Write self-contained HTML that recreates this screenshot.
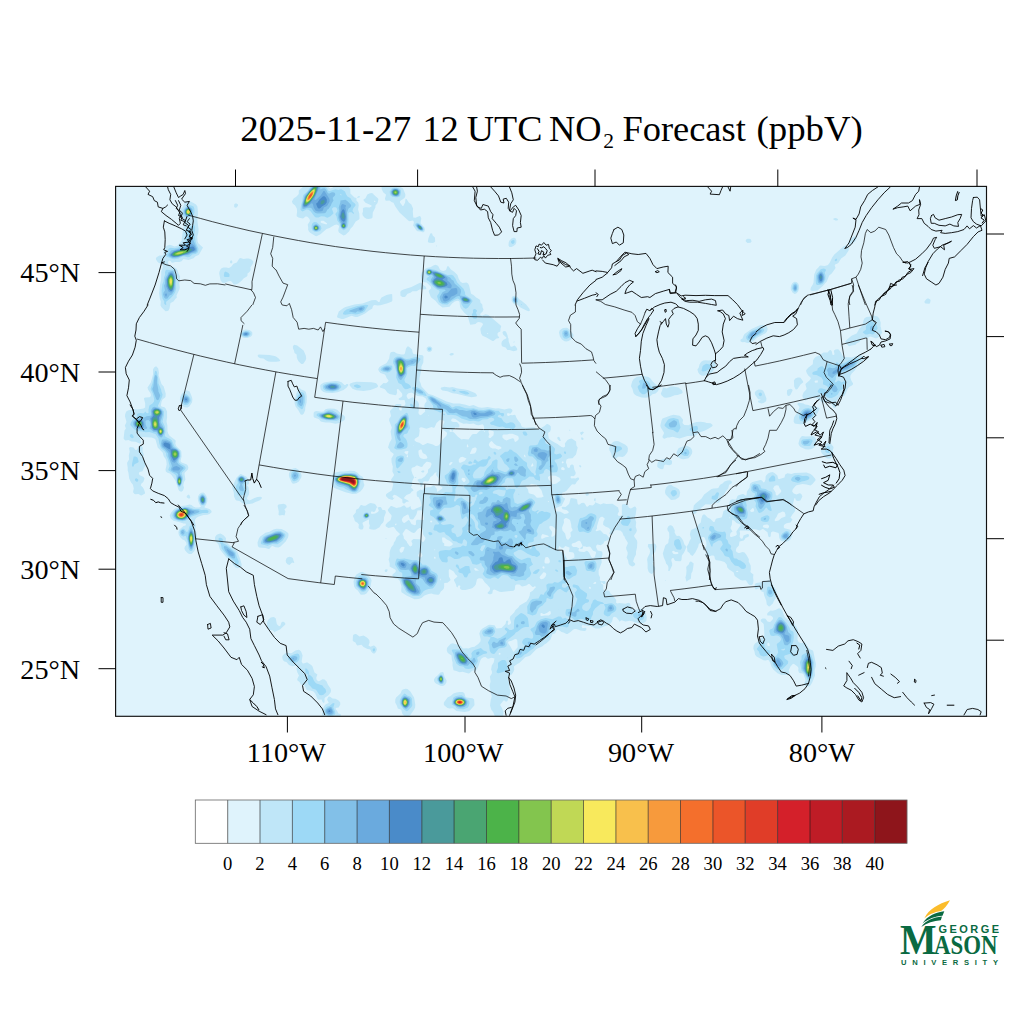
<!DOCTYPE html>
<html><head><meta charset="utf-8"><title>NO2 Forecast</title>
<style>
html,body{margin:0;padding:0;background:#fff;}
body{width:1024px;height:1024px;overflow:hidden;font-family:"Liberation Serif",serif;}
svg{display:block;position:absolute;left:0;top:0;}
text{font-family:"Liberation Serif",serif;fill:#000;}
.sans{font-family:"Liberation Sans",sans-serif;font-weight:bold;fill:#0a6a42;}
.ln{fill:none;stroke:#000;stroke-width:0.9;stroke-linejoin:round;stroke-linecap:round;}
.st{fill:none;stroke:#000;stroke-width:0.72;stroke-linejoin:round;}
.lb{fill:none;stroke:#000;stroke-width:1.0;stroke-linejoin:round;}
</style></head><body>
<svg width="1024" height="1024" viewBox="0 0 1024 1024">
<defs><clipPath id="mc"><rect x="115.6" y="186.4" width="870.9" height="529.9"/></clipPath></defs>
<rect x="115.6" y="186.4" width="870.9" height="529.9" fill="#dff3fc"/>
<g clip-path="url(#mc)">
<path fill="#bfe6f8" fill-rule="evenodd" d="M303.9 183.5 324.9 183.5 326.1 185.5 330.5 188.5 332.9 187.5 334.5 184.6 335.7 183.5 344.3 183.5 347.8 185.5 348.8 186.5 350.3 189.5 350.4 193.5 354.5 197.5 356.5 198.1 356.4 200.5 358.2 202.5 358.5 203.5 358.7 205.5 358.1 209.5 359.3 213.5 359.5 218.5 359 219.5 355.7 221.5 352.7 226.5 350.5 228.8 349 231.5 345.5 234.8 343.5 235.4 338.9 232.5 338.2 230.5 339.1 226.5 338.5 225.3 336.5 224.6 334.5 225 329.5 228.1 326.5 229.1 320.5 234.2 316.5 236.2 315.5 236.1 310.5 233 308.9 231.5 308.1 229.5 308.2 227.5 307.7 224.5 309.7 221.5 309.9 220.5 309.5 219.1 307.5 216.8 306.5 216.4 305.5 216.6 303.5 218.3 302.5 218.4 298.5 217.6 296.9 216.5 296.6 215.5 297.1 211.5 296.8 208.5 295.1 205.5 292.7 203.5 291.9 201.5 293.6 198.5 296.5 196.5 298.4 194.5 298.8 193.5 298.8 190.5 302.4 187.5ZM321.5 220.8 320.6 221.5 320.8 222.5 321.5 223 326.5 224.4 327.2 223.5 323.5 220.8ZM381 183.5 389 183.5 391.5 184.8 394.5 185 396.5 185.9 399.5 186.4 403.1 188.5 405.4 194.5 405.2 196.5 404.5 198 400.5 200.7 400 201.5 400 202.5 402.5 205.9 403.5 205.8 405.1 202.5 405.5 198.7 406.5 199.1 408.8 202.5 411.3 204.5 413.1 208.5 412.8 211.5 413.3 217.5 415.5 217.7 419.5 216 420.5 216.5 421.3 218.5 420.6 222.5 420.8 223.5 424.4 227.5 424.9 229.5 424.4 231.5 423.5 232.2 422.5 232.3 420.5 231.5 417.5 231.2 416.5 230.6 413.1 225.5 413.9 222.5 413.5 220.9 412.5 220.5 409.5 221.2 408.5 220.7 399.5 212.5 395.3 206.5 393.5 202.8 391.5 202 389.5 200.5 386.5 200.8 385.5 200.4 384.9 198.5 385.9 195.5 385.9 194.5 383.4 192.5 381.8 189.5ZM369.4 193.5 371.5 193 373 193.5 373.6 194.5 378.1 198.5 378.4 199.5 377.5 203 375.5 205.4 375.4 207.5 372.8 212.5 372.5 217.5 371.5 218.5 368.5 219.1 366.5 218.7 364.4 217.5 362.8 215.5 362.3 213.5 363 211.5 362.9 208.5 363.5 207.7 365.5 207.2 369.6 207.5 371.5 206.5 371.6 205.5 365.5 202.8 363.6 200.5 363.5 199.5 365.5 198.3 367.3 194.5ZM374.5 200.5 373.9 201.5 374.5 202 375.7 201.5ZM357.9 196.5 359.5 196 359.8 196.5 359.5 197.5 357.5 197.8 356.9 197.5ZM187 201.5 189.5 201.1 193.5 202.9 196 204.5 197.4 206.5 197.9 211.5 197.9 214.5 197.4 217.5 197.5 221.5 198.6 229.5 198.4 232.5 197.3 236.5 197.6 241.5 198.5 243.5 203 247.5 199.1 254.5 198.5 255.1 195.5 256.3 193.5 258.2 188.5 259.9 183.5 259.1 181.5 261.2 179.5 262.1 175.5 262 172.5 262.7 171.5 262.5 171 261.5 169.5 260.5 168.1 261.5 168.1 263.5 169.5 265.8 170.5 266.6 173.5 266.8 176.5 268.7 177.7 270.5 178.5 273.3 180.1 276.5 179.2 283.5 179.8 287.5 179.4 289.5 176.5 295.5 176.8 297.5 176.5 298.1 175.5 298.8 173.5 301.5 170.5 303 169.5 308.5 168.5 310.4 167.5 311.1 165.5 311.2 161.5 307.3 160.5 305.5 160.8 301.5 159.8 298.5 159.1 293.5 159.9 285.5 161.1 279.5 161.2 271.5 163.1 266.5 162.8 265.5 161.5 263.9 158.5 262.7 157.5 261.8 156 259.5 155.9 258.5 156.5 257.3 159.5 255.6 162.7 255.5 163.5 254.5 163.4 251.5 164.1 249.5 165.1 247.5 166.5 246.1 169.5 244.8 171.5 245.2 174.5 246.4 176.5 246.1 177.5 245.5 181.6 240.5 183.2 228.5 184.5 224.5 183.5 220.5 179 215.5 178.5 213.5 179.8 210.5 183.1 206.5 184.3 203.5ZM235.1 203.5 236.5 203.4 238 204.5 238 205.5 237.4 206.5 236.5 207.4 235.5 207.7 234.5 207.3 234.1 206.5 234.2 204.5ZM833.4 218.5 835.5 218 837.1 218.5 838.2 219.5 837.3 220.5 835.5 220.6 833.4 219.5ZM430.3 233.5 431.5 233.2 432.1 233.5 432.7 235.5 434.9 237.5 435.2 241.5 434.2 242.5 432.5 242.9 429.5 242.8 428.5 242.5 427.8 241.5 428.5 238.1ZM854.5 236.5 855.9 236.5 856.6 237.5 856.1 239.5 855.1 241.5 850.5 244.9 848.5 244.7 848 243.5 848.8 241.5 852.7 237.5ZM511.5 238.5 513.5 237.7 514.5 237.8 515.5 238.5 516.4 240.5 516.3 242.5 515.4 244.5 513.5 246.1 511.5 246.9 509.5 246.9 508.5 245.5 508.7 242.5 509.5 240.5ZM746.2 239.5 747.5 238.8 749.5 238.8 750.9 239.5 751.6 241.5 750.5 242.8 747.5 243 745.8 241.5 745.7 240.5ZM436.3 245.5 436.5 244.8 436.9 246.5 436.5 246.8ZM843.5 246.5 845.5 245.5 847.5 245.9 849 248.5 848.6 250.5 845.4 255.5 841.1 258.5 838.5 262.7 837.5 263.6 835.1 264.5 834.7 265.5 835.5 267.5 835.3 268.5 831.7 273.5 829.2 275.5 826.8 281.5 822.5 286.3 817.5 290.4 812.5 291 810.7 290.5 810.4 289.5 810.9 287.5 812.8 284.5 813.5 282.5 814.2 274.5 816.3 269.5 818.4 267.5 819.5 265.9 820.5 265.6 824.5 265.9 827.5 265.3 828.4 264.5 829.8 262.5 832.2 257.5 834.3 254.5ZM239.3 258.5 240.5 257.9 243.5 258.9 246.5 258.4 248.8 258.5 251.5 259.5 253.3 261.5 253 263.5 250.4 267.5 250.7 269.5 250.4 270.5 249.5 272 247.5 273.5 247.5 275.5 246.8 276.5 243.5 278.4 241.9 280.5 238.5 283.2 236.5 284.2 234.5 284.4 233.5 283.9 231.5 281.5 230.5 281.1 228.5 281.3 224.5 282.9 222.5 282.8 220.6 280.5 219.2 273.5 219.5 271.5 220.5 269.5 221.5 268.3 223.5 267.5 226.5 267.5 228.5 267.9 229.5 267.7 231.4 266.5 233.5 263.8 236.8 262.5ZM230.7 260.5 231.5 260.2 232.3 261.5 232.4 262.5 231.5 263.5 230.5 263.2 230 262.5 230 261.5ZM433.4 265.5 435.5 264.8 437.5 265.4 438.5 266.5 439.9 269.5 441.3 270.5 443.5 271 445.5 270.3 446.2 269.5 447.2 266.5 447.5 266.2 448.5 266.2 450.9 269.5 454.5 272.1 457.5 274.9 458.6 278.5 460.5 281.7 462.5 282.9 466.5 282.6 468.1 283.5 469.1 285.5 471 293.5 471.5 294.1 473.5 294.9 476.2 297.5 479.6 299.5 480.2 300.5 480.4 302.5 482.3 304.5 482.6 307.5 483.5 309.5 482.7 311.5 480.5 313.5 480.2 314.5 480.5 315 481.5 315.5 482.5 315.4 485.5 314.3 488.5 315 500.7 325.5 501.2 326.5 500.5 328.5 500.3 331.5 498.2 332.5 497.5 333.6 497.6 335.5 499.3 337.5 498.5 338.3 496.5 338.6 493.5 341.1 492.5 341.1 486.5 337.6 482.5 335.8 481.1 333.5 480.4 329.5 480.5 328.5 483 324.5 482.7 323.5 481.2 322.5 478.5 321.9 477 322.5 475.5 323.9 470.5 324.8 470.1 324.5 467.5 315.5 464.5 313 460.8 308.5 460 306.5 459.5 301.7 458.5 301 457.5 300.8 454.7 301.5 452.1 303.5 449.5 306.7 442.5 307.4 438.5 304.4 435.5 300.7 431.5 297.8 430.6 296.5 428.7 291.5 428.9 290.5 431.1 288.5 430.8 286.5 426.6 282.5 422.5 282 421.6 281.5 420.8 275.5 421.7 272.5 425.5 268.7 427.5 267.8 430.5 267.3ZM487.5 332.9 486.9 333.5 487.5 334.1 488.4 333.5ZM793.1 282.5 794.5 281.8 796.5 282 798.2 283.5 799 285.5 799.1 288.5 798.1 291.5 796.5 293.3 795.5 293.8 794.5 293.9 792.5 292.5 790.8 289.5 790.7 287.5 791.1 285.5 792.1 283.5ZM418.4 283.5 420.5 282.5 421.5 282.9 422.5 284.5 425.5 286.6 426.5 288.6 425.5 289.3 419.5 289.5 416.5 291.2 412.5 291.3 410.5 292.8 407.5 293.8 405.5 296.5 404.5 296.9 402.5 296.9 400.5 295.8 400.3 292.5 400.5 291.5 401.5 290.4 403.5 289.4 411.5 286.9ZM388.6 294.5 391.5 293.9 392.2 294.5 392.4 300.5 391.9 301.5 387.5 303.3 380.5 305.2 377.5 305.5 374.5 305 373.5 305.4 372.8 306.5 372.3 308.5 368.5 310.8 365.5 313.2 362.5 314.8 357.5 316.9 355.5 316.9 351.5 315.8 343.5 319.1 341.5 319 337.3 317.5 337 316.5 338.8 311.5 343.5 308 345.5 307.1 354.5 304.6 362.5 303.5 371.5 300.3 375.5 300.1 376.8 300.5 378.5 301.9 379.5 301.9 380.3 299.5 381.5 297.5 386.5 295ZM512.4 296.5 514.5 295.7 515.5 295.8 517.5 297.1 519.5 299.6 521.5 300.8 526.1 304.5 529.3 308.5 530 310.5 528.5 311.2 526.5 310.6 520.5 307.6 517.5 304.7 514.5 304.2 513.5 303.6 511.9 301.5 511.6 300.5 511.7 297.5ZM927.4 298.5 928.5 298.6 930.2 299.5 930.6 300.5 930.2 302.5 929.5 303.8 925.5 303.5 924.5 302.5 924.5 301.5 925.2 300.5 926.5 298.9ZM870.6 316.5 873.5 315.6 875.5 315.9 877.5 316.6 879.3 318.5 880.7 322.5 880.5 326.5 881 327.5 881.4 330.5 882.2 332.5 880.4 335.5 878.5 337.3 876.5 338.2 875.5 338.2 870.5 336.6 869.5 336.7 867.5 338.1 866.5 338.3 862.5 337.9 861.3 338.5 859.5 342.1 856.5 343.5 855.5 344.7 851.5 345.4 849.5 346.3 848.5 346.1 847.4 344.5 845.9 343.5 845.3 342.5 845.4 341.5 845.9 340.5 851.5 335.7 856.6 333.5 859.5 328.6 862.5 325.6 863.4 320.5 864.5 318.2 866.5 317.1ZM759.3 325.5 761.5 324.9 765.5 324.9 766.4 325.5 767.6 328.5 767.6 329.5 767 331.5 765.5 333.3 757.3 337.5 753.5 341 749.5 342.7 747.5 343 744.5 341.9 742.5 342.3 740.7 341.5 740.4 340.5 740.7 339.5 742.5 338.5 743.6 335.5 744.5 334.1 751.5 328.9ZM562.1 328.5 563.5 328 566.5 327.8 567.5 328 569.5 329.5 573.4 334.5 573.5 336.5 572.4 338.5 568.5 341 566.5 341.5 564.5 341.2 561.9 339.5 559.9 336.5 559 332.5 559.6 330.5ZM242.6 330.5 245.5 329.6 249.5 330.1 251.5 331.4 252.3 332.5 252.3 334.5 251.9 335.5 250.5 336.8 247.5 338 244.5 337.9 241.5 337 240 335.5 239.8 334.5 240.9 332.5ZM503 331.5 504.5 330.9 505.5 331.2 506.4 332.5 507.6 335.5 507.9 337.5 508.5 338.4 508.7 341.5 510.5 346.4 511.5 346.8 512.5 346.6 514.5 345.6 515.5 346.2 517.1 348.5 517.3 349.5 516.6 350.5 513.5 351.3 509.5 349.9 507.5 350 505.6 347.5 502.5 346.5 501.7 345.5 501.4 343.5 501.9 341.5 503.5 339.7 506.1 338.5 506.4 337.5 503.1 334.5 502.5 332.5ZM514 341.5 514.5 341.2 514.5 342.2 513.5 342.8 513.5 342ZM293.4 345.5 294.5 344.8 297.2 345.5 303.6 350.5 305.8 355.5 306.2 358.5 305.5 360.5 303.5 363.4 302.5 364 301.5 363.9 300.5 363.3 298.5 361.2 297.5 359.5 296.8 357.5 296.7 354.5 294.5 352.9 294 350.5 293 348.5 292.9 346.5ZM407.4 346.5 408.7 346.5 412.1 349.5 412.6 352.5 413.5 354 422.5 355.2 423.5 356.5 423.3 362.5 421.4 366.5 421.4 369.5 419.5 378.5 419.4 380.5 420.7 383.5 421.5 386.5 428.5 393.9 432.5 394.9 446.6 401.5 453.5 403.6 459.5 403.6 465.5 404.7 469.5 405.9 473.5 405.1 478.5 407.3 481.5 407.8 484.5 407.6 487.5 406.9 495.4 408.5 498.5 408.2 504.5 409.4 508.5 408.4 510.5 408.6 512 409.5 512.5 410.5 512.2 411.5 510.5 413.7 507.5 413.1 507 414.5 507.5 415.7 508.5 416 510.5 415 512.5 415.2 514.5 414.7 515.5 415.3 516.3 417.5 518.1 420.5 520.6 423.5 521.5 426.2 522.5 426.9 525.5 427.8 533.5 427.2 534.5 427.4 537.5 429.3 538.5 429.4 544.5 426.1 546.5 424.2 547.5 423.9 549.5 425 550.8 426.5 550.8 429.5 550.1 431.5 548.5 432.5 548 433.5 548.8 438.5 551.2 440.5 555.5 443.1 557.5 443.9 561.5 447 563.5 447.4 564.5 447 565 446.5 565.1 445.5 564.8 443.5 567.5 440.1 569.5 439 571.5 438.6 572.5 438.9 576.1 441.5 576.4 445.5 577.7 447.5 576 454.5 572.5 458.2 568.5 458.5 566.5 459.5 565.9 462.5 566.8 464.5 567.1 466.5 567.7 467.5 568.5 467.9 569.8 467.5 570.2 465.5 571.5 464.6 572.5 464.6 573.7 465.5 574.3 469.5 575.7 472.5 575.5 474.2 574.5 475.6 573.5 476.2 571.5 476.1 570.7 476.5 570.5 477.6 571.5 478.4 573.5 478.2 575.5 478.6 577.5 477.5 578.5 477.6 579.2 478.5 579 479.5 576.9 481.5 575.5 483.9 574.5 484.4 572.5 484.2 571.5 484.7 566.5 490.7 564.5 492.1 562.5 492.5 562 493.5 562.3 496.5 563.5 497.7 565.1 498.5 564.8 499.5 561.5 506.1 559.5 506.4 554.7 508.5 554.5 509.8 555.5 511.3 560.5 511.7 564.5 514.1 567.5 513.6 568.5 512.8 568.9 512.5 568.4 511.5 566.5 509.9 562.5 509.3 561.6 507.5 562.5 506.7 565.5 507 568.5 504.5 569.3 503.5 570.5 498.6 571.5 497.9 575.5 498.7 577.1 499.5 577.5 503.5 578.5 504.7 579.5 504.4 581.5 502.9 583.5 502.7 584.8 503.5 586.5 506.5 587.5 506.7 589.5 505 592.5 505.5 593.5 504.9 594.9 503.5 595.5 501.7 595.7 502.5 600.5 504.4 603.5 503.3 606.5 504.1 612.5 503.8 618.1 507.5 619 511.5 617.8 513.5 617.6 514.5 618.1 515.5 619.5 516.1 621.5 515.5 621.9 514.5 621.8 505.5 622.5 504.3 625.5 504 627.3 504.5 628.8 507.5 630.5 508.4 631.5 508.3 634.5 506.5 635.5 506.8 636.5 508.5 635.7 514.5 634.7 517.5 636.2 522.5 635.7 526.5 636.9 530.5 636.2 532.5 634.1 535.5 634.2 536.5 637 540.5 637.3 542.5 637 547.5 636 551.5 636 554.5 634.4 557.5 633.1 561.5 635.1 563.5 635.2 564.5 634.5 565.6 632.7 566.5 631.5 566.2 629.5 565 628.6 563.5 628.1 560.5 626.6 557.5 627.6 554.5 627.7 552.5 626.4 549.5 626.1 547.5 627.8 543.5 627.7 542.5 625.2 538.5 624.5 536.5 623.5 535.4 622.4 532.5 620.4 530.5 616.5 530 614.7 530.5 613.5 531.4 612.5 533.9 611.5 534.4 609.5 533.9 609.2 533.5 610.7 530.5 610.4 529.5 608.5 527.8 605.3 526.5 603 524.5 603.4 521.5 604.5 519.5 604.7 518.5 602.5 516.8 601.5 516.7 600.5 517.2 599.3 518.5 596.9 526.5 597 528.5 595.5 530.5 596.5 531.2 599.5 530.2 600.7 530.5 603.5 533.8 606.5 534.6 609.8 538.5 608.5 540 604.5 541.2 603.4 543.5 601.5 544.8 600.5 545.2 597.5 544.6 596.5 545.3 596.1 546.5 596.2 547.5 597.7 550.5 601.5 551.3 602.4 552.5 602.5 554.5 601.4 558.5 601.7 562.5 598.6 570.5 598.7 574.5 600.1 577.5 599.8 579.5 600.1 580.5 601.5 581.3 604.5 580.9 605.5 581.5 605.5 583.3 604.5 584 603.5 584 601.5 582.1 601.1 583.5 602.5 584.2 603.3 585.5 603.2 588.5 603.5 589.8 604.5 590.6 608.5 590.6 609.5 591.2 610.5 593.5 612.9 595.5 615.9 599.5 616.3 600.5 616 602.5 616.5 603.1 617.5 603.5 619.5 603 625.5 603.7 628.5 602.7 629.9 603.5 631.5 608.5 632.5 609.2 635.5 609.7 641.5 608.7 644.5 610.5 645.5 611.7 646.8 617.5 646.4 620.5 645.8 621.5 643.5 622.9 641.5 623.4 635.5 622.5 632.5 621.3 629.5 620.7 625.5 621.4 621.5 620.3 619.6 621.5 619.5 622 618.9 620.5 616.5 617.5 614.5 616.7 613 617.5 612.1 621.5 610.5 623.5 607.5 625.5 604.5 626.3 599.5 628.5 595.5 628.4 590.5 626 588.5 626.1 586.5 625.5 584.5 625.6 582.5 624.7 581.6 626.5 582.5 628.2 585.5 627.8 586.5 628.5 586.4 629.5 585.5 630.7 584.5 631 580.5 630.5 576.5 629.1 574.5 629 573.3 629.5 570.5 632 567.5 633.9 566.5 634.1 563.5 632.6 561.5 632.1 558.5 629.8 557.5 629.8 556.5 630.5 555 633.5 552.5 634.1 550.5 639.4 546.5 643.2 544.3 644.5 542.5 646.2 536.5 649.1 530.5 655.2 528.5 656.3 525.5 657 519.5 662.8 516.5 664.4 513.8 666.5 514.3 669.5 513.6 671.5 511.7 674.5 509.2 675.5 508.6 676.5 507.7 679.5 509.2 682.5 509.6 688.5 510.6 691.5 510.2 693.5 508.1 698.5 507.7 700.5 506.9 701.5 505.5 701.6 504.5 700.4 503.5 700.6 500.3 704.5 500.3 705.5 501.7 707.5 503.4 711.5 503.1 717.5 495.4 717.5 493.4 712.5 491.2 709.5 490 705.5 490.8 699.5 491.8 696.5 490.7 692.5 489.6 685.5 490.6 681.5 489.9 676.5 491.9 673.5 491.9 671.5 491.1 669.5 491.8 665.5 493.7 662.5 494.5 658.5 491.5 657.8 488.5 658.7 487.3 658.5 485.5 657 483.5 657.3 481.5 658.5 480.5 659.9 478.7 665.5 476.8 669.5 475.8 670.5 472.5 670.5 469.5 673.2 468.5 673.4 462.5 671.7 459.5 672.3 456.5 671 453.5 670.3 452.5 665.5 452.6 662.5 451.8 659.5 451.5 655.5 448.5 653.6 447.5 652.5 446.8 650.5 446.9 648.5 447.5 647.3 450.5 644 452.5 643.3 460.5 645.6 462.5 648 463.5 648.5 466.5 648.2 468.5 648.5 471.5 647.2 474.5 646.7 478.5 643.8 480.4 641.5 480.7 639.5 479.3 633.5 480.5 630.5 482.5 628.4 488.5 625 489.5 624.8 494.5 625.2 496.5 628.4 501.5 627.9 505 624.5 505.7 623.5 506 621.5 506.5 620.8 507.5 620.4 508.4 621.5 507.7 623.5 507.8 624.5 508.5 625.1 509.5 624.5 510.8 623.5 511.1 622.5 509.8 618.5 510.1 616.5 514.1 612.5 515.5 610 518.4 607.5 519.6 605.5 526.5 601.5 528.5 598.5 529.7 595.5 530 592.5 533 590.5 534.5 588.4 535.8 587.5 535.6 586.5 534.5 586.2 533.5 587 532.5 587.1 529.5 584.1 528.5 584 526.3 585.5 522.5 586.4 521.5 586.2 519.5 584.5 517.5 584.4 516.5 584.6 515.2 585.5 514.8 589.5 513.5 590.7 501.5 592.1 499.5 591.7 494.5 589.6 493.5 589.7 492.8 590.5 492.3 593.5 490.5 594.3 489.5 594.3 487.7 593.5 487.7 592.5 489.7 590.5 490.1 588.5 489.7 587.5 487.1 584.5 484.8 582.5 482.5 578.9 481.5 578.4 479.5 578.2 478.1 578.5 476.9 579.5 475.8 584.5 474.5 586.2 472.5 587.9 470.5 588.8 465.5 589.9 462.5 590.1 460.9 589.5 460 588.5 459.9 587.5 460.4 586.5 460 585.5 458.4 585.5 457.5 587.4 456.5 586.8 456 584.5 454 580.5 454 579.5 457.5 576.5 456.9 575.5 455.5 574.6 453.7 571.5 449.5 569.1 448.7 570.5 448.9 576.5 450.5 579.5 450.2 580.5 447.5 582.8 444.5 582.9 444.1 583.5 444.2 586.5 443.8 588.5 443.2 589.5 440.8 591.5 439.5 594 438.5 594.7 437.5 594.8 433.5 594.3 431.5 593.5 428.5 593.9 424.5 595.6 421.5 598.1 418.5 598.9 414.5 599.2 406.5 595.5 401.5 592.2 401.2 590.5 401.5 586.5 399.6 580.5 397.5 578.7 395.5 578.6 393.5 577.7 392.3 575.5 392.6 574.5 395.5 572 395.9 570.5 395.1 569.5 389.6 566.5 389.7 563.5 388.6 559.5 389.6 556.5 389.6 552.5 390.1 550.5 391.2 547.5 393.5 544.5 393.9 542.5 395.4 540.5 396.5 537.2 399.8 534.5 399.6 533.5 396.5 530.8 394.5 527.7 393.5 526.8 388.5 527.9 385.9 526.5 385.5 525.5 385.8 524.5 387.5 522.4 390.5 520.3 391.6 516.5 391.5 515.3 389.1 512.5 387.9 510.5 387.9 509.5 390.5 506.3 391.5 506 396.5 508 398.5 507.4 400.5 507.3 403.5 505.6 404.5 505.6 406.5 507.7 408.5 507.4 410.5 505.9 411 508.5 411.5 509.3 412.5 509.8 414.5 509.6 415.9 508.5 420.5 506.8 421.6 505.5 420.5 500.7 418.5 497.1 417.5 497 416.8 495.5 416.6 492.5 417.2 491.5 420.5 489.6 422.5 490.5 423.7 488.5 424.5 487.9 427.5 487.3 430.5 487.3 433.5 485.6 434.5 486.1 436.5 488.5 436.9 489.5 437 491.5 437.5 491.8 442.3 488.5 442.4 487.5 438.2 484.5 437.6 483.5 439.2 481.5 439.4 480.5 438.5 478.2 436.5 475.5 436.2 474.5 436.5 472.1 434.5 473.2 432.8 475.5 430.5 477.1 428.5 481.1 427.5 481.5 424.5 481.2 423.7 481.5 423 482.5 422.5 484.8 421.5 486.7 420.5 486.8 420.4 483.5 417.6 480.5 417.8 479.5 419.5 478.8 421.5 478.7 424.8 476.5 427.9 472.5 428.1 469.5 430.4 467.5 431.5 464.5 431.4 463.5 430.7 462.5 427.5 461.7 426.5 461.8 423.7 464.5 422.5 466.6 421.5 467 420.5 466.7 417.5 465.4 416.5 465.5 414.5 466.9 412.5 467.4 411.5 468.5 411.4 470.5 412.5 474 414.3 477.5 413.5 478.4 412.1 481.5 412 485.5 410.7 487.5 412.5 488.7 413.6 490.5 411.5 491.7 410.3 493.5 406.5 495 404.2 497.5 404.2 498.5 408.1 500.5 409 501.5 406.5 501.7 404.5 503.5 403.5 503.5 402.4 502.5 402.3 499.5 396.5 495.4 394.5 494.7 393.1 495.5 392.5 496.8 393.5 497.9 394.8 497.5 392.5 500.1 388.5 498.7 386.3 496.5 385.9 495.5 386 494.5 386.9 493.5 391.7 490.5 393.2 484.5 392.7 482.5 391.2 480.5 391.1 479.5 393.9 475.5 393.9 474.5 392.4 471.5 392.8 466.5 391.6 462.5 391.4 458.5 393.7 454.5 393.3 453.5 390.5 451.6 389.6 449.5 388 447.5 389.6 442.5 390.9 440.5 391.7 438.5 390.6 431.5 391.8 427.5 389.1 420.5 389.4 418.5 390.8 416.5 391 415.5 389.9 411.5 390.4 410.5 394.3 406.5 395.5 404.5 396.5 403.9 400.5 404 401.5 404.5 401 406.5 399.5 407.1 399 408.5 399.5 409.9 400.1 410.5 401.5 410.6 401.8 409.5 401.6 407.5 402.5 406.5 404.8 405.5 405.5 403.5 404.5 400 400.5 400.3 398.7 399.5 398.7 398.5 401.5 397 402.4 395.5 402.1 393.5 398.5 389.3 397.5 388.9 396.8 389.5 397.1 392.5 396.5 394.5 395.5 395.2 389.5 394 387.3 392.5 385.5 389.9 384.5 389.1 380 387.5 379.8 386.5 383.5 383 385.5 383.3 386.5 383 388.1 381.5 388.6 380.5 386.9 378.5 385.6 375.5 384.8 374.5 380.5 372.9 379.1 371.5 378.2 369.5 379.1 367.5 380.5 366.3 385.8 363.5 386.9 362.5 389.2 358.5 389.8 354.5 390.6 352.5 391.5 351.9 393.5 351.7 394.5 351.9 396.9 353.5 401.4 354.5 403.9 354.5 404.9 353.5 406 348.5ZM408.5 393.3 407.5 394 406.6 395.5 406.7 396.5 407.7 398.5 408.5 398.9 409.5 398.8 412.5 397.2 413.5 397.7 415 399.5 417.5 401.3 418.4 402.5 419.1 404.5 418.6 407.5 418.9 410.5 418.4 412.5 418.6 413.5 419.5 414.8 420.5 415.2 421.5 414.8 425.2 411.5 424.3 405.5 424.9 403.5 426.6 401.5 426.4 399.5 425.5 398.3 422.8 396.5 417.5 396.1 411.5 392.5ZM411.5 369.9 411.5 371 411.9 370.5ZM428.5 415.3 427.9 415.5 428.5 416.3ZM439.5 420.2 436.5 423.1 434.5 427.4 433.5 427.8 431.5 426.9 426.5 428.8 421.5 427.3 420 427.5 419.2 428.5 419.7 430.5 419 435.5 418.5 436.5 415.2 438.5 414.5 439.5 414.6 440.5 416.5 442 419.5 442.7 422.5 444.9 423.5 445 427.5 442.9 432.9 444.5 435.5 446 436.5 446.1 438.5 445.4 441.1 442.5 442.5 439.8 446.5 435.5 447.1 433.5 446.8 432.5 443.5 430 442.6 428.5 442.8 425.5 444.3 422.5 444.4 421.5 443.5 420.5 442.5 420.1ZM451.5 419.2 451.1 420.5 451.8 421.5 453.5 422 456.5 422 457.5 422.6 459.1 424.5 459.5 426.5 458.5 427.5 455.5 427.5 454.5 427.9 452.5 431.3 450.5 429.3 449.5 430.5 449.7 431.5 450.5 431.9 452.5 431.6 454.5 433.1 457.6 436.5 461.5 439.6 463.5 439 468.5 439.4 472 434.5 473.5 433.9 476.5 434 480 430.5 481.5 430 483.5 430.4 484 429.5 484.1 427.5 483.7 425.5 482.5 424.2 478.5 425.3 476.5 425 473.5 423.6 469.5 424.1 466.5 423.6 463.5 423.7 459.5 422 455.5 419 453.5 418.5 452.5 418.6ZM484.5 430.7 484 431.5 484.5 432.3 485.1 431.5ZM489.5 429.9 488.7 430.5 488.4 431.5 489.3 434.5 488.5 436.5 488.6 437.5 489.5 438 490.5 438 493.5 435.2 493.8 432.5 493.5 431.3ZM503.5 434.4 502.4 435.5 502.4 437.5 504.4 439.5 506.5 440.4 512.5 438.2 513.5 438.4 514.2 439.5 514.5 441.3 515.5 442 517.6 440.5 518.5 439.5 518.8 438.5 518.4 436.5 517.5 435.7 512.5 433.8 509.5 433.7 507 434.5ZM524.5 454.5 523.9 455.5 524.5 457.1 525.5 457.6 525.5 456.1ZM530.5 484.2 528.5 485.7 526.5 485.7 525.5 486.2 528.1 489.5 528.5 492.5 529.5 493.4 533.5 494.6 534.9 495.5 536.5 497.5 537.5 497.8 541.4 497.5 543.7 496.5 542.7 494.5 541.6 490.5 537.8 485.5 536.5 484.8 531.5 483.8ZM532.5 463.1 530.7 466.5 532.5 466.6 533.5 465.6ZM548.5 476.4 547.9 477.5 548.5 479.5 550.7 481.5 552.5 483.9 553.5 484.3 556.5 483.5 560.4 480.5 560.5 479.3 559.5 477.7 555.5 475.7 550.5 475.6ZM561.5 467.4 561.1 468.5 561.5 469.7 563.5 470.2 564.5 469.9 564.7 468.5 563.8 467.5 562.5 467.1ZM562.5 461.3 561.6 462.5 562.5 463.5 563.8 462.5 563.2 461.5ZM559.5 545.8 558 549.5 560 551.5 562.5 552.2 564.1 553.5 567.4 559.5 568.5 559.8 570.5 559.6 574.4 557.5 574.3 554.5 573.5 552.8 572.5 552.2 569.5 552 568.8 551.5 569.5 548.5 569.4 547.5 565.5 546.1 564.7 546.5 564.1 547.5 562.5 548 561 547.5ZM565.5 517.9 563.7 519.5 564 522.5 562.1 527.5 562.1 528.5 562.5 530.5 565.1 533.5 566.3 538.5 567.5 539.8 568.5 539.7 570.9 536.5 570.4 532.5 572.5 530.5 572.5 529.5 571.4 527.5 571.2 524.5 570.2 520.5 569.5 519.5 566.5 518ZM577.5 541.2 575.5 542.6 572.2 543.5 571.6 544.5 571.7 545.5 572.5 546.5 573.5 547 576.5 547.1 579.4 548.5 578.6 549.5 578.4 550.5 579.5 551.5 583.5 552 584.5 551.9 586.5 550.8 587.5 551 589 552.5 591.6 557.5 592.5 557.9 594.3 557.5 595 556.5 596.1 552.5 595.5 551.5 593.5 550.9 592.5 550.1 590.5 547.1 589.5 546.6 586.5 547.1 585.5 546.5 583.5 546.2 582.8 546.5 583.1 547.5 582.5 548.8 581.5 549.1 579.6 548.5 582.2 546.5 582.4 545.5 580.5 541.5 579.5 540.7 578.5 540.7ZM499.5 652.7 498.7 653.5 498.8 654.5 499.5 654.7 500.4 654.5 500.7 653.5ZM514.5 639.3 511.5 640.8 508.5 641.4 508.1 642.5 508.5 643.8 509.8 645.5 513.5 652.1 517.5 647.6 517.7 646.5 517.3 640.5 516.5 639.3 515.5 639ZM395.5 523.7 395 524.5 395.5 525.4 396.5 524.5 396.5 523.5ZM401.5 547.1 399.5 549.5 399.8 551.5 400.5 552.6 401.5 552.8 403.1 551.5 404.6 547.5 403.5 546.7ZM417.5 510.4 416.4 514.5 413.5 519 412.5 519.5 410.5 519.3 409.7 518.5 408.5 514.7 407.5 514.4 403.5 516.8 402.5 517.9 401.8 519.5 402.3 521.5 403.5 522.8 404.5 523.1 408.5 520.1 409.5 520.5 411.5 523.9 414.5 525.3 415.5 525 415.9 524.5 415.9 521.5 416.5 520.1 417.5 519.7 423.5 520 424 519.5 423.9 517.5 422.5 510.8 421.5 510.3ZM431.5 520.5 430.5 520.7 430.1 521.5 430.5 522.2 431.5 522.5 432.4 521.5ZM434.5 549.4 434 549.5 434.5 550.5 435.4 549.5ZM440.5 578.3 440 579.5 440.5 580.7 440.8 579.5ZM405.5 451.3 404.9 451.5 404.3 452.5 406.5 454.4 407.5 454.5 408.6 451.5 407.5 451ZM413.5 445.1 412.9 445.5 413.5 445.8ZM420.5 449.4 418.6 450.5 418.4 451.5 418.7 454.5 419.5 456.9 420.5 458 421.6 458.5 423.5 458.9 426.5 458.8 427.5 457.5 426.4 455.5 425.7 454.5 423.5 453.6 422.5 452.6 421.5 449.5ZM442.5 537.3 442 538.5 442.5 542.3 444.3 543.5 444.1 545.5 444.5 546 449.5 546.4 451.5 545.6 452.8 544.5 452.5 543.2 449.5 540.8 446.8 539.5 444.4 537.5ZM450.5 462.3 449.4 463.5 449.1 464.5 449.5 465.2 450.5 465.3 452.8 462.5 451.5 462ZM460.5 457.3 458.7 459.5 458.8 461.5 459.5 462.7 460.5 462.8 464.5 460.9 466.5 458.5 462.5 456.7ZM467.5 444.2 467 444.5 466.8 446.5 467.5 447.6 468.6 446.5ZM474.5 447.5 472.2 448.5 469.9 453.5 470.5 454.1 474.5 453.6 475.6 452.5 476.5 450.5 476.7 448.5 475.6 447.5ZM491.5 441.1 489.7 442.5 488.8 444.5 489 445.5 490.4 447.5 492.5 448.5 495.5 448.5 498.5 449.7 501.3 448.5 501.5 447.5 500.2 446.5 496.5 445.4 493.9 443.5 492.5 441.7ZM542.5 534.1 541.4 535.5 541.1 537.5 541.5 538.8 542.5 538.8 545.5 537.2 547.5 537.1 549.1 536.5 547.7 535.5ZM548.5 501.1 547.6 501.5 548.5 502.2 549 501.5ZM549.5 526.3 549.3 527.5 549.6 528.5 551.9 531.5 552.1 532.5 551.2 536.5 552.5 536.8 553.5 536.3 555.5 534.5 556.5 530.5 556.4 529.5 552.5 526.2 550.5 525.7ZM589.5 586.7 588.9 587.5 589.2 588.5 590.5 588.9 591 587.5ZM594.5 582.2 593 583.5 594.5 584 596.1 583.5 596.2 582.5 595.5 581.7ZM419.5 528 417.4 529.5 415 532.5 413.5 532.9 411.5 532.3 407.5 529.5 406.5 529 405.5 529.3 402.6 533.5 402.7 534.5 403.7 536.5 403.8 538.5 406.8 541.5 407 542.5 409.5 546 410.5 546.5 412.1 545.5 412.4 543.5 411.4 541.5 411.6 540.5 413.5 539 419.5 539.2 420.5 539.6 422.5 541.9 423.8 541.5 425.1 539.5 425.5 538.5 425.2 537.5 423.1 534.5 422.4 529.5 420.5 528ZM434.5 556.8 433.9 557.5 434.1 558.5 435.5 558.7 435.5 557ZM407.5 454.5 406.5 456.5 407.5 457.5 408.1 456.5ZM462.5 477.8 461.7 478.5 461.5 479.5 463.5 482.1 464.5 481.9 465.7 480.5 465.5 479.1 464.5 478.1ZM474.5 568.1 474.3 569.5 475.5 570.7 479 570.5 475.5 568.1ZM543.5 566.2 542.5 566.7 542.3 567.5 543.5 568.8 544.3 568.5 544.6 567.5 544.1 566.5ZM545.5 557.3 544.5 560.5 544.5 562.5 545.5 563.5 548.5 563.5 549.5 562.7 549.9 561.5 549.5 559.5 548.5 557.8 547.5 557.1ZM420.5 552.3 419.5 552.6 418.1 555.5 418.4 556.5 420.5 557.4 421.5 557.2 422.4 555.5 421.5 553.2ZM543.5 572.3 539.9 576.5 539.6 577.5 540.5 578.9 541.5 579.3 543.8 578.5 545.5 576.5 546.3 574.5 546.1 573.5 545 572.5ZM549.5 611.1 547.7 612.5 544.5 614 543.5 614 541.5 612.9 540.5 613.3 540.4 615.5 541.5 616 544.5 615.5 548.7 615.5 550.3 614.5 550.9 613.5 550.5 611.3ZM428.4 346.5 430.5 346.4 431.9 347.5 432.3 348.5 431.9 350.5 430.5 351.8 428.5 351.9 426.9 350.5 426.6 348.5 426.9 347.5ZM835.5 349.5 837.5 349.2 838.6 349.5 841 352.5 842.4 355.5 843.5 356.6 844.5 357.1 851.7 357.5 857.5 355.7 860.5 355.2 862.5 356.1 864.1 357.5 863.9 359.5 857.5 366.3 854.5 370.8 851.7 373.5 850.5 375.5 850.3 377.5 851.3 380.5 853.1 383.5 852.9 384.5 851.9 385.5 849.5 386.8 847.9 388.5 844.8 395.5 843.5 395.9 841.5 395.9 839 397.5 836.6 401.5 836.2 406.5 835.5 407.6 834.5 407.9 833.5 407.4 832.8 406.5 830.5 401.7 829.5 401.4 822.2 402.5 821.5 402.1 820.5 400.5 818.5 399.6 815.5 397.4 809.4 398.5 805.5 400.4 804.5 400.1 802.7 397.5 802.4 395.5 803.5 392.5 806.3 389.5 806.6 388.5 805.4 384.5 805.9 383.5 809.4 380.5 810.9 378.5 810.5 377.5 808.3 375.5 807 373.5 806.2 371.5 806.1 370.5 806.7 369.5 808.5 367.5 812.5 364.5 812.9 363.5 813 360.5 814.1 358.5 815.5 357 818.5 355.8 823.5 352.4 827.5 352.6 829.5 350.3 830.5 350.1 831.2 350.5 831.8 351.5 832.5 354.8 833.5 355.1 834.4 354.5 834.5 353.9 833.9 351.5 834 350.5ZM815.5 380.5 814.5 381.5 814.9 382.5 815.5 382.8 817.8 382.5 817.9 380.5ZM450.3 353.5 451.5 353 452.5 353 453.7 353.5 453.8 354.5 452.1 355.5 450.5 355.6 449.4 354.5ZM258.7 354.5 269.5 355.1 274.5 355.9 276 356.5 278.7 358.5 280.3 360.5 279.5 361.3 276.5 361.7 270.5 361.8 268.5 361.5 266.2 360.5 263.5 358.6 260.5 358.3 258.9 357.5 257.9 356.5 257.6 355.5ZM703.3 360.5 705.5 360.2 708.5 360.6 710.5 360.2 713.5 361.3 714.5 362 715.5 363.5 715.8 365.5 714.2 369.5 711.5 372.7 706.5 375 703.5 375.7 701.5 375.5 699.5 374.3 698.3 372.5 697.4 369.5 698.8 367.5 699.5 364.5 700.5 362.7 701.6 361.5ZM154.1 367.5 155.5 366.5 156.5 366.6 158.2 368.5 159 372.5 158.7 375.5 161.5 384.1 163.7 386.5 165.7 393.5 165.6 396.5 165.1 397.5 162.5 399.6 161.5 401.7 160.9 405.5 161.5 406.6 164.5 407.2 165.5 408.2 167.1 411.5 167.1 417.5 166.5 421.5 167.4 425.5 167.5 431.2 168.2 433.5 169.3 435.5 175.5 440.2 175.7 441.5 175.3 443.5 176 445.5 176.6 446.5 180.8 450.5 181.3 451.5 181.6 456.5 180.6 460.5 180.7 461.5 181.7 462.5 186.9 464.5 187.7 465.5 188.4 467.5 187.9 469.5 184.9 472.5 184.5 473.5 185.4 479.5 183.8 482.5 183.3 485.5 184 487.5 183.7 488.5 183 490.5 181.5 491.7 180.5 491.6 179.5 491.1 178.5 489.8 175.5 480.8 171.5 474.9 169.8 473.5 167.5 472.8 165.9 471.5 165.5 469.5 166.7 464.5 166.2 460.5 165.5 458.8 163.8 456.5 162.6 452.5 157.7 447.5 155.5 439.5 154.2 438.5 151.5 437.5 142.5 437.1 141.2 437.5 140.4 438.5 140.3 439.5 141.1 442.5 140.5 443.6 139.5 443.6 135.5 441.8 131.5 441.4 128.5 440.1 125.5 440.5 124.5 439.8 123.6 438.5 124.5 430.5 125.9 428.5 124.8 425.5 126.3 422.5 126.4 421.5 125 416.5 125.1 414.5 125.8 412.5 126.5 411.3 128.5 410.3 134.5 409.3 137.5 409.6 143.5 408.4 145.1 407.5 145.2 403.5 143.9 398.5 144.5 397.7 145.5 397.4 149.5 397.3 150.5 396.5 150.9 395.5 150.6 393.5 148 389.5 147.5 387.5 150.8 382.5 153 374.5 153 369.5ZM639.3 376.5 643.5 376.1 648.5 377.1 650.5 378.5 652.5 381.2 655.8 384.5 660.6 386.5 660.7 387.5 659.5 388.4 657.5 391.8 655.5 393.6 652.5 394.2 650.5 396 647.5 397.4 645.5 397.7 641.5 397.4 636.5 395.7 634.7 394.5 633.5 393 632.5 389.1 631.1 386.5 631.1 385.5 632.2 381.5 633.5 379.3 636.5 377.1ZM797.8 377.5 799.5 377.4 800.5 377.8 803.2 381.5 803.1 382.5 800.5 384.4 797.5 389 796.5 389.6 795.5 389.3 794.2 386.5 793.9 380.5 795.3 378.5ZM330.3 381.5 335.5 381 338.5 381.3 341.5 382.3 344.5 385 345.5 385 346.5 384.1 347.5 384 348.3 384.5 348.2 385.5 346.5 387.8 343.5 389.9 337.5 392.3 332.5 393 326.5 392.8 323.5 391.9 321.6 390.5 320.7 389.5 320.2 386.5 320.2 385.5 320.8 384.5 323.5 382.8 325.5 382.2ZM352.9 382.5 356.5 381.8 371.5 382.3 375.5 383.1 376.5 383.6 377.9 385.5 378 386.5 377 387.5 370.5 390.1 363.5 390.9 356.5 390.3 352.5 388.8 349.7 385.5 349.5 384.5 350.3 383.5ZM670.7 386.5 673.5 386.4 678.5 387.4 682.1 390.5 682.7 392.5 681.9 393.5 680.5 394.1 677.5 395 674.5 395.2 670.5 397 666.5 397.8 664 397.5 661.5 395.2 660.8 393.5 662.2 390.5 662.6 388.5 663.5 387.5 666.5 388.6ZM441.2 387.5 444.5 386.7 449.5 387.4 452.5 387.1 457.6 388.5 463.5 389.2 467.5 390.1 474.5 392.8 475.7 393.5 477.1 395.5 476.4 396.5 471.5 397.2 465.5 396.1 456.5 393.7 452.5 393.3 447.5 391.3 442.5 390.5 441.2 389.5 440.6 388.5ZM298.8 388.5 299.5 387.7 301.2 389.5 304.5 390.7 305.4 391.5 306 392.5 306.8 396.5 306.6 402.5 305.3 407.5 305.1 410.5 303.8 413.5 302.5 414.7 301.5 414.8 300.5 414.3 298.5 410.4 295.6 406.5 294.6 403.5 294.8 399.5 296.4 393.5ZM758.6 389.5 761.5 389.7 763 390.5 764.2 392.5 766.1 397.5 766.4 398.5 766.3 400.5 765.5 401.7 763.5 403.1 761.5 403.5 758.6 402.5 757.9 401.5 758.5 400.6 759.6 400.5 760.8 399.5 758.5 399.2 757.5 398.3 754.9 394.5 754.8 392.5 755.4 391.5 756.5 390.5ZM788.1 389.5 790.5 388.7 791.5 388.9 792.3 389.5 792.6 390.5 790.5 394.7 789.5 395.7 788.5 396 787.5 395.5 786.9 393.5 787 390.5ZM185.9 390.5 187.5 390.5 189.7 391.5 192.1 397.5 192.4 399.5 192 402.5 189.3 406.5 187.5 407.6 184.5 407.2 182.5 406.1 180.9 403.5 179.9 399.5 180.1 397.5 181.3 394.5 183.5 392ZM797.5 403.5 798.5 402.8 802.5 403.2 803.5 403.4 805 404.5 808.5 405 810.5 406 813.5 406.1 818.5 407.5 819.5 408.5 819.3 409.5 816.3 415.5 813.5 418.8 808.5 420.9 805.5 423.1 803.5 424 800.5 424.3 795.5 423.7 794.5 423.2 793.6 421.5 794 417.5 797.5 412.1 799.5 407.5 799.3 406.5 797.5 404.5ZM329.7 408.5 334.5 408.8 337.5 410 341 413.5 344.5 416 345.2 417.5 344.8 419.5 343.8 420.5 339.5 422.9 335.5 423.8 329.5 422.4 325.5 422.4 321.5 421.8 320.5 421.2 319.3 419.5 318.5 418.9 314.1 417.5 313.6 416.5 313.6 413.5 313.8 412.5 314.8 411.5 316.5 411 321.5 411.7 323.5 411.6 325.5 409.3 327.5 408.7ZM670.7 415.5 673.5 414.7 679.5 415.8 680.5 416.5 682.9 419.5 683.1 420.5 682.5 422.6 682.8 423.5 684.5 424.9 688.5 425.2 691.5 423.6 696.5 422 700.5 421.7 704.5 422.2 706.5 423.1 710.5 423.3 712.2 424.5 712.7 425.5 711.9 426.5 708.8 428.5 704.5 430.7 700.5 432.1 696.5 434.8 694.5 435.7 687.5 436 679.5 438.6 672.5 436.8 669.5 437.6 667.5 437.4 664.5 438.8 663.6 438.5 662.6 437.5 662.5 436.5 663.9 433.5 663.9 432.5 660.8 427.5 660.3 425.5 661.5 420.5 662.5 418.5ZM569.1 430.5 569.5 429.6 570.5 430.5 569.5 430.8ZM582.5 431.5 583.5 431.9 583.9 432.5 581.5 435.3 580.2 433.5 580.1 432.5ZM801.4 436.5 802.5 436.1 805.5 436.6 812.5 436.3 814.5 437 815.8 438.5 816.3 440.5 816 442.5 814.2 447.5 811.5 449.1 808.5 449.6 805.5 449.2 800.5 447 799.2 445.5 798.4 443.5 799.8 438.5ZM557.2 437.5 558.5 436.8 559.5 437.3 560.8 440.5 560.5 441.1 559.5 440.9 557.5 439ZM581.4 437.5 581.5 437.2 582.5 437.4 583.5 438.5 583.5 439.5 582.5 440 581.4 439.5 581.1 438.5ZM613.9 441.5 616.5 440.9 618.5 441.2 625 444.5 627.3 446.5 627.9 448.5 627.7 451.5 626.6 453.5 624.5 456 622.5 456.9 618.5 456.5 615.5 458.7 614.1 458.5 612.5 457.4 612 456.5 611.3 453.5 609.5 450.5 609.2 448.5 610 445.5 612.5 442.5ZM826.4 443.5 828.5 442.8 830.5 443.3 833.2 446.5 833.6 447.5 832.7 450.5 833.3 452.5 833.5 455.5 833 456.5 831.8 457.5 829.5 458.5 827.5 458.5 825.5 457.6 821.9 453.5 820.8 451.5 820.7 450.5 821.3 449.5 822.7 448.5 823.7 445.5ZM139.2 446.5 140.5 445.6 141.5 445.7 142.7 447.5 142.6 451.5 143.9 454.5 142.8 457.5 142.9 458.5 145 461.5 145.6 464.5 145.5 465.8 144.1 467.5 142.5 471.3 139.5 471.9 138.8 473.5 139.5 475.1 143.5 477.1 144.5 478.5 143.5 481.5 142.8 482.5 141.4 483.5 140.8 485.5 142.9 487.5 144 489.5 145 492.5 145 493.5 141.5 495.4 140.5 495.3 138.5 494 135.5 494.2 134.5 494 133.2 492.5 133.1 491.5 133.8 488.5 132.8 484.5 131.1 482.5 129.2 478.5 128.4 472.5 127.7 470.5 127.7 467.5 127.1 463.5 127.2 462.5 129.1 459.5 128.8 455.5 129.7 451.5 129.1 448.5 129.4 447.5 130.5 446.9 133.5 447.5 135.5 450 136.5 449.9ZM683 446.5 685.5 445.7 687.5 445.9 690.4 447.5 691.8 449.5 692.3 451.5 692 453.5 690.2 456.5 688.5 458.2 683.5 459.2 681.5 459 678.5 457.5 677 455.5 676.5 452.5 678.3 448.5 679.5 447.7ZM661.9 459.5 665.5 458.6 670.5 459.7 671.6 460.5 672.1 461.5 671.9 463.5 671.4 464.5 669.5 465.2 665.3 464.5 664.1 465.5 663.5 468.5 662.5 469.2 660.5 469.1 657.9 467.5 657.2 466.5 657.3 464.5 657.8 462.5 658.5 461.2ZM579.3 465.5 579.5 465.1 580.5 465.3 581.4 466.5 580.5 467.5 579.3 466.5ZM293.1 468.5 295.5 468 298.5 469.7 300.7 472.5 301.6 475.5 301.3 477.5 298.8 481.5 296.5 483 293.5 483.8 292.5 483.4 291.5 482.2 289.4 477.5 288.9 475.5 289 473.5 289.9 471.5 291.5 469.6ZM422.2 470.5 424 470.5 424.4 471.5 423.5 472.4 422.2 472.5 421 471.5ZM340.3 471.5 344.5 471.4 349.5 470.7 354.5 471 357.5 472.7 360.2 475.5 362.5 476.7 363.4 478.5 363.5 482.5 364.3 484.5 364.3 485.5 362.9 488.5 360.4 491.5 356.5 493.7 352.5 494.1 345.5 492.2 339.5 490 334.5 488 332.5 486.5 332 485.5 331.7 483.5 332.3 479.5 332.1 476.5 332.8 474.5 334.5 472.8ZM770.1 472.5 772.5 472.1 774.5 473 777.4 475.5 778.1 478.5 778.5 478.9 779.5 478.9 784.5 477.5 785.2 474.5 787.5 473.3 791.5 473.9 794.5 473 806.5 472.6 810.5 474.1 812.4 475.5 815 478.5 815.5 479.5 815.4 480.5 812.5 484.1 810.5 485.6 806.5 484.4 802.5 484 796.5 485.2 795.5 485.9 792.6 489.5 792.2 491.5 793.7 493.5 796.5 494.6 799.5 493.3 800.5 493.5 801.6 494.5 802.4 496.5 800.5 500.2 799.5 500.7 797.5 500.9 796.3 500.5 795.6 499.5 795.4 498.5 794.5 498 793 503.5 793.1 504.5 794.7 507.5 795.2 510.5 794.8 511.5 792.4 514.5 790.5 517.5 792.5 519.5 790.5 522.4 786.5 523.2 784.5 524.5 783.8 525.5 783.8 527.5 784.5 528.3 789.5 529.5 790.8 530.5 791.3 531.5 792 534.5 791.8 536.5 790.4 539.5 788.5 541.1 785.5 542 781.5 541.1 780 539.5 779.2 537.5 779 534.5 778.5 533 773.5 531.6 772.5 531.5 771 532.5 770.6 536.5 769.5 537.3 768.4 536.5 767.5 532.2 763.5 529.2 762.5 529.1 760.5 530.3 759.5 530.4 756.5 529.4 753.5 529 750.5 530.9 749.5 531.1 745.5 530.4 740 530.5 739.6 531.5 740.1 533.5 739.6 536.5 740.5 538.3 741.5 538.8 742.6 538.5 743.5 535.5 747.5 534.1 748.9 534.5 749 535.5 748.5 536.8 745.5 537.9 744.7 539.5 743.8 540.5 739.5 541.6 738.9 545.5 736.5 548.1 735.8 550.5 736.5 552.1 738.5 553 739.5 553 742.5 552.1 744.5 552.4 746.2 554.5 748.5 558.5 748.9 559.5 748.7 561.5 750.7 565.5 750.9 569.5 750.4 571.5 750.8 572.5 753.4 574.5 753.1 577.5 753.5 580.5 753.1 583.5 752.5 584.5 751.5 585 749.5 585.1 748.5 584.3 746 580.5 745.5 580.2 742.5 580.4 740.5 580 735.4 576.5 734.5 575.5 733.7 572.5 729.2 569.5 727.3 567.5 726.7 564.5 724.5 561.9 719.5 560.6 716.5 560.3 715.5 559.7 714.8 558.5 714.5 556.5 713.5 555.5 711.5 555.4 708.5 556.7 707.5 556.5 706.3 554.5 706.4 551.5 704.9 549.5 704.9 548.5 706.5 546.1 706.2 541.5 704.5 537.6 703.5 537 702.5 537 701.7 537.5 701.4 538.5 702.6 540.5 702.8 541.5 702.5 542.1 699.3 543.5 698.6 544.5 698.3 546.5 695.3 552.5 692.5 556 690.5 554.7 689.5 553 687.5 551.5 686.8 546.5 688.5 543.8 689.5 540.9 691 538.5 689.9 534.5 690.8 530.5 691.9 529.5 694.5 528.6 697.5 526.8 698.5 524.5 700.8 522.5 701.4 518.5 702.4 515.5 703.3 514.5 704.8 514.5 707.6 517.5 710.5 519.1 713.5 522 714.5 522.1 715.5 519.6 716.5 518.5 721.5 517.4 722.1 516.5 723.5 511.1 726.5 509.3 728.9 506.5 729.7 501.5 730.5 500 732.5 499.3 735.5 499.7 736.5 498.6 737.5 496 738.5 495.3 742.5 494 743.5 494 745.5 495.6 746.5 495.6 746.9 491.5 749.5 487.8 749.9 484.5 750.5 483.3 752.5 482 760.5 480 762 480.5 763.5 482.6 764.5 481.9 765.5 479.6 765.6 476.5 766.1 475.5 768 473.5ZM776.5 485.3 774.5 486.1 773.1 488.5 775.6 492.5 775.7 494.5 776.5 495.6 777.5 495.5 780.6 492.5 781.3 491.5 781.2 490.5 779.7 488.5 778.5 485.6ZM786.5 505.3 786.5 505.6ZM736.5 570.9 736 571.5 736.5 571.9 737.5 572 738.5 571.5 737.5 570.7ZM729.5 517.2 729 517.5 729.5 518.5 730 517.5ZM732.5 520 732.1 520.5 731.9 524.5 730.6 527.5 730.6 528.5 732.5 531.5 730.5 533.1 729.9 535.5 730.5 536.9 731.5 537.1 735.5 535.8 736.9 534.5 736.3 531.5 740.4 525.5 740.4 524.5 736.5 522.9 734 520.5ZM752.5 508 750.1 510.5 750.5 511.5 751.5 511.9 753.5 511.7 754.2 510.5 753.7 508.5ZM766.5 524.5 763.5 525.1 762.8 526.5 763.5 527.4 767.5 528.5 768.5 528.1 769.1 526.5 768.8 525.5 767.5 524.6ZM780.5 512.4 778.5 513.3 777.6 514.5 776.8 516.5 774.8 519.5 774.6 520.5 775.5 521.3 778.5 520.6 781.5 517.9 785.4 516.5 785.5 514.5 784.5 512 782.5 511.5ZM239.8 474.5 240.5 474.1 241.5 474.3 246.5 476.7 247.8 478.5 248.9 481.5 249 483.5 248.5 484.4 247.4 484.5 247 485.5 248.5 486.9 249.2 492.5 248.9 494.5 247.2 497.5 247 498.5 247.4 499.5 249.5 500.4 254.5 498 257.5 497 260.5 496.7 262 497.5 261.7 498.5 260.8 499.5 259.4 500.5 255.5 501.9 252.5 503.5 245.5 504.4 242.9 503.5 239.5 501 236.5 500.5 235.5 499.7 234 496.5 233.8 492.5 232.4 488.5 232.4 486.5 236.6 477.5ZM414.7 477.5 415.5 476.9 416.6 477.5 415.5 477.9ZM727.3 480.5 729.5 480.3 730.5 480.6 731.7 481.5 732 482.5 731.4 483.5 729.5 484.6 728.9 485.5 728.2 488.5 725.7 491.5 724.3 494.5 721.9 496.5 721 499.5 719.5 502.1 718.5 502.8 714.5 502.8 710.5 504.4 705.5 504.2 701.6 507.5 699.9 509.5 697.5 510.6 696.7 511.5 696.5 512.6 695.5 513.5 694.5 513.9 693.1 513.5 692.3 512.5 692.2 511.5 693.2 509.5 693.8 505.5 695.6 503.5 701.6 498.5 704.1 494.5 711.5 489.1 713.5 488.5 717.5 488.3 718.5 487.7 719.6 485.5 720.5 484.6 722.5 483.5 724.5 481.4ZM668.2 485.5 669.5 484.9 671.5 485 673.3 486.5 676.5 487.7 679.1 489.5 680.2 492.5 679.4 496.5 678.6 497.5 675.5 499.5 671.5 500.1 670.5 499.6 665.7 494.5 665 492.5 665.2 490.5 666.2 487.5ZM586.4 492.5 587.5 492.3 588.5 492.9 588.9 494.5 588.2 495.5 586.5 495.8 585.5 494.8 585.4 493.5ZM200.1 493.5 201.5 492.7 203.5 492.6 204.5 493.2 206.2 495.5 207.4 498.5 207.3 501.5 206.2 504.5 204.7 506.5 204.5 507.5 209.5 508.9 211.2 510.5 211.6 511.5 211.4 512.5 209.5 514.1 207.5 514.7 203.5 515 198.8 516.5 196.8 517.5 195.1 519.5 195 521.5 195.8 526.5 195.3 529.5 196.5 532.5 196.9 536.5 196.2 544.5 195.1 549.5 194.1 551.5 191.5 554 189.5 554.1 188.1 553.5 186.5 552.1 185.2 550.5 184.4 548.5 184.9 546.5 186.6 544.5 186.2 542.5 184.5 540.2 182.5 539.4 180.5 537.6 179.1 535.5 178.5 533.5 178.5 531.5 179.4 529.5 183.5 526 185.5 525.4 185.9 524.5 185.6 523.5 183.5 523.6 180.5 522.4 173.5 520.8 170.7 518.5 169.7 515.5 171.2 512.5 174.5 508.8 181.5 505.9 185.9 505.5 189.5 504.4 191.5 505 193.2 506.5 195.5 507.4 198.9 507.5 200.5 507.1 200.9 506.5 199.1 503.5 198 500.5 197.8 498.5 198 496.5 199.1 494.5ZM187.2 495.5 188.5 494.6 189.5 495.2 190.3 497.5 189.7 498.5 188.5 498.5 186.9 497.5 186.6 496.5ZM602.5 496.5 602.5 497.5ZM594.4 498.5 595.5 498.2 595.7 498.5 595.5 501.3 594.5 501.1 594.2 500.5 594 499.5ZM369.1 503.5 370.5 502.9 374.5 503.7 375.5 504.5 377.3 507.5 376.5 507.8 375.5 510.5 374.5 511.8 373.5 512 372.5 511.5 371.3 511.5 370.9 512.5 371.5 514 375.2 513.5 377.5 512.3 378.4 511.5 378.8 510.5 377.6 507.5 379.5 506.9 380.5 506.9 381.2 507.5 382.5 510 384.5 510 385.4 510.5 385.9 512.5 384 517.5 383.9 520.5 383.1 522.5 381.1 524.5 379.5 527.3 375.5 529.4 373.5 529.8 370.5 529.3 369 528.5 369.8 525.5 369 523.5 369 519.5 368.5 519.4 362.8 522.5 362.5 523.5 363.6 526.5 363.2 528.5 362.4 529.5 360.5 529.5 359 528.5 358.5 527.5 358.9 524.5 357.5 522.8 355.3 521.5 354.6 520.5 354.1 518.5 353.1 516.5 353.1 515.5 355.8 512.5 355.9 510.5 356.5 509.6 358.5 508.4 360.5 505.3 361.5 505 363.5 505.8 365.5 505.8ZM278.5 504.5 283.5 503.8 285.5 504.5 286.4 505.5 286.7 506.5 286.5 507.5 284.4 509.5 285.5 511.5 284.5 515.5 282.5 514.9 279.5 515.5 278.5 514.7 278.8 511.5 277.7 506.5 277.7 505.5ZM669.4 525.5 670.5 525.2 671.5 525.5 672.9 526.5 674.8 530.5 674.6 532.5 676.2 535.5 677.5 536 678.5 535.7 679.5 536.1 681.5 537.9 683.1 540.5 684.5 544.4 686.3 546.5 686.3 547.5 684.1 552.5 681.9 555.5 681.5 559.9 680.5 561.2 675.5 561 674.5 560.1 673.5 558.1 672.5 558.1 671.5 559.1 671.3 560.5 672.2 563.5 672.1 565.5 669.5 571 668.5 570.9 668.2 570.5 668.5 568.5 668.2 566.5 667.5 564.9 666 563.5 665.6 561.5 663.8 557.5 662.8 553.5 665.3 545.5 666.5 544.2 667.8 543.5 668.4 542.5 668.5 540.5 669.3 537.5 669.2 533.5 669.1 532.5 667.5 530.2 667.3 528.5 668.2 526.5ZM672.5 550.9 672.2 551.5 672.3 552.5 673.5 553.9 675.5 554.3 677.5 554.1 678.4 553.5 678.2 552.5 677.5 552 675.5 551.9 673.5 550.7ZM273.5 529.5 276.5 528.7 281.5 528.9 285.5 530.9 287.5 532.5 288.4 533.5 288.5 535.5 288 537.5 285.7 541.5 280.5 546.5 278.5 547.5 275.5 547.3 272.5 546.1 271.3 546.5 269.5 548.8 268.5 549.1 265.5 548.1 259.5 547.6 258.5 546.9 257.8 545.5 257.5 542.5 258.9 538.5 260.2 536.5 265.5 532.7 269.5 531.8ZM217.4 534.5 218.5 533.9 220.5 533.6 223.5 535.3 225.5 537.4 226 538.5 225.7 541.5 230.5 546.2 232.5 546.9 233.5 547.6 237.2 551.5 240 558.5 241.7 564.5 241.5 566.5 240.5 567.3 237.5 568.2 235.5 567.5 232.8 564.5 231.9 561.5 226.4 557.5 220 549.5 218.5 544.6 215.7 541.5 215 539.5 215 537.5 215.4 536.5 216.5 535ZM385.3 538.5 385.5 538 386.5 538.1 386.6 538.5ZM648.1 544.5 648.5 544.1 651.5 544 654.5 543.5 655.8 544.5 656.5 546.5 655.4 551.5 654.8 552.5 652.5 554.5 652.2 555.5 653.7 559.5 653.5 561.5 652.6 563.5 652.9 564.5 655.1 567.5 655.3 568.5 655.1 569.5 653.4 572.5 652.5 573.6 651.5 573.9 649.5 572.7 648.5 571.5 647.6 568.5 647.6 563.5 647.1 559.5 647.6 557.5 649.7 553.5 650 551.5 649.7 549.5 647.8 546.5ZM287.3 557.5 289.5 556.8 292.1 557.5 293 558.5 293.5 560.8 294.4 562.5 293.5 563.1 292.5 562.6 291.5 562.9 289.5 565 287.5 564.3 286 562.5 285.7 560.5 286.4 558.5ZM689.4 562.5 690.5 561.6 691.5 561.7 693.7 563.5 692.9 569.5 692.4 571.5 691.3 573.5 690.9 578.5 690.5 579.1 687.9 580.5 686.5 581.7 685.4 577.5 686.2 574.5 686.5 570.5 686.2 567.5 686.5 566.4 688.7 564.5ZM385.3 569.5 386.5 569.2 387.6 569.5 387.5 570.8 386.5 572.1 385.5 572 385 571.5 384.6 570.5ZM359.9 572.5 361.5 571.9 362.5 572 367.6 574.5 370.9 578.5 371.6 580.5 370.1 588.5 366.5 593.5 364.5 594.5 361.5 594.7 360.5 594.4 357.8 590.5 355.5 588.8 354.1 586.5 353.5 581.5 355 576.5 356.5 574.5ZM665.1 580.5 665.5 579.9 665.9 580.5 665.5 581.1ZM767.4 580.5 769.5 579.9 770.5 580.4 773 585.5 775.8 589.5 776.4 591.5 776.1 596.5 775.5 598.5 773.6 601.5 772.9 603.5 769.5 606.4 768.5 606.3 766.8 604.5 766.2 600.5 764.2 595.5 763.5 592 761.5 591.4 760.5 588.5 759.5 588 756.5 589.3 755.5 589.2 754.6 587.5 754.8 584.5 755.4 583.5 756.5 582.9 761.5 582.2 763.5 580.6 766.5 580.9ZM778.2 608.5 779.5 608.2 781.5 609.5 782.5 611 784.4 616.5 785.2 617.5 789.5 620.8 791.5 621 792.5 621.5 796.5 627 798 630.5 797.4 639.5 798.5 641.9 800.5 643.1 801.5 643.2 804.5 642.4 805.5 643 808.9 648.5 810.3 649.5 812.5 650.3 813.3 651.5 815.8 663.5 815.7 666.5 814.6 670.5 815 675.5 812.2 682.5 810.4 685.5 809.1 686.5 806.5 686.6 804.7 685.5 804.2 683.5 805.5 680.5 805.4 679.5 803.6 674.5 802.5 673.4 799.5 672.9 799 672.5 798.2 670.5 798.5 668.5 798.2 667.5 797.5 666.5 794.5 664.2 793.5 663.7 792.5 664.2 790.5 666.5 788.6 670.5 789.6 672.5 788.5 674.6 787.5 674.9 781.5 675 777.5 673.2 773.3 669.5 771.4 666.5 770.5 663.2 768.5 660.1 767.5 659.9 765.5 660.5 763.5 660.3 756.5 656.6 755 654.5 754.5 651.5 753.3 648.5 753.7 645.5 755 643.5 757.5 641.8 759.5 639.3 763.5 636.4 764.4 634.5 763.8 624.5 763.3 623.5 761 621.5 760.7 620.5 761 619.5 762.5 618.5 764.5 618.4 765.5 618.8 767.5 621.5 769.5 621.9 770.5 621.7 772.6 619.5 773.1 618.5 772.9 617.5 772.1 616.5 770.5 615.5 767.5 615.4 767.1 614.5 767.5 612.9 770.5 610.5 772.5 610.7 775.5 610ZM768.5 642.4 767.5 643.3 767.3 644.5 767.5 645.6 768.5 646.3 769.9 645.5 769.4 643.5ZM270.7 617.5 273.5 617.1 274.7 617.5 275.8 618.5 276.7 623.5 277.2 624.5 278.5 625.8 279.5 626.2 280.5 625.5 281.4 622.5 282.5 621.7 283.5 621.7 284.7 622.5 285.3 623.5 285.3 624.5 280 629.5 275.5 631.5 274.5 632.4 274 631.5 272.7 630.5 269.5 629.7 267.5 627.6 267.1 626.5 267 623.5 267.4 621.5 268.5 619.4ZM353.7 634.5 355.5 634 356.5 634.2 359.5 636.4 363.5 635.6 366.5 637.2 368.5 638.9 369.4 640.5 369.6 642.5 368.5 645.5 370.5 646.8 373.5 645.6 374.5 645.7 376.3 647.5 376.9 649.5 376.2 651.5 375.5 652.5 374.5 653.4 373.5 653.5 372.5 653.1 371.2 651.5 370.5 649.8 369.5 649.2 367.5 649.1 364.5 647.5 363.5 647 361.5 644.8 357.5 645.5 356.4 644.5 355.5 642.5 353.5 641.6 352.7 640.5 353 635.5ZM295.4 650.5 298.5 649.7 299.5 650.1 301.1 651.5 302.6 655.5 301.6 661.5 302.5 663.2 303.5 663.5 306.5 662.4 307.5 662.5 311.5 665.3 312.5 666.5 314.5 672.6 317.4 674.5 316.3 677.5 316.5 679.5 317.3 680.5 318.5 681.2 319.5 681.1 322.5 679.3 324.5 679.6 326.6 681.5 327.8 684.5 330.5 688.5 331.1 690.5 330.6 692.5 328.5 695.3 325.1 697.5 324.5 698.5 324.5 702.2 323.5 703.1 322.3 701.5 321.6 699.5 318.5 699.8 317.5 699.1 315.2 693.5 313.5 691.5 310.5 690.5 307.5 690.2 306.5 689.7 304.5 685.5 300.9 684.5 299.5 682 297.5 680.5 297.2 679.5 297.5 678.5 299 675.5 297.4 672.5 296.3 668.5 297.5 666.3 296.5 665.6 292.5 666.2 289.5 665.2 288.5 664.5 286.5 662 284.5 661.5 283.5 660.8 282.7 659.5 282.2 657.5 282.5 655.8 284.5 653.7 286.5 652.8 291.5 653.3ZM440.4 672.5 442.5 671.9 443.5 672.6 444.5 676.8 446.6 680.5 446.4 682.5 445.2 684.5 444 685.5 442.5 686.1 440.5 685.7 435.9 683.5 434.5 682 434 680.5 434 679.5 435.1 677.5 437.5 675.6ZM402.8 689.5 405.5 688.7 407.5 689 410.4 691.5 414.1 697.5 415.3 704.5 415.1 707.5 414.2 709.5 410.5 714.8 408.5 716.6 406.5 717.4 405.5 717.1 402.8 714.5 402.2 713.5 401.5 710.6 400.6 709.5 397.8 708.5 396.8 705.5 395.2 702.5 395.3 699.5 396.1 697.5 400.5 693.5 401.7 690.5ZM456.5 692.5 459.5 691.9 462.5 691.9 463.5 692.4 464.5 693.5 465.3 696.5 466.5 697.5 472.5 698.2 474.1 699.5 474.5 704.5 474.3 705.5 469.9 710.5 468.5 711.2 464.5 712 456.5 711 453.4 708.5 452.5 708.3 449.5 708.6 447.5 708 444.4 705.5 443.8 704.5 443.9 702.5 447.5 697.5 450.5 696 453.5 693.5ZM328 697.5 328.5 696.8 329.5 696.6 330.5 696.9 332.5 698.6 335.5 698.7 338.6 700.5 340.2 702.5 340.3 704.5 338.6 707.5 336.5 707.8 335.5 708.5 335.8 709.5 336.9 710.5 338.5 713.4 340.5 714.1 340.8 714.5 340.9 715.5 340.2 717.5 327.2 717.5 325.5 716.4 322.4 715.5 322 714.5 322.7 712.5 323.1 708.5 323.9 706.5 325.5 704.5 328.5 703 328.7 702.5 327 699.5Z"/>
<path fill="#9dd9f6" fill-rule="evenodd" d="M311.9 184.5 313.7 183.5 322 183.5 322.6 185.5 326.5 187.8 328.5 190.8 329.5 191.1 335.5 189.2 338.5 190 340.5 189.2 341.5 189.3 345 191.5 346.2 194.5 347.5 196.4 350.5 198.3 352.3 201.5 354.9 203.5 355.5 204.5 355.5 205.5 353.2 208.5 352.5 210.5 352.8 211.5 353.7 212.5 353.9 213.5 353.5 214.1 351.5 212.3 349.5 212.2 348.5 213.1 348.5 221.5 348.1 225.5 347.3 227.5 345.5 229.3 343.5 230.2 341.5 228.8 340.7 227.5 339.6 223.5 337.3 220.5 336.5 216.2 335.4 214.5 335.6 213.5 337.3 211.5 337.5 210.2 336.5 207.8 335.5 207.2 333.5 207.3 332.1 208.5 332.1 209.5 333.3 212.5 333.4 213.5 330.5 216.3 327.5 217.7 326.5 217.6 324.5 216.5 321.5 216.3 320.5 216.4 318.5 217.5 315.9 217.5 314.5 216.5 310.5 211.2 308.5 209.7 306.5 209.5 302.5 211.4 301.1 210.5 300.5 209.5 300.6 208.5 301.2 204.5 302.5 200.6 302.5 198.5 303.2 195.5 303.8 194.5 307.5 191.2 310.2 187.5 310.7 185.5ZM340.5 193.7 340.2 194.5 340.5 195 341.5 195.5 341.6 194.5ZM391.8 188.5 393.5 187.7 396.5 187.7 398.5 188.2 400.2 189.5 400.9 190.5 401 192.5 400.3 195.5 399.5 196.4 397.5 197.2 395.5 197.2 392.5 196.8 390.6 195.5 389.9 193.5 389.7 191.5ZM187.4 205.5 189.5 205.1 192.5 206.1 193.5 206.6 194.3 208.5 194.5 212.5 193.5 215.2 192.5 216.1 189.5 217.3 184.5 216.7 182.6 214.5 182.5 212.5 183.6 209.5 185.5 206.9ZM313.3 222.5 314.5 222 316.5 222.2 320.4 225.5 321 226.5 321.4 228.5 320.5 230.6 319.5 231.3 316.5 232.1 314.5 231.7 312.5 230.5 311.7 228.5 311.6 225.5 312.3 223.5ZM415.8 223.5 416.5 222.9 417.5 222.8 419.5 223.7 423.2 227.5 423.7 229.5 423.3 230.5 422.5 231.1 421.5 231 418.2 229.5 415.3 225.5 415.2 224.5ZM192.6 225.5 193.5 225 194.5 225.5 195.1 227.5 195.1 230.5 194.3 233.5 195.8 242.5 198.4 248.5 198.4 250.5 197.5 252.8 195.5 254 192.4 254.5 189.5 257 187.5 257.2 184.5 256.4 182.5 256.4 178.5 258.5 174.5 259.2 172.5 259 166.5 256.5 166.2 255.5 166.5 254.5 167.8 252.5 168.2 249.5 169 248.5 170.5 247.8 174.5 248.3 178.1 247.5 180.5 245.2 183.5 243.9 184.5 243 185.6 240.5 185.3 233.5 185.7 231.5 189.2 227.5ZM511.8 240.5 513.5 239.9 514.5 240.6 514.6 242.5 513.5 243.8 512.5 243.9 511.8 243.5 511 242.5 511 241.5ZM836.4 258.5 837.2 259.5 836.5 260.9 835.5 261.2 834.7 260.5 835 259.5ZM172 269.5 173.5 269.4 175 270.5 176.5 275.5 176.7 277.5 175.8 282.5 176.2 288.5 175.1 292.5 173.1 295.5 170.3 298.5 166.4 301.5 166 302.5 166.3 304.5 165.5 304.9 164.1 303.5 164.3 301.5 162.5 298.5 161.7 294.5 161.6 290.5 162.3 284.5 163.5 281.5 164 277.5 165.2 274.5 165 272.5 165.5 270.6 166.5 269.8 169.5 270.1ZM427 269.5 429.5 268.7 435.5 269.9 446.5 274.6 447.5 274.9 451.5 274.7 453.2 275.5 455.5 278.7 457.2 282.5 463.5 288.7 465.1 292.5 465.1 294.5 466 295.5 470.8 298.5 472.4 300.5 472.4 301.5 468.1 307.5 466.5 308.6 465.5 308.7 463.5 307.6 461.6 304.5 460.5 300.5 458.5 298.7 457.5 298.5 454.5 299.8 449.8 302.5 447.5 304.4 446.5 304.6 442.5 304.3 439.5 302.5 438.8 301.5 437.1 296.5 437.3 295.5 438.8 293.5 439.6 291.5 439.1 290.5 436.5 289.2 433.1 286.5 429.1 281.5 427.4 280.5 426.6 279.5 426.7 278.5 427.5 277.5 429.2 276.5 426.5 275 425.6 273.5 425.6 271.5 426 270.5ZM820.5 269.5 821.5 268.9 823.5 268.6 824.5 268.7 825.9 269.5 825.9 270.5 824.7 272.5 825.5 275.5 825.3 279.5 823.8 282.5 822.5 283.9 820.5 284.8 817.5 284.9 816.4 284.5 815.9 283.5 815.7 280.5 816 275.5 816.9 273.5ZM224.3 272.5 225.5 271.5 228.5 273 229.5 274.5 229.5 276.6 228.5 277.1 224.5 277 223.8 275.5ZM794.3 283.5 795.5 283.3 796.5 283.7 797.2 284.5 797.8 286.5 797.5 289.9 796.5 291.3 795.5 291.8 794.5 291.8 793.5 291.3 792.1 288.5 792.7 285.5 793.1 284.5ZM513.4 297.5 514.5 296.9 515.5 297 517.3 298.5 518.1 301.5 517.3 302.5 515.5 303.1 514.5 303 513.5 302.2 512.6 299.5ZM520.8 304.5 521.5 303.9 522 304.5 521.5 305.1ZM360.4 305.5 365.5 304.8 367.5 304.9 368.3 305.5 364.6 311.5 362.5 312.7 357.5 314.3 355.5 314.5 351.5 313.7 345.5 314.7 343.5 314.4 342.9 313.5 344 311.5 346.5 309.5 356.5 306.2ZM473.3 309.5 474.5 309.1 475.5 309.3 477 310.5 476.9 311.5 475.9 312.5 477.4 316.5 476.5 318.4 475.5 318.8 473.5 318.5 472.5 317.3 471.9 315.5 471.8 314.5 473.1 312.5 472.9 310.5ZM870.2 320.5 871.5 320.9 876.5 324.4 877.5 327.5 877.5 328.8 875.5 331.3 874.5 333.3 873.5 334.2 872.5 334.4 869.5 333.8 867.5 334.5 865.5 334.5 862.7 332.5 863.4 331.5 866.1 329.5 865.8 327.5 866.2 325.5 868 323.5 868.6 321.5 869.5 320.6ZM760.1 327.5 762.5 327.9 764.1 329.5 764.2 330.5 762.8 332.5 756.2 336.5 752.5 339.7 749.5 340.6 747.5 340.2 746.3 338.5 746.2 336.5 749.2 332.5 751.5 330.9ZM563.4 330.5 564.5 329.9 566.5 329.7 568.5 331 570.2 335.5 570.1 336.5 569.4 337.5 566.5 338.8 564.5 338.6 563.5 337.8 562.7 336.5 562.2 333.5 562.5 331.5ZM243.9 331.5 246.5 330.9 248.5 331.3 250.1 332.5 250.5 333.5 250.4 334.5 249.5 335.7 247.5 336.9 243.5 336.5 241.9 335.5 241.5 334.5 241.7 333.5 242.4 332.5ZM429.1 347.5 430.5 347.8 431 348.5 431 349.5 430.5 350.2 429.5 350.7 428.5 350.3 427.9 349.5 427.9 348.5ZM397.7 356.5 401.5 356.7 404.5 358.5 406.5 358.9 409.5 358.7 413.5 357.5 416.5 357.1 418.3 357.5 420.2 358.5 420.5 359.5 418.6 362.5 415.5 365.4 414.5 365.9 412.5 365.8 409.6 366.5 407.7 367.5 407.1 368.5 407.2 373.5 406.1 376.5 404.5 379.3 404.4 380.5 405.5 382.7 408.5 384.1 410.2 385.5 411.1 387.5 407.5 389.1 405.5 389.2 404.5 388.7 403.3 387.5 401.6 384.5 398.5 382.9 396.2 377.5 396.5 372.4 394.5 365.5 393.3 363.5 393.1 361.5 393.6 359.5 394.5 358.1 396.5 356.7ZM856.1 358.5 858.5 358.4 859.1 359.5 859 360.5 854.5 366.9 851.5 369.3 849.5 370.3 839.5 373.5 836.8 375.5 836 376.5 835.8 379.5 834.6 381.5 835.5 382.4 836.5 382 837.5 380.9 838.5 380.6 840.6 381.5 841.5 382.5 844.5 381 846.1 381.5 846.1 382.5 845.3 383.5 842.4 384.5 842.2 385.5 842.8 388.5 842.5 389.1 839.5 391.3 837.5 394.8 835 396.5 831.5 398 829.5 398.1 827.5 397.5 824.5 395.1 821.5 394.3 818.2 392.5 817.7 391.5 818 390.5 819.5 388.4 821.5 388.3 827.5 390.3 828.2 389.5 828.5 388.4 827.5 386.5 826.5 385.8 823.3 384.5 822.9 383.5 823.3 380.5 821.4 377.5 816.5 374.9 813.5 374.8 812.8 374.5 812.3 373.5 812.6 372.5 813.5 371.7 817.4 370.5 817.6 368.5 820.5 366.4 822.5 366.3 824.5 368.6 825.5 368.1 826.6 366.5 826.9 364.5 827.9 363.5 829.5 363.5 833.5 365.5 834.5 365.3 835.2 364.5 836.5 362.3 837.5 362.4 838.4 363.5 839.5 363.8 842.5 363.6 845.2 362.5 848.5 360.4ZM704.8 364.5 706.5 363.8 709.7 364.5 710.8 365.5 710.9 367.5 709.5 369.1 705.5 371 703.5 371.6 702.5 371.4 701.5 370.5 702.5 366.5 703.2 365.5ZM386.3 365.5 391.5 365.6 392.4 366.5 392.2 369.5 389.5 371.9 387.5 372.4 382.5 371.5 380.9 370.5 380.5 369.5 381.5 367.8 384.5 366ZM154.9 371.5 155.5 370.8 156.5 371.3 157 372.5 158.2 378.5 158.5 383.4 161.1 389.5 161.5 391.8 162.6 394.5 162.2 396.5 158 405.5 158.1 406.5 162.6 409.5 164 411.5 163.9 415.5 162.5 421.5 164.8 426.5 165.2 428.5 165.5 432.5 164.8 435.5 165.5 436.8 170.5 439.3 171.9 440.5 174.5 446.5 177.5 448.7 179.3 450.5 180.2 452.5 180.4 456.5 178.8 460.5 178.9 462.5 180.5 463.8 184.5 466 185.6 467.5 185.6 468.5 185 469.5 182 472.5 181.7 473.5 183 477.5 183 479.5 181.1 485.5 179.5 487.2 178.5 486.5 176.9 483.5 176 475.5 175.2 474.5 168.7 470.5 168.3 469.5 169.6 466.5 169.5 465.5 168 459.5 166.2 455.5 166.2 453.5 164.5 451 161.5 448.7 160.7 447.5 159.3 443.5 158.5 438.5 155.5 434 149.5 432 145.5 432.3 142.5 431.4 137.5 430.9 134.5 429.6 130.6 425.5 130.2 424.5 130.9 422.5 133.5 418.6 134.5 417.9 136.6 417.5 137.4 416.5 137 414.5 137.7 413.5 140.5 412.9 143.5 413.5 145.5 411.5 146.5 413 147.5 413.3 148.5 412.9 148.5 409.5 149.4 405.5 152.5 403.6 154 401.5 154.3 399.5 154.1 398.5 152.5 393.1 150.7 389.5 150.7 388.5 152.5 383ZM641.7 379.5 644.5 379.6 648.5 381.7 649.9 383.5 650.5 386 653.5 387.5 654.2 388.5 653.5 389.5 650.5 389.8 648.5 390.7 645.5 393.8 644.5 394.3 642.5 394.3 641.4 393.5 639.4 391.5 637.7 387.5 637.7 386.5 638.5 385.4 639.9 384.5 639.9 383.5 638.9 381.5 639.5 380.5ZM326.9 383.5 330.5 382.7 336.5 382.8 340.1 384.5 341.3 386.5 341.1 387.5 338.5 389.9 335.5 391 332.5 391.5 326.5 391 323.9 389.5 323.2 388.5 322.8 386.5 323.1 385.5 324.2 384.5ZM356 384.5 357.5 384.5 359.9 385.5 360.9 386.5 360.5 387.5 357.5 388.3 354.1 386.5 353.9 385.5ZM412.1 387.5 416.5 387 420.5 388.9 423.5 391 425 392.5 426.7 395.5 426.5 396 425.5 396 422.5 394.9 419.5 394.5 417.5 393.6 415.5 392.2 412.9 389.5 412.1 388.5ZM452.5 389.5 454.5 389.4 456.1 390.5 454.5 391.5 453.5 391.3 452.3 390.5ZM671.5 390.5 671.5 391.5ZM458.6 391.5 460.5 391 464.5 391 467.5 392.1 469.4 393.5 467.9 394.5 465.5 394.4 460 392.5ZM299.9 392.5 301.5 391.9 303.1 392.5 304 393.5 304.9 396.5 304.8 402.5 303.3 407.5 302.5 408.9 301.5 409.3 297.5 405.9 296.3 401.5 296.6 398.5 297.3 396.5ZM760 392.5 761.5 392.9 762 394.5 761.7 395.5 760.5 396.2 759.5 396.1 758.6 394.5 758.7 393.5ZM183.9 394.5 185.5 393.9 186.5 394.2 189.1 396.5 190.3 398.5 190.7 400.5 190.4 401.5 188.5 404 187.5 404.8 186.5 405.1 184.5 404.9 183.5 404.2 181.9 401.5 181.6 399.5 181.9 397.5 182.8 395.5ZM427.2 396.5 430.5 395.8 432.5 396.4 444.5 403.3 449.5 404.8 451.5 406.9 452.5 407.4 455.5 406.2 459.5 406.2 465.5 408.2 470.5 408.6 473.5 408.3 478.5 409.7 483.5 410 489.5 408.9 495.5 410.7 498.5 410.7 500.5 413 503.5 413.1 504.1 414.5 503.5 416.2 502.5 416.5 501.5 416 500.5 414.7 499.5 414.7 498.1 415.5 497.7 416.5 498.5 417.2 501.5 418.3 503.5 421.4 506.5 423.4 510.5 422.3 512.5 422.5 513.5 423 515 424.5 515.6 426.5 514.1 428.5 512.5 429.7 511.5 429.4 509.5 428 505.5 428.1 502.5 426.6 499.5 427.1 496.5 426.3 493.5 424.9 491.5 424.8 490.8 424.5 490.1 423.5 490.2 422.5 493.9 420.5 494.3 419.5 493.8 418.5 491.5 417.5 489.5 418 487.5 419.2 482.5 419.4 479.5 421.2 478.5 421.4 473.5 420.8 469.5 420.9 461.5 418.6 458.4 416.5 455.5 415.2 450.5 414.8 448.5 415.1 447.5 414.8 447 414.5 445.5 411.8 444.5 411.3 440.5 412.8 437.5 411.2 434.5 410.3 433.5 409.5 433 405.5 428.5 399.5ZM410.1 404.5 410.5 403.8 411.5 403.8 412.5 404.4 414.1 406.5 414.3 407.5 413.5 408.4 412.5 408.3 411.5 407.5 410.2 405.5ZM805.2 408.5 808.5 407.9 811.5 409.2 813.8 411.5 814 414.5 813 416.5 811.5 417.8 804.5 421.4 801.5 421.3 800.5 420.7 799.5 419.3 799 417.5 799.1 416.5 800.1 413.5 801.5 411 803.5 409.2ZM327.6 410.5 329.5 410.2 332.5 410.6 336.5 412.7 339.8 415.5 340.4 416.5 339.9 418.5 338.5 420.1 336.5 420.8 326.5 420.3 321.5 419 316.6 415.5 316.6 414.5 317.5 413.5 319.5 412.9 323.5 412.7ZM405.4 413.5 406.5 412.8 407.5 413.3 408.4 415.5 409 418.5 408.5 422.5 410.1 427.5 410 428.5 408.5 430.5 407.5 432.9 406.5 433.7 404.5 434.1 403.3 435.5 403.5 436.8 405.5 438.5 406.5 440 407.5 443.5 407.4 446.5 406.5 448.1 405.5 448.6 401.5 449.4 396.5 449.4 394.6 448.5 394.2 447.5 395.2 445.5 396 442.5 394.4 434.5 394.8 424.5 397 422.5 400.8 416.5ZM443.3 414.5 443.5 413.8 444.5 413.8 445.1 414.5 444.5 415.3 443.5 415.1ZM670.3 418.5 673.5 417.9 677.5 418.9 678.5 419.5 680.5 427.5 678.5 431.8 677.5 432.4 676.5 432.2 673.5 430.3 668.5 428.9 665.5 426.8 664.5 425.5 664.7 424.5 667.5 420.2 668.5 419.3ZM693 426.5 696.5 425.8 697.5 426.5 698 428.5 697.5 430.1 695.5 431.3 693.5 431.8 692 431.5 690.3 430.5 689.6 429.5 689.9 428.5ZM524.2 431.5 525.5 431.6 526.6 432.5 527.5 434.5 526.9 435.5 525.5 435.8 524.5 435.5 523.4 434.5 522.6 432.5 523.5 431.6ZM130.4 434.5 131.5 433.9 132.5 434.6 133.7 436.5 133.5 437.7 132.5 438.2 131.5 437.9 130 436.5 129.7 435.5ZM542.7 437.5 544.5 436.7 545.4 437.5 545 441.5 545.5 442.9 546.5 444.1 550.5 444.8 552.5 446.1 554.9 448.5 555.1 449.5 554.2 452.5 554.5 453.7 556.5 454.5 559.5 453.5 560.5 453.8 561.9 455.5 561.9 456.5 560.5 458 557.5 459.2 555.5 459.5 554.5 460.5 554.8 461.5 556.5 463.5 557.8 467.5 557.8 469.5 557.2 471.5 556.5 472.2 551.5 472.4 548.5 469.7 546.5 469 545.5 469.2 544.3 470.5 543.5 472.9 542.5 473.6 539.1 474.5 540.1 477.5 539.9 480.5 539.5 480.9 538.5 480.2 535.5 479.4 533.5 476.8 529.5 476.6 525.5 479.6 522.5 480.5 521.5 481.4 519.7 485.5 517.5 487.6 516.5 487.7 515 486.5 513.3 479.5 512.6 478.5 511.5 478.3 507.5 478.1 506.3 478.5 505.4 479.5 504.7 482.5 501.7 484.5 501.2 485.5 501.5 486.5 505.2 487.5 506.5 489.9 509.5 488.8 511.5 489.1 514.5 489 515.2 489.5 515.3 490.5 513.4 494.5 513.4 497.5 514.1 499.5 514.5 502.5 517.5 503.9 518.5 503.8 523.5 502.3 529.3 498.5 531.5 498.6 534.1 500.5 535.3 502.5 531.9 508.5 531.7 509.5 532.5 510.8 534.5 511.6 535.5 511.5 537.5 510.2 538.5 510.2 538.8 510.5 538.5 511 536.4 512.5 537.5 513.7 539.5 511.7 541.5 511.1 542.5 511.1 544.5 511.9 546.5 511.7 549.5 512.7 550.6 513.5 550.5 515.7 549.5 517.9 546.5 520.3 543.5 521.7 541.5 523.4 539.3 524.5 536.6 530.5 536.6 531.5 537.6 533.5 537.5 534.9 536.5 536.5 534.2 537.5 533.6 538.5 533.9 540.5 533.5 541.4 532.5 541.9 529.5 542.6 528.2 543.5 527.7 544.5 527.9 546.5 528.4 547.5 530.5 549.3 531.5 548.5 532.5 546.2 533.5 545.5 534.5 546.1 536.5 549.9 538.5 551.3 540.1 553.5 540.1 554.5 539.5 555.5 537.5 556.8 536.5 556.9 534.5 555.9 532.5 556 527.5 553.8 522.6 550.5 520.5 549.7 518.5 549.9 513.9 552.5 513.5 553.5 514.6 555.5 517.5 558.1 521.5 560 527.5 557.7 529.5 557.7 530.8 558.5 531.3 561.5 533 564.5 529.9 566.5 529.3 567.5 531.2 573.5 529.8 576.5 527.5 578 525.5 580.2 522.5 579.9 518.5 580.3 516.5 581 515.5 581 513.5 579.3 511.5 579.2 507.6 575.5 503.5 575 501.7 575.5 498.5 578.7 497.5 578.7 495.6 577.5 494.5 577.3 493 577.5 490.5 578.8 487.5 578.5 485.4 577.5 483 574.5 482.7 573.5 484 571.5 484.5 569.5 484.2 568.5 481.8 565.5 481.5 563.5 480.5 563.1 478.5 564.2 476.5 564.7 472.5 564 470.2 558.5 468.5 556.6 467.5 556.2 462.5 556.4 459.5 558.5 456.5 559.1 454.5 558.9 450.5 556.6 448.5 556.2 447.3 557.5 447.8 560.5 447.5 561.9 446.5 562.4 442.5 561.9 441.8 561.5 439.5 557.9 439.1 556.5 438.6 552.5 439.5 551.2 440.5 550.7 445.5 550 449.5 550.3 451 549.5 452.5 547.9 460.5 546.9 462.5 545.6 463.5 545.4 465.5 546.3 466.5 546.1 467.2 542.5 466.5 540.8 464.5 539.2 463.5 539.7 463 540.5 462.5 543 462.1 543.5 461.5 543.8 458.5 543.1 456.5 541.4 453.5 540.9 452.5 540.2 450.5 537.7 448.5 535.9 445.9 534.5 444.5 532.3 443.5 531.9 440.5 532.7 438.7 532.5 436.5 530.8 434.5 530.4 433.3 529.5 434.5 525.4 435.5 524.6 438.5 524.4 439.2 523.5 433.5 517 430.6 515.5 430 514.5 430.1 511.5 430.4 510.5 433.4 509.5 433.1 508.5 428.8 505.5 428.8 504.5 430.5 502.7 430.7 501.5 430.5 499.8 429.5 497.5 430.1 495.5 431.5 494.4 438.5 495.2 443.5 493.5 445.5 492.1 450.8 492.5 451.5 492.4 452.6 491.5 452.4 487.5 452.1 486.5 450.5 484.9 447.6 483.5 446.7 482.5 446.2 480.5 444.7 477.5 444.8 475.5 448.5 472.9 451 469.5 452.5 468.4 453.5 468 454.5 468.3 456.7 469.5 459 473.5 458.1 477.5 458.4 483.5 457.8 485.5 456.1 487.5 455.2 489.5 455.5 492.5 454.8 497.5 453.9 500.5 454.2 501.5 455.5 501.6 456.7 499.5 458 498.5 461.5 497.6 468.5 502.6 471.6 501.5 471.9 502.5 471.5 503.1 470.5 503.8 469.5 503.8 469 505.5 469.5 506.8 470.5 506.9 473.9 504.5 474.9 501.5 476.2 499.5 476.1 498.5 477.5 495.5 476.5 494.5 475.5 495.1 474.5 497.1 472.5 497 471.6 496.5 469 494.5 468.2 491.5 466.5 489.4 464.2 487.5 464.1 486.5 464.5 486 468.2 483.5 469.3 482.5 469.5 481.5 469.3 480.5 465.6 475.5 463.5 470.3 461.3 468.5 461 467.5 462.5 465.2 463.5 464.5 464.5 464.5 469.5 466.1 471.8 465.5 473.5 464.6 475.5 464.6 476.3 463.5 473.1 462.5 474.5 459.6 475.5 459.4 477.5 461.6 478.5 461.8 482.5 459.4 486.5 459.2 487.5 458.5 488.5 456.3 489.5 455.9 490.8 457.5 490.6 458.5 488.5 460.4 487.5 463.5 486.5 465 485.5 466 483.5 466.8 480.5 466.5 479.5 466.8 475.5 470.3 473.7 472.5 472.7 475.5 473.5 478 474.5 478.5 480.5 478.2 482.5 477 483.9 475.5 484.5 472.5 486.9 468.5 491.2 464.5 492.5 461.3 495.5 459.4 496.8 459.5 497.6 460.5 497.3 467.5 498 469.5 504.5 471.9 506.5 471.7 509 469.5 509.5 468.5 507 465.5 504.5 463.4 501.8 458.5 500 456.5 500.4 455.5 504.5 452.2 505.5 451.7 507.5 451.8 508.5 451.1 509.5 449.6 510.5 449.4 511.5 449.7 513.5 451.6 516.5 453.3 523.5 460.4 526.7 462.5 527.1 463.5 527 465.5 527.8 467.5 531.5 472.3 533.5 473.5 534.5 475.4 535.5 475.2 536.2 474.5 535.4 472.5 535.5 471.5 536.6 466.5 536.9 461.5 535.5 459.4 532.5 456.6 529.5 456.2 528.4 455.5 527.8 453.5 528.8 449.5 528.8 447.5 529.5 446 530.5 445.6 535.5 445.2 537.7 444.5 539.5 440.3 540.5 439ZM515.5 535 514.7 535.5 514.4 536.5 515.5 537.8 516.5 538.1 517.5 536.6 517.4 535.5 516.5 534.9ZM456.5 505 453.5 506.9 450.5 507.7 444.5 507.8 443.5 508.4 439.5 512.3 439.2 513.5 439.9 514.5 441.5 515 443.8 516.5 445.7 519.5 445.8 520.5 445.5 520.8 441.5 522.5 440.7 523.5 441.9 524.5 443.5 524.9 450.5 523.9 453.9 525.5 454.3 526.5 453.5 527.5 451.8 528.5 451.4 529.5 451.6 531.5 452.5 532.8 454.8 533.5 455.5 534.1 456.4 536.5 457.5 537.2 460.5 535.9 461.7 534.5 462.7 531.5 462.1 528.5 462.7 527.5 464.5 526.2 466 524.5 468.1 520.5 468.1 519.5 466.5 516.6 465.5 516.4 462.5 519.2 461.5 518.2 460.2 511.5 460 506.5 458.5 505.2ZM470.5 514.5 470.2 515.5 470.6 517.5 472.8 519.5 474.6 522.5 475.5 528.1 477.5 530.4 479.5 530.6 479.8 529.5 478 527.5 477.7 526.5 478.4 523.5 477.7 521.5 475.9 519.5 474.7 516.5 472.8 514.5 471.5 514ZM479.5 492.2 478.7 493.5 479.1 494.5 480.5 494.6 482.6 493.5 482.8 492.5 481.5 491.8 480.5 491.8ZM498.5 489.5 494.6 490.5 493.5 491.2 492.7 492.5 493.1 493.5 496.5 493.9 499.5 496 502.5 496.4 503.5 496.3 504.5 495.5 505.5 492.5 505.8 490.5 505.5 490.2 503.5 490.3ZM467.5 530.1 467.2 531.5 468.5 532.2 469.1 531.5 469 530.5 468.5 529.9ZM479.5 507.4 479.1 508.5 479.5 509 480.5 508.9 480.5 507.5ZM482.5 545.4 481.5 546.3 480 549.5 481.5 551.2 482.5 551.2 485.6 545.5 484.5 545ZM802.7 439.5 809.5 438.7 811.6 439.5 812.6 440.5 812.6 441.5 810.4 445.5 809.5 446.1 804.5 446 802.5 445.1 801.3 443.5 801.2 441.5 801.6 440.5ZM614.9 446.5 616.5 446.1 620.5 446.6 621.6 447.5 622.1 448.5 621.8 449.5 616.5 452.5 615.5 452 614.5 450.8 613.6 448.5 613.8 447.5ZM827 446.5 827.5 445.9 828.5 445.7 829.5 446.5 829.9 447.5 829.5 453.6 828.5 453.1 826.5 452.8 825.2 451.5 825.1 450.5ZM683.6 449.5 685.5 448.5 686.5 448.6 688 449.5 688.8 450.5 689.4 452.5 689.2 453.5 688.5 455.1 687.5 456 684.5 456 681.4 454.5 680.3 453.5 680.5 452.2ZM564.2 451.5 565.5 451.5 566.1 452.5 566 453.5 565.5 453.9 564.2 453.5 563.9 452.5ZM493.5 452.5 494.5 451.8 495.5 452.2 496.3 453.5 496.1 454.5 495.5 454.8 494.5 454.4 493.7 453.5ZM133.7 456.5 135.5 456.5 137.5 457.5 138.7 461.5 138.1 462.5 134.5 464.3 133.5 466.4 132.5 466.8 132 465.5 132.1 463.5ZM397.2 456.5 400.5 455.6 402.5 455.7 403.8 456.5 404.3 458.5 404.2 460.5 403.5 462.1 399.7 466.5 397.5 468.4 396.5 467.8 396.1 466.5 395.5 461.5 395.8 458.5 396.2 457.5ZM469.1 461.5 470.5 461.2 472.4 462.5 471.9 463.5 469.5 463.9 468.5 463.7 468.3 462.5ZM294 470.5 295.5 470.5 297.5 471.7 299.1 473.5 299.6 475.5 299.1 477.5 297.8 479.5 296.5 480.6 294.5 481.3 293.5 481.2 292.5 480.5 291.1 477.5 290.8 475.5 291.6 472.5 292.5 471.4ZM397.3 471.5 397.5 471 398.5 470.9 400.1 471.5 400.6 472.5 399.5 473.1 398.5 472.9ZM341.9 473.5 345.5 472.9 353.5 473 356.5 474 358.1 475.5 360.3 478.5 360.7 480.5 359.1 488.5 358.1 490.5 357.1 491.5 355.5 492.4 352.5 492.3 345.5 489.1 343.5 487.6 339.5 486.9 337.5 486.1 335.6 484.5 333.8 480.5 334.1 477.5 335.5 475.9ZM772 475.5 773.5 475.6 774.7 476.5 775.1 477.5 775.3 480.5 774.5 481.2 769.5 481.7 768.8 480.5 768.8 479.5 769.3 478.5ZM794.8 475.5 798.5 475.1 802.5 476 806.5 475.8 808.5 476.5 809.4 477.5 809.3 478.5 808.5 479.5 807.5 480.1 804.5 481.1 801.5 481.5 799.5 482.6 797.5 482.8 792.5 481.5 791.3 480.5 791 479.5 792 477.5ZM239.1 476.5 241.5 475.7 243.5 476.3 245.9 478.5 246.4 480.5 246.2 481.5 244.2 484.5 244.5 486.5 246.1 489.5 246.1 492.5 245.5 493.5 243.5 494.9 239.5 495.4 238.5 495.3 237.4 494.5 235.9 487.5 236.4 485.5 237.7 483.5 237.8 482.5 237.2 479.5 237.4 478.5ZM135.6 478.5 136.5 478.3 138.2 479.5 138.3 480.5 137.5 481.7 136.5 481.8 135.1 480.5 134.9 479.5ZM752.2 484.5 754.5 483.6 759.2 484.5 760.3 485.5 760.8 487.5 761.5 488.4 765.5 489.1 768.5 490.8 770.8 491.5 772.1 492.5 772.5 494.5 772.3 497.5 769.9 503.5 771.6 509.5 771.5 511.1 770.5 511 768.5 509.9 766.5 507.6 765.5 508.2 763.8 510.5 761.5 512.3 759.5 512.9 758.5 512.4 755.5 506.5 756 503.5 755.8 502.5 753.7 499.5 753.6 497.5 755 494.5 755 493.5 752.5 492.3 751.1 490.5 751.3 486.5ZM672 490.5 674.5 490 675.8 490.5 676.6 491.5 677 493.5 676.6 494.5 674.5 496.3 673.5 496.6 672.5 496.3 670.7 493.5 670.7 492.5ZM716.6 492.5 717.5 492.2 718.4 492.5 719.1 493.5 717.7 498.5 716.6 499.5 715.5 499.9 712.8 499.5 711.5 498.5 711.8 496.5 712.5 495.7 714.5 495.4ZM518.5 493.5 519.5 494.5 518.5 494.8ZM556.4 493.5 557.5 493.3 559.5 494.9 561.3 499.5 561.1 502.5 560.4 503.5 558.5 504.6 557.5 504.6 556.5 503.9 554.8 500.5 555.1 495.5ZM201.3 494.5 202.5 494.1 203.5 494.4 205.4 496.5 206.2 498.5 206 502.5 204.6 504.5 203.5 505.2 201.5 504.9 200.5 503.8 199 499.5 199.4 496.5ZM739.8 499.5 741.5 498.8 743.5 499.1 745.5 500.3 746.1 501.5 746.2 503.5 746.8 505.5 746.4 507.5 747.7 512.5 747.7 514.5 747.2 517.5 746.6 518.5 744.5 519.5 739.5 520 736.5 519.3 734.4 517.5 732.8 514.5 731.2 512.5 730.9 511.5 731.1 509.5 732.3 506.5 732.7 504.5 733.5 503.5 736.5 503.6 737.5 503ZM183 507.5 184.5 507.1 188.5 507 193.5 508.9 198.5 509.1 201.5 509.9 206.5 509.8 208.1 510.5 208.6 511.5 208.2 512.5 207.5 512.9 202.5 512.9 191.5 516.4 187.5 519.7 184.5 521 182.5 521.2 178.5 520.8 174.5 519.2 172.9 517.5 172.3 515.5 172.8 513.5 174 511.5 175.5 509.9 177.5 508.9 179.5 508.1ZM366.1 512.5 367.5 512.6 368.5 513.1 369.6 515.5 369.4 516.5 368.5 517.6 367.5 518.3 365.5 518.7 364.5 518.4 363.4 517.5 362.9 516.5 362.9 515.5 364.5 513ZM589.7 513.5 591.5 513.3 594.5 514.2 596.1 515.5 596.5 517.2 595.9 520.5 593.6 526.5 592.2 528.5 591.1 531.5 588.5 533.1 587.5 533.1 583.5 531.4 579.5 532.1 578.3 530.5 577.6 526.5 579.5 519.1 580.5 518.1 582.5 517.8 585.5 516.5 588.5 514ZM765.8 515.5 767.5 515.2 769.3 516.5 769.5 518.5 768.5 521.1 767.5 521.7 765.5 522.1 762.5 521.5 760.8 520.5 760.7 518.5 761.5 517.2ZM627.4 516.5 627.5 515.9 628.5 515.9 629.5 516.5 630.5 518.3 630.6 521.5 629.5 523.5 628.5 525.2 627.5 526.1 623.5 525.5 622.5 525 621.1 523.5 620.8 522.5 621.5 520.7 622.9 519.5 626.5 517.7ZM190.4 525.5 191.5 525.3 192.7 526.5 195.1 536.5 194.7 542.5 193.4 548.5 192.5 550.3 191.5 551 190.5 551.1 189.5 550.3 188.6 548.5 187.9 542.5 186 536.5 185.5 535.7 183.5 536.6 181.5 535.7 180.4 534.5 179.7 532.5 180.3 530.5 182.5 528.7 183.5 528.7 184.5 529.2 186.5 532 187.5 531.7 188.5 530 189.4 526.5ZM709.8 526.5 710.5 526 711.5 525.9 713.2 526.5 714 527.5 714.5 529.8 717.5 531.5 722.5 532 724.5 531.6 725.5 532.4 726.1 534.5 725.8 538.5 727.7 540.5 728.5 543.5 730.9 545.5 731.2 546.5 730.5 548.5 732.5 551.3 733.5 557.6 734.5 558.4 736.5 558.6 738.5 559.9 740.5 560.6 744.5 563.2 746 565.5 745.8 567.5 744.9 568.5 743.5 569 741.5 568.7 738.5 566.3 734.8 565.5 731.2 561.5 729.3 557.5 728.5 557 725.5 556.3 724.5 555.6 723 552.5 720.4 549.5 720.2 548.5 720.7 547.5 722.9 544.5 721.7 541.5 720.7 540.5 718.5 540.5 713.4 543.5 712.7 544.5 712.5 546.4 711.4 546.5 708 538.5 708 537.5 708.8 535.5 711.5 532.5 710.9 531.5 709.3 530.5 709.1 528.5ZM702.3 527.5 703.5 526.9 704.2 527.5 703.5 528.6 702.5 528.6ZM629.8 528.5 630.5 528.2 631.6 528.5 631.6 530.5 630.5 531.3 629.3 530.5 629.2 529.5ZM275 531.5 278.5 530.8 280.5 530.9 284.7 533.5 285.4 534.5 285.3 536.5 282.5 540.7 277.5 544.2 272.5 543.9 267.5 545.7 261.5 544.2 260.9 543.5 260.9 542.5 262.7 537.5 263.5 536.6 266.5 534.9 271 533.5ZM785.1 531.5 786.5 530.9 788.5 531.4 789.3 532.5 790 534.5 789.8 536.5 789 538.5 786.5 540.1 784.5 540.1 782.5 539.2 781.5 538.2 780.9 536.5 781 535.5 782.3 533.5ZM428.4 532.5 429.5 532 431.5 532.4 432.4 533.5 432.3 534.5 430.5 535.3 429.5 534.9 428.4 533.5ZM218.5 538.5 219.5 537.7 220.5 537.7 222.2 538.5 222.8 539.5 222.8 542.5 223.5 543.4 226.5 545 231.5 548.7 235.6 552.5 237 557.5 238.8 561.5 238.5 563.5 237.5 564.6 236.5 564.6 235.5 563.8 234.4 561.5 233.5 560.5 227.5 555.9 221.7 548.5 221 544.5 218.8 540.5ZM675.8 539.5 678.5 539.1 680 540.5 681.9 547.5 681.5 548.7 680.5 549.7 677.5 549.6 676.5 549.1 674 544.5 674.2 541.5 674.6 540.5ZM548.1 545.5 548.5 545.2 549.5 545.4 550.3 546.5 550.2 547.5 549.5 547.9 548.2 547.5 547.7 546.5ZM397.3 558.5 399.5 559 404.5 558.6 412.5 560.3 416.5 559.9 420.5 562.3 422.5 564.7 425.5 564.8 428.6 566.5 429.7 567.5 431.5 570.8 436.5 573.5 437.8 575.5 437.3 581.5 435.9 584.5 433.5 587.8 432.5 588.5 428.5 588.9 425.5 590 423.5 591.2 420.5 595.2 418.5 596.1 414.5 596.1 412.5 595.7 407.1 592.5 406.1 591.5 403 585.5 400.7 579.5 400.7 578.5 402.4 576.5 402.3 573.5 401.6 572.5 399.4 571.5 395.5 565.5 395.1 564.5 395.6 561.5 396.5 559.1ZM558.4 560.5 559.5 560.1 560.5 560.4 561.3 561.5 560.5 562.4 559.5 562.2 558.2 561.5ZM593.2 560.5 594.5 560.7 595.5 561.5 596.4 563.5 596.5 567.5 595.5 570.5 594.5 571.7 593.5 571.9 590.5 571 587.5 571 586.5 570.5 585.8 569.5 585.4 566.5 584.5 563.5 584.5 562.5 585 561.5 586.5 561 588.5 561.3ZM456.4 564.5 457.5 564.6 458.5 565.5 459.5 568.8 460.5 568.7 465.5 566.1 468.5 566 469.5 566.5 469.7 568.5 470.8 572.5 468.5 573.7 467.4 576.5 466.5 577.5 464.5 577.3 462.5 573.5 459 572.5 458.3 571.5 458.8 569.5 455.8 566.5 455.8 565.5ZM568.8 566.5 570.5 566 574.5 565.7 575.4 566.5 577.2 570.5 576.4 574.5 575.6 575.5 573.5 576.2 569.5 579.1 568.5 579.3 567.5 578.9 565.5 576.8 563 575.5 562.7 573.5 564.5 566.9 567.5 567ZM537.3 569.5 538.5 569 539.6 569.5 539.5 570.6 537 573.5 535.5 574.1 533 573.5 533 572.5 535.5 570.2ZM555.4 569.5 556.5 569.5 557.8 570.5 558.3 571.5 557.5 571.8 556.4 571.5 555.1 570.5ZM360.2 575.5 362.5 575.3 366.5 576.9 367.9 578.5 369.2 581.5 369.1 585.5 368.5 587.2 365.5 590.9 363.5 591.8 361.5 591.5 356.5 586.5 356.1 585.5 355.7 582.5 356.2 580.5 358.5 576.6ZM562.2 579.5 563.5 579.3 564.5 579.7 566.2 581.5 566.2 582.5 565.5 583.4 562.5 583.6 561.9 585.5 561.9 586.5 562.5 587.3 563.5 587.8 565.5 587.8 567.5 586.1 568.5 586.2 569.3 587.5 569 589.5 566.5 592.4 564.5 591.8 560.5 589.1 559.5 589 557.5 589.9 553.5 594.4 553.3 597.5 552.5 598.7 550.5 599.2 547.5 598.1 546.5 598.5 546.2 601.5 544.5 603 542.5 605.5 540.5 606.5 538.5 608.4 536.5 613.5 535.5 614.5 532.5 615.5 527.2 613.5 527.5 611.5 527.1 606.5 530.5 600.6 532.5 599.1 538.5 598.4 540.5 594.4 541.5 594.3 543.5 594.9 544.7 592.5 546.6 590.5 546.9 589.5 546.3 585.5 546.7 584.5 548.5 583.6 552.5 583.5 554.5 582.1 557.5 582.8 558.5 582.6 561.5 580.8ZM573.2 584.5 574.5 584.5 578 585.5 579 586.5 580.5 589 587 593.5 587.1 595.5 586 598.5 586.5 599 588.5 599.5 589.1 600.5 588.9 601.5 587.9 602.5 585.5 603.1 582.5 605.5 582.1 607.5 582.5 608.9 583.5 609.9 586.5 611.2 588.5 610.2 590.6 607.5 591.2 604.5 592.4 602.5 593 600.5 594.5 599.5 595.5 599.4 597.5 600.9 602.5 602.3 604 603.5 603.5 604.1 600.5 604 595.1 608.5 593.1 611.5 592.9 614.5 591.5 616.9 590.8 619.5 589.5 620.4 586.5 620.7 582.5 619 580.5 618.7 579.5 618.9 577.5 620.1 575.5 620.2 574.5 619.9 571.5 617.5 566.5 615.8 565.6 614.5 565.5 612.5 566.1 609.5 567.5 608.9 571.5 608.7 572.5 608.2 574.5 606.2 575.5 604.5 577.2 599.5 577.3 598.5 576 597.5 575.5 596.6 574.9 593.5 574.8 592.5 576.7 590.5 577 589.5 575.5 587.7 573.5 587.4 572.6 586.5 572.6 585.5ZM767.3 587.5 767.5 586.9 768.5 586.5 770.5 587 772.5 588.4 773.7 590.5 774 592.5 773.5 594.9 772.5 596.5 771.5 597.1 769.5 597.3 767.5 595.7 766.7 594.5 766.6 592.5ZM609.2 603.5 611.5 603.2 613.5 603.9 615.9 606.5 616.3 607.5 616.3 609.5 615 611.5 611.5 613.6 609.5 615.9 607.5 616.5 604.5 615 603.7 613.5 603.9 611.5 605.3 608.5 605.4 607.5 604.1 604.5 604.5 604.1 606.5 604.1ZM558.1 609.5 558.5 609.4 558.5 609.8ZM638.8 611.5 641.5 611.9 643.4 613.5 644.2 617.5 643.5 619.2 642.5 619.8 639.5 620.2 634.5 617.7 633.4 616.5 633 614.5 633.5 613.3ZM520.2 613.5 521.5 613.1 523.5 614 525.5 615.2 527.5 617.5 528 618.5 529 626.5 528.5 627 525.5 626.9 523.5 627.4 521.5 628.5 517.9 631.5 515.8 632.5 514.4 634.5 506.5 640.6 506 641.5 506.8 644.5 506.7 645.5 506.1 646.5 504.5 647.4 499.5 648.3 498.5 648.8 494.5 653.7 493.5 654 491.8 653.5 490.7 652.5 489.7 650.5 489.2 645.5 487.9 642.5 490.7 637.5 487.5 636.6 484.5 636.6 483.5 636.1 482.2 633.5 482.4 631.5 483.1 630.5 489.5 626.8 492.5 627.1 493.5 627.6 494.2 628.5 495.2 631.5 495 632.5 493.5 634.8 492.5 635.9 491 636.5 491.5 637 493.5 637.1 497.5 638.7 500.5 637.7 505.5 634.2 507 632.5 507.1 631.5 504.8 629.5 504.7 628.5 505.5 627.7 506.5 627.6 509.5 630.1 511.5 629.9 513.5 629.2 513.9 628.5 514.2 620.5 515.3 617.5ZM558.2 616.5 560.6 616.5 561.7 617.5 562.5 618.8 565.5 617.7 566.5 618.4 569.2 621.5 569.5 622.5 568.4 626.5 567.5 627.3 566.5 627.4 562.5 626.5 560.5 626.6 555.5 627.2 553.5 628.1 550.5 631.1 548.8 636.5 547.9 637.5 544.5 638.3 542.5 640.1 539.5 640.5 537.5 641.5 536.3 642.5 535.1 646.5 533.5 648.6 530.2 650.5 526.7 653.5 524.5 654.4 521.5 657.2 519.5 658 516.5 658.5 514.9 656.5 515 655.5 516.5 652.4 519.5 648.8 520.5 648.2 523.5 647.6 524.3 646.5 524.6 645.5 522.5 643.5 522.2 642.5 522.3 641.5 523.5 639.3 525.5 638.1 527.5 637.8 531.5 638.8 532.5 638.5 533.1 637.5 533.3 635.5 532.5 632.5 530.8 630.5 530.4 629.5 531.1 628.5 533.5 627.3 534.5 626.4 536.5 622.5 537.3 621.5 540.5 619.6 545.5 618.1 552.5 619.2ZM778.4 617.5 779.5 616.9 781.5 617.5 786.2 622.5 789.4 627.5 790.5 630.3 793 631.5 793.5 632.4 793.8 637.5 793.3 641.5 791.1 646.5 791.5 648.5 791.5 652.5 793.5 654.2 793.5 656.2 792.5 656.4 790.5 654.1 789.5 653.9 784.6 655.5 784.2 656.5 784.7 658.5 787.5 660.5 788.2 661.5 788 663.5 782.5 668.9 779.5 670.1 778.5 670 776.5 669 774.1 666.5 772.9 664.5 772.6 661.5 774 657.5 776.5 655.5 778.2 652.5 776.7 644.5 777.3 643.5 779.5 642 780.5 640.7 781 639.5 780.9 638.5 779.5 636.6 777.5 635.5 775.5 635.4 773.5 636 771.5 635.8 770.5 635.3 769.3 631.5 769.3 630.5 770.1 629.5 772.5 628.4 773.2 627.5 774.1 624.5ZM784.5 648.5 783.5 649 781.5 649.2 781.2 649.5 781.5 650.2 783.5 650.6 784.5 650.1 785.1 649.5 784.8 648.5ZM761.6 641.5 762.5 641.2 763.5 641.4 764.4 642.5 764.5 646.5 765.5 648.5 766.5 649.4 769.5 650.2 770.4 651.5 769.8 653.5 767.5 655.5 763.5 656.4 760.6 655.5 759.9 654.5 758.8 651.5 756.9 649.5 756.9 648.5 759.4 645.5 760.5 642.5ZM373.3 648.5 374.5 648.3 375.2 649.5 374.5 651.3 373.5 651.6 372.7 650.5 372.7 649.5ZM479.5 648.5 480.5 648.1 481.5 648.4 483.5 650.4 486.5 651.4 487.3 652.5 486.5 653.6 483.5 654.1 477.5 657.3 477.2 658.5 477.9 660.5 477.8 661.5 476.8 663.5 473.9 667.5 472.5 668.3 468.5 669.1 465.2 668.5 463.3 666.5 459.5 665.9 456.5 663.7 454.2 658.5 453.5 654.1 451.7 650.5 452.5 649.6 453.3 649.5 458.5 649.4 459.5 649.7 463.5 651.8 467.4 654.5 468.5 656.8 470.5 658.4 471.5 657.5 471.8 655.5 471.3 653.5 472.6 651.5 474.5 650ZM297.4 653.5 298.5 653.9 299 654.5 299.7 656.5 299.3 659.5 297.5 661.8 295.5 662.8 293.5 662.9 291.5 662.3 288.3 659.5 288 658.5 288.3 657.5 289.5 656.2 294.5 654.2ZM804.9 653.5 807.5 652.8 808.5 653 810.7 654.5 811.5 655.5 813.8 662.5 813 673.5 812.4 676.5 811.5 678.5 810.5 679.6 809.5 680.3 808.5 680.4 807.5 679.6 804.5 673.4 801.5 670.5 800 662.5 800.5 660.6 801.5 659.5 801.5 656.5 801.9 655.5 802.9 654.5ZM507.3 657.5 507.5 656.8 507.5 658.7ZM501.2 660.5 502.5 660 504.5 660.1 505.5 660.5 506.3 661.5 507.6 666.5 507.6 669.5 506.9 670.5 505.5 671.3 498.5 673.2 497.5 673.1 496.7 672.5 496.5 671.5 498.1 667.5 497.9 663.5 498.5 662.3ZM305.2 668.5 306.5 668.5 308.3 670.5 309 672.5 308.8 674.5 310.5 675.4 312.5 677.3 313.8 680.5 315.5 682.7 316.5 683.4 322.5 685.5 323.5 687.2 325.5 689 326.2 691.5 325.8 692.5 323.5 694.7 321.5 695.2 319.5 694.9 316.5 690.5 315.5 689.6 312.3 688.5 310.5 686.2 308.5 684.6 307.3 679.5 308.2 674.5 306.5 673.7 305.5 672.5ZM439.2 675.5 440.5 674.5 441.5 674.5 442.5 675.3 443.3 676.5 444 678.5 444.2 681.5 443.5 683.2 442.5 684 440.5 684.1 439.5 683.5 437.3 680.5 437.1 678.5ZM403.4 694.5 404.5 693.6 405.5 693.9 407.2 695.5 410.5 696.8 411.9 698.5 412.3 705.5 411.5 707.1 407.5 711.1 406.5 711.3 403.5 709 400.8 705.5 399.9 703.5 399.7 701.5 400.1 699.5 401.6 696.5ZM459.1 695.5 461.5 695.3 462.5 695.7 468.7 700.5 469.3 701.5 469.5 703.5 468.5 706.5 467.5 707.8 463.5 709.2 458.5 708.9 456.5 708.1 455.3 706.5 451.8 704.5 451.8 702.5 453.4 697.5 455.5 696.3ZM332.3 703.5 333.5 703 334.6 703.5 333.3 707.5 335.1 711.5 335.4 713.5 334.5 715 330.5 716.8 329.5 716.8 326.5 715.1 324.7 713.5 324.3 710.5 324.6 709.5 326.5 707.1 327.5 706.5 329.5 706Z"/>
<path fill="#82c0e8" fill-rule="evenodd" d="M314 184.5 315.4 183.5 320.1 183.5 320.2 188.5 320.5 189.4 322.5 188.5 324.5 188.3 326.1 189.5 327.5 192.5 328.5 193.4 329.5 193.5 331.2 192.5 332.5 192.2 334.2 192.5 335.1 193.5 335.3 194.5 334.9 195.5 332.9 197.5 332.8 198.5 333.5 200.5 331.6 203.5 330.9 205.5 328.5 208.9 327.4 209.5 325.9 212.5 324.5 213.2 317.5 213.5 315.5 213.1 313.7 211.5 311.5 208.2 310.5 207.7 307.5 207.8 303.5 209.1 302.2 208.5 302.1 204.5 304.7 195.5ZM394.4 188.5 397.5 188.8 399.6 190.5 400 191.5 399.8 193.5 398.5 195.9 396.5 196.4 394.5 196.2 392.5 195.5 391.5 194.5 390.9 192.5 391 191.5 392.5 189.3ZM340.5 200.5 345.5 199.8 347.5 201.3 350.7 204.5 351.2 205.5 350.5 207.2 348.5 208.5 347.1 212.5 347.3 219.5 346.5 226.5 345.5 228.1 343.5 228.9 341.5 227.7 340.9 226.5 340.8 223.5 339.1 220.5 338.3 217.5 338.4 214.5 339.2 210.5 338.7 207.5 340.3 202.5ZM186.5 207.5 187.5 206.8 189.5 206.7 191.5 208.1 192.4 209.5 192.6 211.5 192.2 213.5 191.6 214.5 189.5 216.3 187.5 216.4 185.5 215.7 184.1 213.5 184.2 210.5 185.3 208.5ZM314.9 224.5 316.5 224.3 317.5 224.7 319.3 226.5 319.7 228.5 319.3 229.5 317.5 230.8 315.5 231.1 314.5 230.7 313.2 229.5 312.8 228.5 313 226.5 313.6 225.5ZM416.3 224.5 417.5 223.7 418.5 223.9 421.5 226.2 423 228.5 423.1 229.5 422.5 230.3 420.5 230.2 418.5 229.1 416.6 226.5 416.2 225.5ZM188.4 236.5 188.5 236.1 189.5 236 190.5 236.8 192.3 238.5 193.5 240.6 197 248.5 197.1 250.5 196.5 251.8 195.5 252.6 191 253.5 188.5 255.2 183.5 255.5 178.5 257.3 175.5 257.9 172.5 257.9 169.3 256.5 168.4 255.5 168.4 254.5 171 250.5 179.5 248.5 183.5 246.5 185.9 244.5 188.2 241.5ZM428.2 269.5 430.5 269.4 432.7 270.5 436.5 271.3 441.5 273.2 450.1 277.5 451.5 279.6 453.5 280.7 454.6 283.5 459.2 287.5 460.7 289.5 461.1 291.5 460 295.5 464.5 296.2 468.5 297.9 470.4 299.5 470.9 300.5 470.5 301.8 469.5 302.9 467.5 303.7 465.5 303.8 463.5 303.4 460.8 299.5 459.5 296 458.5 295.9 456.5 296.6 450.8 300.5 446.5 302.9 444.5 303.3 441.9 302.5 440.5 300.5 439.7 297.5 439.9 296.5 442.5 292.2 445.8 290.5 444.6 289.5 439.5 289 437.5 288.5 432.6 284.5 430.7 281.5 430.9 279.5 432.8 276.5 432.6 275.5 431.5 274.8 428.5 275.2 427.5 274.8 426.3 273.5 426.2 271.5 426.7 270.5ZM169.9 271.5 172.5 271 173.5 271.5 175.1 275.5 175.4 278.5 174.8 288.5 173.9 291.5 171.8 294.5 169.5 295.5 167.5 298.5 165.5 298.8 164.1 297.5 163.1 294.5 163.5 292.6 164.9 290.5 164.1 285.5 165 283.5 165.1 279.5 165.7 277.5 167.5 274.7 168.3 272.5ZM819.4 272.5 820.5 271.7 821.5 271.5 822.5 272.3 823.8 274.5 824.4 277.5 824.2 279.5 823.4 281.5 822.5 282.6 820.5 283.6 819.3 283.5 818 282.5 817.2 278.5 817.3 275.5ZM795 284.5 795.5 284.4 796.5 285.3 797.1 287.5 796.8 289.5 795.5 290.8 794.1 290.5 793.1 288.5 793.8 285.5ZM513.5 298.5 514.5 297.7 515.5 297.7 516.5 298.4 517.1 300.5 516.5 301.8 515.5 302.3 514.5 302.1 513.8 301.5 513.3 300.5ZM360.7 306.5 363.5 306.3 364.2 306.5 364.8 307.5 364.2 309.5 362.5 311.1 360.5 311.7 357.5 311.3 355.5 312.7 349.2 311.5 349.7 310.5ZM870.4 326.5 871.5 325.7 872.5 325.8 873.5 326.5 873.7 328.5 872.5 330.8 871.5 331 870.4 330.5 869.9 328.5ZM758.8 329.5 760.5 329.3 761.5 330 761.7 330.5 761.4 331.5 760.5 332.5 755.5 335.7 752.5 338.3 750.5 338.8 748.4 338.5 747.9 337.5 748 336.5 750.5 332.7 752.5 331.6ZM564.4 331.5 565.5 331 566.5 331 567.5 331.6 568 332.5 568.4 334.5 568.1 335.5 567.5 336.2 565.5 336.8 564.5 336.1 563.6 333.5ZM243.6 332.5 245.5 331.8 247.5 331.9 248.6 332.5 249.3 333.5 249.2 334.5 247.5 336 245.5 336.2 243.5 335.7 242.5 334.5 242.6 333.5ZM396.1 358.5 397.5 357.8 400.5 357.6 406.5 360.6 408.5 360.5 412.5 359.2 414.5 359 416.2 359.5 416.7 360.5 416.3 361.5 414.2 363.5 412.5 364.2 408.5 364.9 406.5 366.8 405.9 368.5 405.9 373.5 401.5 379.8 400.5 380 399.5 379.3 398.3 377.5 397.6 375.5 395.6 364.5 394.6 361.5 395.2 359.5ZM849.8 361.5 854.5 360.6 855.5 361 855.9 361.5 855.4 363.5 853.5 366 847.5 369.5 841.5 371.4 838.5 372.8 834.7 375.5 832.5 378.1 831.5 377.8 828.2 375.5 827.8 374.5 828 372.5 826.9 370.5 827.2 369.5 828.5 367.8 829.5 367.4 832.5 368.2 834.5 368 837.5 366.1 842.6 365.5ZM386.2 366.5 388.5 366.5 390.5 367.4 391 368.5 390.6 369.5 389.5 370.5 387.5 371.3 383.5 370.5 382.5 369.8 382.6 368.5 383.8 367.5ZM155.1 375.5 155.5 374.9 156.5 375.4 157.2 377.5 156.9 382.5 158.3 389.5 158.4 391.5 160.3 395.5 158.8 399.5 157.5 400.2 156.4 399.5 152.4 389.5 152.4 388.5 153.3 386.5 154.4 377.5ZM644.3 382.5 645.7 383.5 646 387.5 644.8 388.5 642.5 388.8 642.1 387.5 643 383.5 643.5 382.6ZM330.3 383.5 333.5 383.4 336.5 383.9 339 385.5 339.2 387.5 338.6 388.5 337.2 389.5 333.5 390.5 329.5 390.3 325.5 389 324.5 387.5 324.4 386.5 325 385.5ZM829.3 383.5 831.5 383.3 833.5 384.7 835.5 385.5 836.5 386.7 837.8 389.5 836.5 391.7 834.5 392.3 833.1 391.5 831.6 389.5 831.4 388.5 831.7 386.5 829 384.5ZM415.2 389.5 416.5 388.9 420.5 390.3 422.4 391.5 423.2 392.5 422.8 393.5 419.5 393.3 416.9 391.5ZM831.1 393.5 831.5 393 832.6 393.5 832.2 394.5 831.5 394.7ZM300.4 394.5 301.5 394.1 302.5 394.7 303.4 397.5 303.2 402.5 302.5 405 301.5 406.2 300.5 406 298.6 404.5 297.5 400.5 298 397.5ZM183.6 396.5 184.5 395.7 185.5 395.6 187.5 396.4 188.6 397.5 189.2 398.5 189.4 400.5 188.5 402.2 187.5 403 185.5 403.4 184.5 403 183.2 401.5 182.7 399.5ZM429.4 397.5 430.5 396.9 431.5 397 434.5 398.2 437.5 400.6 442.5 403.8 448.5 406.2 450.5 408 452.5 409.2 453.5 409.4 455.5 408.4 456.5 408.4 459.5 410 462.5 409.9 466.5 410.9 473.5 409.6 478.5 411 483.5 411.4 489.5 410.1 491.5 410.4 493.5 411.4 495 412.5 495.4 413.5 494.9 414.5 493.5 415.6 487.5 417.3 480.5 417.9 476.5 419.2 470.5 419.1 468.9 418.5 466.5 416.7 462.5 416.3 458.5 414.3 456.5 412.8 455.5 412.7 453.5 413.3 449.5 412.9 448.5 412.3 446.5 410 444.5 408.8 443.5 408.6 440.5 409.4 438.5 408.8 437.5 407.5 436.8 405.5 433.5 403.4 431.4 401.5 429.3 398.5ZM152.6 407.5 154.5 406.8 158.5 408 161.1 409.5 162.6 411.5 162.8 414.5 160.7 421.5 160.8 422.5 163.7 427.5 164.4 431.5 164 433.5 162.5 436.5 161.5 437.4 160.5 437.2 158.5 435.8 156.5 432.1 153.5 431.7 149.5 428.5 150.5 424.5 150 421.5 148.5 420.1 146.5 420.2 145.5 421.1 145.7 424.5 146.5 426.7 147.2 427.5 147 428.5 144.7 429.5 139.5 429.6 137.5 429 134.5 427 133.1 424.5 133.1 422.5 133.5 421.5 135.5 419.4 139.5 418.1 143.5 417.9 146.5 416.3 150.5 415.7 151.2 414.5 150.8 410.5ZM807.1 409.5 808.5 409.4 810.5 410 812.2 411.5 812.6 413.5 812.1 415.5 810.5 417 805.5 419.7 804.5 420 802.5 419.7 801 418.5 800.7 417.5 801.9 413.5 803.5 411.2 805.5 409.9ZM328.4 411.5 331.5 411.9 336.5 414.3 338.1 415.5 338.7 416.5 338.5 417.8 337.5 418.8 333.5 419.9 326.5 419.4 321.5 418 319.8 416.5 319.2 415.5 319.4 414.5 320.5 413.9 323.5 413.4ZM404.1 415.5 405.5 415.1 406.5 415.4 407.3 416.5 407.7 418.5 407.4 422.5 407.8 426.5 407.4 427.5 403.5 431.3 399.9 435.5 399.6 436.5 400.7 439.5 400.5 440.7 399.5 441.1 397.5 438.5 396 433.5 396.2 426.5 397 424.5 399.9 419.5 402.5 416.5ZM673.1 420.5 674.5 420.3 676.6 421.5 677.1 422.5 677 424.5 675.5 426.7 674.5 427.2 670.5 427.4 669.3 426.5 668.7 424.5 668.9 423.5ZM162.4 439.5 166.5 439.5 170.5 441.4 171.5 442.6 172.9 446.5 173.5 447.3 177.5 449.5 179.2 451.5 179.6 453.5 179.6 456.5 177.6 460.5 177.2 462.5 178.5 464.2 183.4 467.5 183.6 468.5 180.6 471.5 179.6 473.5 181.5 476.5 182.2 478.5 181.9 481.5 181 484.5 179.5 486.1 178.5 485.5 177.8 484.5 177.1 482.5 177 478.5 178.1 474.5 177.5 473.5 176.5 472.8 173.5 472 171.1 470.5 170.7 469.5 171.8 466.5 171.8 465.5 168.4 456.5 168.2 453.5 165 449.5 162.5 447.8 161.5 446.5 161 443.5 161.7 440.5ZM808.4 440.5 809.5 440.9 809.7 441.5 809.2 442.5 807.5 443.9 805.5 444.6 804.5 444.5 803.1 443.5 802.8 442.5 803.5 441ZM399.5 442.5 400.5 441.7 402.5 443 403.9 444.5 404.3 445.5 403.9 446.5 402.7 447.5 400.5 448.2 398.5 448.2 396.9 447.5 396.8 446.5 397.5 444.7ZM532.4 447.5 536.5 446.8 538.4 447.5 541.5 449.6 544.5 449.7 547.5 450.7 549.5 450.2 550.5 450.9 551.1 452.5 551.1 454.5 548.4 457.5 548.1 458.5 548.5 460.7 546.5 462.1 544.5 465.7 541.5 469.4 540.5 469.9 539.1 469.5 538.5 468.4 539.5 465.9 541.5 464.7 541.6 461.5 540.5 460.3 537.5 459.1 533.6 454.5 531.3 453.5 530.9 452.5 531.4 449.5ZM684.3 452.5 685.5 451.8 686.5 452.4 686.8 453.5 685.5 454.4 684.2 453.5ZM400.5 457.5 402.5 457.5 403 458.5 402.8 460.5 401.5 461.9 398.5 461.6 397.6 460.5 398 459.5ZM514.1 457.5 514.5 456.8 515.5 456.6 516.5 457.1 517.8 458.5 518.3 459.5 518.3 460.5 516.5 462 515.5 462 514.5 460.5ZM507.6 458.5 508.5 458.2 509.7 458.5 508.8 461.5 507.5 462 506.7 461.5 506.2 460.5 506.3 459.5ZM515 463.5 515.5 463.2 516.5 463.7 517.8 465.5 517.5 466.1 515.5 465.8 514.5 465.1 513.9 464.5ZM550.2 465.5 552.5 464.9 553.6 465.5 553.5 467 552.5 467.6 550.5 467.4 549.5 466.5ZM519.5 466.5 522.5 466.1 525.9 469.5 526.1 470.5 525.6 473.5 525.9 475.5 525.5 476.5 524.5 476.8 520.5 475.3 518.5 473 517.5 472.6 515.5 475.7 514.5 476.4 510.5 476.6 506.5 476.2 505.5 476.6 503.1 478.5 501.5 481.5 496.5 487 495.5 487.6 491.5 487.5 486.5 490.1 483.5 489.6 479.5 489.7 476.5 491.6 474.5 491.9 473.5 491.7 472.5 491 470.6 488.5 470.7 487.5 472.5 485.5 474.8 481.5 477.5 479.9 480.5 480 482.5 479.2 485.4 476.5 486.9 474.5 490.2 472.5 492.5 468.9 493.7 471.5 495.3 472.5 498.5 472.1 505.5 474.4 506.5 473.9 508.4 471.5 510.5 470 513.5 469.3 516.5 470.1 517.5 469.8 518.6 467.5ZM493.2 467.5 493.5 467.2 493.5 468.6ZM468.4 469.5 469.5 469.5 469.6 470.5 468.5 472 468 470.5ZM452 470.5 453.5 469.7 455.5 470.2 456.6 471.5 457.2 473.5 456.1 481.5 455 483.5 453.5 484.4 452.5 484.3 449.5 482.4 448.9 481.5 448.4 478.5 448.7 475.5ZM293.9 472.5 295.5 472.3 296.5 472.7 297.5 473.6 298.2 475.5 297.5 477.6 296.5 478.6 294.5 479.5 293.5 479.1 292 476.5 292.5 474.2ZM468.3 473.5 468.5 472.9 469.5 473.5 469.5 474.9 468.5 475 468.2 474.5ZM341.8 474.5 344.5 473.8 351.5 473.7 355.5 474.4 357.5 475.9 359.1 478.5 359.5 481.5 359.2 484.5 358.2 487.5 356.5 490.7 354.5 491.6 352.5 491.3 351 490.5 347.5 487.6 344.5 485.9 340.5 485 337.5 483.9 336.5 483.1 334.7 480.5 334.7 478.5 335.2 477.5 336.5 476.6ZM240.5 476.5 241.5 476.3 243.5 477 245 478.5 245.3 479.5 244.8 481.5 242 484.5 243.8 489.5 243.5 490.9 242.5 491.3 240.1 490.5 239.1 488.5 239 487.5 240.3 484.5 238.1 480.5 237.9 479.5 238.8 477.5ZM795.4 477.5 797.5 476.7 799.5 477.2 800.5 478.5 800.2 479.5 798.5 480.9 797.5 480.8 795.4 479.5 794.9 478.5ZM753.3 485.5 754.5 485 756.5 485.4 757.8 486.5 759.5 490.3 765.5 490.9 769.5 493.3 770.4 494.5 770.6 496.5 769.9 498.5 765.5 503.2 763.5 506.5 761.5 508.8 760.5 508.9 759.5 508.4 758.3 506.5 758.2 503.5 755.7 497.5 756.9 494.5 757.2 492.5 756.5 491.7 753.5 490.7 752.7 489.5 752.5 487.5ZM201.3 495.5 202.5 495.1 203.5 495.4 204.6 496.5 205.5 498.5 205.6 500.5 205.2 502.5 203.5 504.3 202.5 504.4 201.5 503.9 200.5 502.5 199.9 500.5 199.8 497.5ZM443.7 496.5 445.5 496.6 446.2 497.5 446.2 499.5 447.4 503.5 447.2 504.5 444.5 504.8 443.5 505.3 440.5 509.2 439.5 509.6 437.5 509.4 435.5 507.7 433.5 504.5 432.7 500.5 432.9 498.5 433.5 497.5 434.5 496.9 438.5 497.3ZM485.5 496.5 487.5 497.2 488.3 498.5 487.8 500.5 486.5 502.2 485.5 503.1 482.5 504 479.5 503.7 479.2 502.5 479.7 501.5 480.5 500.6 482.5 500 484.5 496.9ZM556.3 496.5 557.5 495.6 558.5 495.8 559.7 497.5 560.2 499.5 560.2 501.5 559.5 502.6 558.5 503.1 557.5 502.9 555.9 500.5 555.8 498.5ZM505.7 497.5 506.5 497.1 507.5 497.3 510.2 498.5 510.5 499.5 510.5 506.1 511.5 507.5 512.5 507.6 514.5 506.5 516.5 507.1 517.5 506.9 522.5 504 530.5 500.6 531.5 500.7 532.5 501.5 533 502.5 532.7 504.5 531 507.5 528.8 510.5 528.8 511.5 530.9 514.5 530.9 518.5 531.5 520.5 530.3 523.5 530.3 524.5 531.5 527.1 533.7 529.5 534.3 532.5 534.2 533.5 533.5 534.5 532.5 534.6 527.5 533.3 526.5 533.5 525.7 535.5 525.7 538.5 524.5 540 523.9 538.5 518.9 532.5 518.6 531.5 521.5 530.2 523.5 526.5 526.1 525.5 525.9 524.5 524.5 523.8 523.9 522.5 524.1 520.5 525.3 518.5 524.6 515.5 523.5 514 522.5 513.9 520.3 514.5 520.2 515.5 521.5 517.5 521.2 518.5 520.5 519.1 518.5 519.5 513.5 518.8 512.3 519.5 511.7 521.5 512 523.5 515.1 526.5 516.2 530.5 515.5 531.1 513.5 531.7 512.5 531.3 510.5 529.7 507.5 531 505.5 531.3 503.5 531.3 500.5 530.6 497.5 531.4 494.5 531.4 494.7 533.5 494.4 534.5 493.5 535.1 491.4 535.5 489.5 539.4 486.5 539.5 484.5 540.2 483 542.5 479.6 543.5 477.5 545.1 472.5 545.3 471.5 545 471 544.5 471.2 543.5 476.1 537.5 479 535.5 480.5 533.5 485.5 530.5 486 529.5 486 528.5 484.5 526.6 483.5 525.9 481.5 525.6 480.7 524.5 479.7 520.5 477.8 518.5 478 516.5 477.5 513.3 478.3 512.5 482.2 511.5 483.5 509.4 486.5 506.6 489.9 506.5 490.8 505.5 491.5 503.3 492.5 502.3 496.1 502.5 497.5 500 498.5 500.1 500.5 501.9 501.5 502.2 502.7 501.5 502.8 499.5 503.5 498.7ZM460.9 501.5 461.5 500.9 462.5 500.7 464.5 501.4 465.8 502.5 467 504.5 468.1 508.5 470.7 510.5 470.1 511.5 468.5 512.6 466.5 513.1 463.5 514.6 462.5 514.1 462 512.5 461.8 506.5 460.6 503.5ZM741.2 502.5 742.6 502.5 742.6 504.5 745.2 508.5 746 510.5 746.1 513.5 744.5 516.9 743.5 517 740.5 516.6 738.5 517.8 737.5 517.9 736.5 517.4 735.9 516.5 735 512.5 733.8 509.5 734 507.5 735.3 505.5 738.5 504.5ZM181.1 508.5 184.5 507.7 187.5 507.9 192.5 509.8 198.5 510.4 199.6 511.5 198.5 512.6 190.5 515.4 187.3 518.5 185.5 519.7 182.5 520.3 177.5 519.8 175.5 518.8 174.4 517.5 173.7 515.5 173.9 513.5 175.1 511.5 176.5 510.3 178.5 509.2ZM365.1 513.5 366.5 512.9 367.5 513.2 368.9 514.5 369.1 515.5 368.8 516.5 367.5 517.8 365.5 518 363.9 516.5 364 514.5ZM436.7 516.5 437.5 515.7 438.5 515.5 441.5 516 443.4 517.5 444 518.5 444 519.5 443.1 520.5 441.5 521.3 439.5 521.5 438.5 521.2 436.7 519.5 436.2 518.5ZM589.6 516.5 590.5 516.1 592.4 516.5 593.7 517.5 594 518.5 593.5 519.8 592 521.5 591.5 525.5 590.2 529.5 589.5 530.6 588.5 531.1 587.5 531.1 586.2 530.5 584.1 528.5 581.5 527.3 581 525.5 581.2 522.5 581.3 521.5 582.2 520.5 587.5 518.7ZM763.8 518.5 765.5 517.7 766.1 518.5 765.7 519.5 764.5 519.9 763.6 519.5ZM516.7 523.5 517.5 522.8 518.2 523.5 517.5 523.9ZM469 524.5 469.5 524.1 470.5 524.3 471.5 525.5 471.2 526.5 468.4 526.5 468.2 525.5ZM190.3 528.5 191.5 527.9 191.9 528.5 193.7 533.5 194.3 536.5 193.9 543.5 192.5 548.3 191.5 549.4 190.5 549.2 189.1 546.5 187.7 538.5 188.3 533.5ZM181.5 530.5 182.5 530 183.5 530.1 184.6 531.5 184.4 533.5 183.5 534.6 182.5 534.8 181.1 533.5 180.9 531.5ZM275.8 532.5 278.5 531.9 280.5 532 282.5 533.2 283.7 534.5 284 535.5 283 537.5 281.5 539.3 278.5 541.6 276.5 542.7 273.5 542.7 267.5 544.1 264.2 543.5 262.7 542.5 263.2 539.5 264.5 537.3 267.5 535.6ZM786.1 532.5 787.5 532.6 788.5 533.8 788.9 535.5 788.4 537.5 787.6 538.5 785.5 539.1 783.5 538.4 782.5 537.5 782.1 536.5 782.9 534.5 784.5 533.2ZM712.9 533.5 714.5 532.6 719.5 534.1 721.3 535.5 721.1 536.5 720.4 537.5 717.5 538.4 713.5 540.8 711.5 540.8 710.2 539.5 709.5 537.5 709.8 536.5ZM498.1 536.5 500.5 536 502.7 536.5 502.6 537.5 501 539.5 500.8 540.5 500.9 541.5 502.5 542.6 504.5 542.8 506.9 541.5 508.1 540.5 508.5 539.3 509.5 538.4 511.5 538.6 512.4 539.5 513.3 542.5 512.2 545.5 513.4 548.5 511.5 549.5 507.5 548.7 506.5 548.9 505 552.5 505.4 553.5 508.5 555.6 511.5 555.9 512.5 556.3 515.5 559.7 519.5 563 521.5 563.4 524.5 562.8 526.9 564.5 526.5 565.2 526.2 569.5 524 572.5 524.3 574.5 523.5 575.8 519.5 576.9 515.5 576 511.5 576.3 509.2 574.5 502.5 573.1 500.2 573.5 496.5 575.5 494.5 575.6 490.5 575.2 486.4 573.5 486.3 571.5 487.4 568.5 487.2 567.5 484.9 564.5 484.5 561 483.5 560.5 480.5 560.4 479.6 559.5 479.7 558.5 480.5 556.9 482.5 556.8 483.5 556.4 484.3 555.5 485 553.5 485.3 549.5 486.7 547.5 487.5 547.1 488.5 547.2 491.5 548.6 493.5 548.9 494.5 549 495.7 548.5 496.1 546.5 495.9 542.5 496.7 540.5 497.2 537.5ZM520.2 541.5 521.5 540.6 523.5 541.1 523.7 541.5 520.5 546.2 516.5 546.6 516.3 545.5 516.8 544.5ZM224 546.5 224.5 546.1 226.5 546.6 234.2 552.5 234.8 553.5 235.2 555.5 235.1 557.5 234.5 558.6 232.5 558.2 228.5 555.4 225 550.5 223.8 547.5ZM726.2 548.5 727.5 549 727.9 550.5 727.5 551.6 726.5 551.3 725.7 550.5 725.3 549.5ZM455.2 551.5 456.5 551.4 458.1 552.5 458.6 553.5 458.2 554.5 457.5 554.9 456.5 554.6 455.3 553.5 454.8 552.5ZM468.2 551.5 469.5 550.9 471.5 551.2 473.9 553.5 474.5 554.5 474.4 555.5 473.5 556.3 472.5 556.2 471.5 555.6 468.8 553.5ZM400.2 560.5 403.5 560 407.5 562.1 409.5 564.1 410.5 563.9 412 562.5 413.5 561.8 415.5 561.4 416.5 561.7 417.6 562.5 419.5 565.9 420.5 566.7 425.5 566.3 427.5 567.2 429.3 569.5 430.5 572.6 431.5 573.4 434.5 574.5 436 576.5 436.4 578.5 436.2 580.5 436.1 581.5 434.8 583.5 432.5 586 431.5 586.5 429.5 586.5 425.5 583.5 422.5 578.9 420.5 577.9 418.5 577.6 417.5 578 416.2 579.5 415.7 582.5 416.5 584 419.5 586.8 420.6 590.5 420.4 592.5 419.9 593.5 418.6 594.5 417.5 594.8 414.5 594.7 412.5 594.3 409.1 592.5 407 590.5 405.6 587.5 403.4 584.5 402.3 581.5 402 579.5 402.5 578.5 405.5 577.1 411.5 576.1 411.5 574.5 410.4 571.5 408.5 569.5 405.5 570.1 401.5 569.8 400.5 569.6 399.5 568.6 397.1 564.5 396.9 563.5 398.1 561.5ZM590.3 562.5 592.5 562.1 593.5 562.4 594.5 563.5 594.5 567.5 593.5 569.2 592.5 569.7 588.5 569 587.6 567.5 587.4 565.5 587.8 564.5 588.5 563.5ZM566.1 571.5 567.5 570.7 568.5 570.9 572 573.5 570.5 575.1 569.5 575.6 568.5 575.3 565.9 573.5 565.7 572.5ZM361 577.5 365.5 578 367 579.5 368 581.5 368.1 584.5 367.7 586.5 365.6 589.5 364.5 590.3 362.5 590.4 361.5 589.9 357.9 586.5 357.3 585.5 356.9 583.5 357.1 581.5 358.5 579.1 359.5 578.1ZM553.5 586.5 554.5 586.7 555.1 587.5 554.5 589.5 551.5 593.5 550.8 596.5 549.5 596.8 547.3 594.5 546.9 593.5 547.3 592.5 549 590.5 549.8 587.5ZM768.4 590.5 769.5 589.6 771.5 590.3 772.2 591.5 772.2 592.5 771.5 594.1 770.5 594.6 769.5 594.5 768.5 593.6 768.1 592.5ZM536.2 600.5 541.5 600.9 542 601.5 542 602.5 541.4 603.5 537.6 605.5 536.5 606.5 536 608.5 533.8 610.5 532.7 612.5 531.5 612.4 529.8 609.5 530.4 604.5 531.5 602.5 532.5 601.8ZM608.8 605.5 610.5 604.7 611.5 604.7 613 605.5 614.2 608.5 613.5 610.2 611.5 611.2 607.5 611.7 607.7 607.5ZM576.8 609.5 577.5 608.7 578.5 608.8 579.5 610.3 579.5 610.9 579 611.5 577.5 611.8 576.6 612.5 576.5 615.5 575.5 616.7 574.5 616.8 571.5 615.5 568.2 613.5 568.2 612.5 569.3 611.5 571.5 612.4 573.5 612.2 574.9 611.5ZM638.3 614.5 639.5 613.7 640.5 613.9 640.9 614.5 640.5 615.7 639.5 616.2 638.1 615.5ZM543.4 620.5 546.5 620.2 549.5 621.5 550 622.5 550.6 625.5 549.5 627.5 548.5 631.5 547 634.5 545.5 635.5 541.5 637 540.4 635.5 539.5 635.1 536.5 635.1 535.5 634.7 534.8 632.5 536.2 629.5 536.8 626.5 538.5 623.2 540.5 621.5ZM778.5 620.5 779.5 619.8 781.5 620.1 784.6 622.5 786.9 626.5 788 631.5 788.6 632.5 791 634.5 791.4 635.5 791 641.5 790.6 642.5 787.5 645.2 785.5 645.2 784.2 644.5 782.6 638.5 780.7 635.5 779.3 634.5 774.5 632.9 773.6 631.5 775.6 624.5 776.7 622.5ZM521.5 621.5 523.5 621 524.4 621.5 524.8 622.5 524.7 623.5 523.5 624.3 521.5 624 521 623.5 520.9 622.5ZM565.2 621.5 565.7 621.5 565.5 622.3ZM560.1 622.5 560.7 622.5 560.7 623.5 560.3 623.5ZM516.5 624.5 517.5 624.3 518.4 625.5 518.4 626.5 517.5 627.6 516.5 627.4 516 626.5ZM556.1 624.5 556.5 623.9 557.2 624.5 556.5 624.8ZM489.7 628.5 491.5 628.5 493.1 629.5 493.5 631.5 492.5 633.2 490.5 634.2 488.5 634.4 486.5 634.2 484.9 633.5 484.3 632.5 484.6 631.5 487.1 629.5ZM505.4 637.5 505.7 637.5 506 638.5 504.4 640.5 505.1 644.5 504.4 645.5 502.5 646.2 499.5 646.1 494.5 648.2 493.5 648.2 492.5 647.3 491.6 644.5 492.5 642.5 493.5 641.8 494.5 641.8 495.2 642.5 496.5 642.9 497.5 642.7 499.5 640.2ZM527.6 642.5 528.5 641.7 529.5 641.6 530.7 642.5 530.7 644.5 531.3 646.5 530.7 647.5 529.5 648 528.3 647.5 528.3 644.5ZM760.7 648.5 761.5 648.3 761.5 649.4ZM456.6 651.5 459.5 651.4 462.5 652.7 466 655.5 469.5 660.4 470.5 660.8 472.5 659.7 473.5 658 474.5 657.7 475.7 660.5 475.5 661.7 472.5 664.8 471.5 664.7 470.5 663.5 469.5 663.5 468.5 665.1 467.5 665.8 464.5 665.5 459.5 664 457.9 662.5 455.3 656.5 454.9 653.5 455.1 652.5ZM478.2 651.5 479.5 652 479.3 653.5 478.5 654.5 477.5 655 476.5 654.8 476.1 653.5 476.3 652.5ZM520.2 651.5 521.5 651.3 522 652.5 520.9 654.5 519.5 654.8 519.1 654.5 518.9 653.5ZM805.8 655.5 807.5 654.5 808.5 654.7 809.6 655.5 812.2 660.5 812.7 662.5 812 674.5 810.7 677.5 809.5 678.4 808.5 678.4 807.5 677.4 804.5 672 803.2 670.5 802.4 668.5 802.5 662.5ZM292.1 656.5 294.5 656 296.5 656.4 297.4 657.5 297 659.5 294.5 661.3 292.5 661.2 291.5 660.6 290.4 659.5 290.1 658.5 290.6 657.5ZM777.4 657.5 778.5 657.6 781.1 659.5 782.6 661.5 783.5 663.5 781.9 666.5 779.5 668.1 778.5 668.3 776.5 667.2 774.5 664.8 773.9 663.5 774 661.5 775 659.5 775.6 658.5ZM440.2 675.5 441.5 675.3 442.5 676.2 443.4 678.5 443.3 681.5 442.5 682.9 441.5 683.4 440.5 683.3 439.4 682.5 438 679.5 438.5 677.5ZM403.5 696.5 404.5 696.1 405.5 696.3 407.5 697.1 409.5 698.1 410.4 699.5 410.2 704.5 409 706.5 406.5 708.7 405.5 708.8 403.5 707.6 401.9 705.5 401 703.5 400.9 701.5 401.8 698.5ZM456.3 697.5 458.5 697 461.5 696.9 463.5 697.7 465.9 699.5 467.4 701.5 467.3 703.5 466.5 705.5 464.5 706.9 460.5 707.7 457.5 707 453.8 704.5 453 703.5 453 701.5 454.5 698.7ZM329.1 707.5 330.5 707 331.5 707.2 333.7 711.5 333.6 713.5 332.5 714.4 330.5 715.2 328.5 715 326.5 713.8 325.5 712.5 325.3 711.5 325.9 709.5 327.5 708.2Z"/>
<path fill="#6aaade" fill-rule="evenodd" d="M315.3 184.5 317.5 183.8 318.5 184.3 319 186.5 318 190.5 314.5 198.5 314.5 199.9 315.5 200.1 316.5 199.6 320.7 195.5 323.5 191.1 324.5 190.9 329.2 198.5 329.5 199.5 329.6 201.5 327.5 205.2 326.5 206.2 323.8 207.5 322.9 210.5 321.5 211.3 318.5 211.5 316.5 211.1 315.5 210.5 313.7 207.5 313 204.5 312.5 203.5 311.5 203.2 307.5 206.4 305.5 207.2 303.5 207.6 302.8 206.5 303 203.5 305.1 196.5 313.5 185.9ZM393.3 189.5 395.5 188.9 397.5 189.5 398.5 190.2 399.2 191.5 399.3 192.5 398.5 194.9 397.5 195.6 395.5 195.9 393.5 195.3 392.4 194.5 391.8 193.5 391.7 191.5ZM341.7 204.5 342.5 204.1 343.5 204.2 346.1 205.5 345.4 207.5 346.1 210.5 346.5 217.5 346.4 219.5 345.5 222.5 346.1 225.5 345.4 227.5 344.5 228.2 343.5 228.3 342.5 228.1 341.3 226.5 341.7 222.5 340 219.5 339.2 216.5 340.7 209.5 340.7 206.5ZM188.2 207.5 189.5 207.6 190.7 208.5 191.4 209.5 191.8 211.5 190.8 214.5 188.5 215.9 186.5 215.5 185.5 214.6 184.7 212.5 184.8 210.5 185.3 209.5 186.5 208.2ZM417.4 224.5 418.5 224.5 419.5 224.9 421.3 226.5 422.6 228.5 422.5 229.5 421.5 230 420.5 229.8 418.5 228.5 417.1 226.5 416.8 225.5ZM314.7 225.5 316.5 225 318.4 226.5 318.9 228.5 317.5 230.2 315.5 230.5 313.8 229.5 313.4 227.5 313.7 226.5ZM189.6 244.5 191.5 243.6 192.5 243.9 194.5 245.7 195.9 248.5 196.1 249.5 195.5 251.1 190.5 252.9 187.5 254.4 182.5 255.3 177.5 257 172.5 257.1 170.9 256.5 169.8 255.5 169.8 254.5 170.5 253.5 173.5 250.9 185.3 247.5ZM427.2 270.5 428.5 269.7 430.5 269.9 432.5 271.2 436.5 271.9 439.5 272.9 444.5 275.5 447 277.5 447.5 278.5 447.4 280.5 449.5 282.3 451.3 284.5 451.7 285.5 451.4 287.5 450.5 288.4 446.5 287.6 440.5 288.1 438.5 287.9 436.5 286.9 433.4 284.5 431.9 281.5 432.2 280.5 434.3 277.5 434.2 276.5 432.5 274.2 431.5 274.1 429.5 274.7 427.5 274.3 426.8 273.5 426.5 272.5ZM170.5 272.5 172.3 272.5 173.2 273.5 174.4 276.5 174.7 279.5 173.7 289.5 172.5 291.6 171.5 292.4 170.5 292.4 168.5 291.5 166.2 286.5 166.1 285.5 166.4 283.5 166.2 279.5 169.2 273.5ZM819.6 273.5 820.5 272.9 821.5 273 822.1 273.5 822.8 274.5 823.4 277.5 823.3 279.5 822.5 281.3 821.5 282.3 820.5 282.6 819.5 282.3 818.9 281.5 818.1 277.5 818.4 275.5ZM794.6 286.5 795.5 286.1 796.1 287.5 796.2 288.5 795.5 289.7 794.5 289.6 794.2 288.5ZM452.5 288.5 455.5 288.1 457 288.5 457.5 291.5 457.3 293.5 454.2 295.5 451.5 296.5 450.5 297.4 449.5 299.5 448.5 300.2 445.5 301.4 444.5 301.5 443.5 301 442.3 297.5 443.5 294 444.5 293.4 446.5 293.2 448.1 292.5 451.5 288.6ZM165.7 293.5 166.7 293.5 167.1 294.5 166.5 296.4 165.5 296.6 164.7 294.5ZM461.7 297.5 462.5 297.1 464.5 297 467.5 297.9 469.6 299.5 470 300.5 469.7 301.5 468.5 302.4 467.5 302.6 463.5 302 461.6 299.5 461.3 298.5ZM514.4 298.5 515.5 298.4 516.4 299.5 516.4 300.5 515.5 301.5 514.5 301.3 513.9 300.5 513.8 299.5ZM358.8 308.5 361.5 307.6 362.7 308.5 362.2 309.5 360.5 310.2 358.8 309.5ZM245.3 332.5 247.5 332.7 248.3 333.5 248.2 334.5 246.5 335.6 244.5 335.4 243.5 334.7 243.5 333.5ZM565.5 332.5 566.5 332.5 566.9 333.5 566.5 334.6 565.4 334.5 565.1 333.5ZM753 332.5 755.5 332 757.5 332.5 756.7 333.5 752.5 336.4 751.1 336.5 750.4 335.5 750.6 334.5 751.3 333.5ZM398.4 358.5 400.5 358.3 403 359.5 405 361.5 406 364.5 405.3 368.5 405 373.5 401.5 377.3 400.5 377.4 399.5 376.8 398.5 375.3 397 369.5 396.5 364.6 395.6 361.5 396.5 359.5ZM411.2 361.5 412.5 361.2 413 361.5 412.5 362.3 411.5 362.5ZM851.1 363.5 852.5 363 853.4 363.5 852.5 364.5 850.5 365 847.5 368.1 839.5 370.8 834.5 373.8 833.5 374 832.4 373.5 832.5 372.5 833.2 371.5 838.5 368.1 843.5 366.7 847.5 364.2 850.5 363.9ZM386.1 367.5 388.5 367.7 389.4 368.5 389.1 369.5 387.5 370.3 384.5 369.5 384.4 368.5ZM329.2 384.5 331.5 384 335.5 384.4 337.4 385.5 338 386.5 337.9 387.5 336.5 388.9 332.5 389.8 330.5 389.6 327.1 388.5 326 387.5 326 386.5 327.1 385.5ZM184.3 397.5 185.5 396.8 187.5 397.6 188.3 399.5 187.5 401.4 186.5 401.9 185.5 401.8 184.5 401.2 183.7 399.5ZM431 398.5 432.5 398.2 435 399.5 436.5 401.3 439.5 403.5 441.2 405.5 441.3 406.5 440.5 406.8 437.5 403.9 433.5 402.1 431.8 400.5ZM299.4 399.5 299.5 398.6 300.5 398.9 301 401.5 301 402.5 300.5 403 299.5 401.6ZM153.7 408.5 155.5 408 158.5 408.7 160.5 409.8 161.8 411.5 162 413.5 160.4 417.5 159.6 422.5 160.5 425.6 163.2 428.5 163.8 431.5 163.2 433.5 161.5 435.6 160.5 435.8 159.5 435.4 158.5 434.3 157.3 431.5 156.5 430.7 153.5 430.4 151.7 428.5 151.3 427.5 150.9 421.5 149.8 418.5 152.2 415.5 151.8 411.5 152.5 409.8ZM450 410.5 450.7 410.5 450.5 410.8ZM471.2 411.5 472.5 411 474.5 410.9 480.5 413.3 484.5 413.2 487.5 411.7 489.5 411.3 490.8 411.5 492.5 412.4 492.9 413.5 491.4 414.5 487.5 415.9 480.5 415.9 475.5 417.5 473.5 417.6 472 416.5 470.6 412.5ZM805.1 411.5 807.5 410.7 809.5 411 810.5 411.5 811.4 413.5 810.7 415.5 805.5 418.3 803.5 418 802.5 416.8 802.5 415.5 803.5 413ZM328.1 412.5 330.5 412.7 335.5 414.7 337.3 416.5 337.2 417.5 334.5 419 330.5 419.4 325.5 418.8 322.5 417.8 320.9 416.5 320.5 415.5 321.4 414.5ZM403.6 416.5 405.5 416 406.8 417.5 407 419.5 406.4 426.5 401.5 432.7 399.5 434.2 398.5 434.4 397.5 433.8 397 432.5 397.1 426.5 399.9 420.5 402.3 417.5ZM137.6 419.5 140.5 419.2 142.5 419.9 143.1 420.5 144 422.5 144.2 424.5 144.2 426.5 143.5 427.9 140.5 428.5 138.5 428.4 136.5 427.5 134.5 425.5 134 423.5 134.6 421.5 135.5 420.5ZM163.4 441.5 165.5 440.9 169.5 442.3 170.8 443.5 172 447.5 173.5 448.4 176.5 449.4 178.5 451.5 179.1 453.5 178.9 456.5 175.5 462 174.5 462.7 172.5 462.1 171.4 460.5 169.9 455.5 169.9 453.5 169.5 452 165.9 448.5 163.5 447.1 162.5 446 162.3 443.5ZM535.2 448.5 536.5 448.3 537.8 449.5 537.5 451.4 536.5 452 534.5 451.7 533.7 450.5 534 449.5ZM539.9 452.5 542.5 452.1 544.5 452.3 546.6 453.5 547.4 454.5 544.5 460.5 543.5 460.6 538.2 456.5 537.6 455.5 537.6 454.5 538.5 453ZM174.5 466.5 176.5 466.1 179.6 467.5 180.3 468.5 179.7 469.5 178.5 470.4 173.5 470.6 172.3 469.5 172.4 468.5 173.5 467ZM452.5 471.5 453.5 471 454.5 471 455.2 471.5 455.8 472.5 456.1 474.5 455.2 479.5 453.5 481.9 452.5 482.1 450.5 480.7 449.9 477.5 450.7 474.5ZM509.5 471.5 511.5 470.6 513.5 470.8 515.1 472.5 514.7 474.5 512.5 475.7 509.3 475.5 508.2 474.5 508.1 473.5ZM491.7 473.5 492.5 473.3 495.5 474.1 498.5 474.2 499.5 474.8 500.6 476.5 500.7 477.5 499.9 479.5 496.5 484.1 495.5 484.9 491.5 485.9 486.5 487.9 482.5 487.4 478.5 487.5 477.5 487.3 476.8 486.5 476.1 483.5 477.5 481.6 480.5 481.2 482.5 480.4 487.9 475.5ZM295.2 474.5 295.5 474.5 296.1 475.5 295.5 476.6 294.5 476.8 294.1 476.5 293.9 475.5 294.5 474.6ZM343.5 474.5 351.5 474.3 355.5 475 357.3 476.5 358.8 479.5 359 482.5 358 486.5 356.5 489.3 355.5 490.5 354.5 490.8 352.5 490.5 350.5 489 348.5 486.5 343.7 484.5 338.5 483 336.1 481.5 335.2 479.5 335.4 478.5 336.2 477.5 341.5 475.1ZM178.4 476.5 179.5 475.8 180.5 476.3 181.6 478.5 181.1 483.5 180.5 484.6 179.5 485.4 178.2 484.5 177.3 481.5 177.5 478.5ZM239.6 477.5 241.5 476.8 243.5 477.6 244.6 479.5 244.5 480.5 243.5 481.9 241.5 482.7 239.5 481.6 238.5 479.5 238.7 478.5ZM754.4 487.5 755.5 486.9 756.2 487.5 756.3 488.5 755.5 489.2 754.5 488.8ZM761.1 492.5 763.5 491.9 765.5 492.2 768.3 494.5 768.9 496.5 768.7 497.5 767.2 499.5 763.5 503.3 761.5 504.6 760.5 504.2 757.4 497.5 757.5 496.5 758.7 494.5 759.5 493.4ZM201.2 496.5 202.5 495.9 203.5 496.2 205 498.5 205 501.5 204.5 502.6 203.5 503.5 202.5 503.6 201.5 503.1 200.6 501.5 200.2 498.5ZM557.3 497.5 558.5 497.4 559 498.5 559.2 500.5 558.5 501.6 557.5 501.3 557 500.5 556.8 499.5ZM439.1 499.5 440.5 499.2 441.5 499.4 442.9 500.5 443.4 501.5 440.5 507.5 439.5 508.2 438.5 508.3 437.5 507.9 436.2 506.5 435.6 503.5 436.1 500.5ZM463.4 502.5 464.5 503 465.6 504.5 466 507.5 465.5 508.9 464.5 509.1 463.5 507.5 462.5 503.5ZM528.6 502.5 530.5 502.1 531.3 502.5 531.7 503.5 531.3 505.5 529.5 508.2 525.5 511.3 522.5 512.1 517.5 512.8 517 513.5 516.5 516.7 515.5 517 511.5 516.2 510.5 517.5 510.1 520.5 508.7 523.5 508.2 526.5 507.7 527.5 503.5 529.5 496.5 529.7 492.5 527.5 491.7 527.5 492.5 525.7 492.7 523.5 493.5 521.2 496.7 520.5 496.6 519.5 493.6 517.5 492.5 514.7 491.5 514.5 490.5 515 488.1 516.5 487.5 517.3 486.5 517.4 485.7 516.5 485.5 515.5 486.8 510.5 487.8 509.5 490.5 508.2 493.5 504.8 498.5 503.6 503.5 504.6 504.5 504.3 506.5 502.6 507.5 503.9 508 507.5 508.9 509.5 510.5 510.8 512.5 511.2 516.5 510 517.9 508.5 522.5 505ZM739.5 505.5 741.5 505.8 742.5 506.4 744.3 508.5 745.3 511.5 745.2 512.5 744.5 513.8 743.5 514.2 739.5 514 738.5 513.9 737.5 512.9 735.6 509.5 735.3 507.5 736.5 506.2ZM183 508.5 185.5 508.1 187.3 508.5 190.5 510.3 194.3 511.5 194.2 512.5 190.5 514.2 186.5 518.3 184.5 519.4 180.5 519.8 178.5 519.6 176.5 518.7 174.7 516.5 174.6 514.5 175.2 512.5 176.5 511.1 178.5 509.8ZM366.2 513.5 367.5 513.6 368.4 514.5 368.7 515.5 368.4 516.5 366.5 517.7 365.5 517.5 364.5 516.5 364.2 515.5 364.6 514.5ZM438.3 516.5 439.5 516.2 441.5 516.6 442.6 517.5 443.2 518.5 443 519.5 441.7 520.5 440.5 520.9 438.5 520.4 437.1 518.5 437.2 517.5ZM585.4 522.5 586.5 521.9 587.2 522.5 587.2 523.5 586.5 524 585.5 523.5ZM484.9 523.5 485.5 522.6 486.5 522.5 487.5 522.7 488.1 523.5 487.9 524.5 486.5 524.9 485.4 524.5ZM587.4 527.5 588.5 526.8 588.8 527.5 588.5 528.8 587.5 528.9 587.2 528.5ZM526.9 529.5 528.5 528.9 529.5 529.2 531.1 530.5 531.4 531.5 530.5 532.2 528.5 531.7 527 530.5ZM190.5 530.5 191.5 530.3 192.5 531.8 193.4 534.5 193.9 537.5 193.2 544.5 191.5 547.9 190.5 547.5 189.5 545.5 188.3 538.5 189 533.5ZM182.4 531.5 183.1 532.5 182.5 532.9 182.2 532.5ZM275.2 533.5 278.5 532.9 280.5 533.1 282.3 534.5 282.7 535.5 281.4 537.5 276.5 541.5 267.5 543.1 265.5 542.9 264.5 542.3 263.9 541.5 263.9 540.5 264.8 538.5 265.8 537.5 268.5 536ZM784.4 534.5 786.5 534 787.2 534.5 787.7 536.5 787.1 537.5 785.5 538 784.1 537.5 783.3 536.5 783.5 535.5ZM712.9 535.5 714.5 534.8 715.8 535.5 715.8 536.5 714.5 538.5 713.5 539.2 712.5 539.4 711.5 538.6 711.2 537.5 711.7 536.5ZM485.1 536.5 485.5 536.2 485.8 536.5ZM500 545.5 501.5 545.2 502.5 545.5 503.2 547.5 502.5 549 500.5 549.7 499.5 549.3 498.9 547.5 499 546.5ZM226.5 549.5 227.5 549.2 232.6 552.5 233.5 553.5 233.8 554.5 233.5 555.9 232.5 556.3 231.5 556.1 229.5 555ZM487.4 550.5 487.5 549.9 488.5 549.7 488.8 550.5 487.5 550.8ZM493.4 551.5 495.5 552 498.5 551.4 499.5 551.9 501.7 554.5 507.5 557.1 511.5 557.8 513.5 561.3 516.9 564.5 518 566.5 517.6 569.5 515.5 572.9 513.5 573.8 510.5 573.1 501.5 572.1 494.5 573.7 493.5 573.5 490.9 571.5 490.2 570.5 489.8 566.5 490.1 565.5 492.1 562.5 493.3 559.5 493.3 557.5 494.2 554.5 492.9 552.5ZM400.7 561.5 402.5 561.2 403.5 561.5 406.4 563.5 406.5 565.5 405.5 567.7 404.5 568.3 402.5 568 400.5 567 399.5 565.9 398.7 564.5 398.6 563.5 399.1 562.5ZM412.8 563.5 414.5 562.6 416.5 563 419.5 568.2 420.5 568.3 425.5 567.4 427.5 568.5 428.7 570.5 429.5 574.5 433.5 575.9 434.8 577.5 435.3 579.5 435 581.5 433.5 583.4 431.5 584.8 429.5 584.7 426.5 582.5 425.6 580.5 424.9 577.5 420.9 576.5 418.5 575.4 414.5 575.2 413.5 574.4 411 570.5 410.3 568.5 410.7 566.5ZM590 564.5 591.5 563.9 592.5 564.5 592.3 566.5 591.5 567.7 590.5 568 589.4 567.5 589.3 565.5ZM404.6 578.5 408.5 578.1 410.5 578.9 412.6 580.5 413.5 581.5 418.6 590.5 419 591.5 418.5 592.8 417.1 593.5 414.5 593.7 410.5 592.1 408.5 590.7 404.2 584.5 403.3 582.5 402.9 580.5 403.1 579.5ZM359.4 579.5 361.5 578.6 363.5 578.6 365.5 579.2 366.7 580.5 367.4 582.5 367.2 585.5 365.5 588.4 364.5 589.3 363.5 589.6 361.5 588.8 358.1 585.5 357.7 582.5 358.5 580.5ZM610.1 606.5 611.5 606.5 612 608.5 611.5 609.3 610.3 609.5 609.2 608.5 609.3 607.5ZM779.4 621.5 780.5 621.3 782.5 621.9 784.2 623.5 785.4 625.5 786.2 627.5 786.3 629.5 784.6 633.5 784.7 634.5 788.5 635.5 789.3 636.5 789.6 639.5 789.4 640.5 788.5 641.8 787.5 642.2 786.5 642 785.5 641 783.8 637.5 783.3 635.5 782.3 634.5 776.5 631.9 775.5 630.8 776 626.5 776.6 624.5 778 622.5ZM542 622.5 545.5 621.8 547.4 622.5 547.9 623.5 546.6 631.5 545.5 633 544.5 633.6 542.8 633.5 540.5 632.4 539.5 631.5 538.5 628 538.6 626.5 539.1 625.5 540.5 623.5ZM488.3 630.5 490.5 630.1 491.5 630.5 491.6 631.5 490.4 632.5 487.7 632.5 487.2 631.5ZM500.4 642.5 501.5 641.5 502.5 642 503.3 643.5 502.9 644.5 501 644.5 500.3 643.5ZM458.2 652.5 460.5 652.7 462.5 653.7 466.4 657.5 467.6 659.5 467.9 661.5 466.5 664 464.5 664.5 461.5 663.8 459.5 662.5 458.7 661.5 457.1 658.5 456 655.5 456.3 653.5ZM806.9 657.5 807.5 656.7 808.5 656.8 810.7 659.5 812 662.5 811.8 672.5 810.9 675.5 809.5 677.1 808.5 677.1 807.5 676.2 804.9 671.5 803.7 668.5 804.1 662.5 805.4 659.5ZM292.3 658.5 293.5 658.2 294.1 658.5 293.5 659.4 292.5 659.1ZM777.1 659.5 778.5 659.4 779.5 660.4 781.1 663.5 781.1 664.5 780.6 665.5 779.5 666.4 778.5 666.6 777.5 666.1 775.5 663.5 775.7 661.5ZM439.6 676.5 440.5 675.8 441.5 675.8 442.9 677.5 443.1 680.5 442.5 681.9 441.5 682.7 440.3 682.5 438.8 680.5 438.6 678.5ZM403.5 697.5 405.5 697.1 407.5 698 409.1 699.5 409.4 700.5 409.1 704.5 407.5 706.9 405.5 707.9 403.5 706.8 401.6 703.5 402 699.5ZM456.2 698.5 458.5 697.8 461.5 697.8 464.5 699.1 466 700.5 466.4 701.5 466.3 703.5 465.8 704.5 463.5 706.2 460.5 706.8 457.5 706.2 455.5 705 453.8 703.5 453.5 702.5 454.1 700.5ZM329.4 708.5 330.5 708.4 331.5 709.2 332.5 711.5 332.4 712.5 331.5 713.5 330.5 713.8 329.5 713.9 327.5 713.3 326.4 711.5 326.6 710.5 327.4 709.5Z"/>
<path fill="#4a8bc9" fill-rule="evenodd" d="M314.9 185.5 316.5 184.8 317.5 185.1 318.1 186.5 317.2 190.5 315 195.5 312 200.5 309.5 203.5 306.5 205.9 304.5 206.5 303.5 205.7 303.3 204.5 305.7 196.5 310.2 190.5ZM394.6 189.5 396.5 189.6 397.5 190.1 398.7 191.5 398.7 193.5 397.5 195 396.5 195.4 394.5 195.2 393.2 194.5 392.4 193.5 392.3 191.5 393.5 189.9ZM322.8 196.5 323.5 196.2 324.5 196.3 325.8 197.5 326.8 199.5 326.7 202.5 325.2 204.5 321.9 206.5 320.5 208 319.5 208.6 318.5 208.4 317.5 207.4 316.3 204.5 316.2 203.5 317.6 202.5 319.5 199.4ZM187 208.5 188.5 208 189.5 208.3 190.8 209.5 191.2 210.5 191 213.5 189.5 215.1 188.5 215.4 186.5 214.9 185.1 212.5 185.3 210.5ZM342.7 209.5 343.5 209.2 344.6 210.5 345.7 216.5 345.4 219.5 344.5 221.2 343.5 221.7 341.5 220 340.5 218 340.2 216.5 341.5 211.2ZM342.6 223.5 343.5 222.7 344.5 223.3 345.3 224.5 345.5 226.5 344.5 227.7 343.5 228 342.5 227.6 341.7 226.5 341.8 224.5ZM417.5 225.5 418.5 225 420.9 226.5 422.1 228.5 421.6 229.5 420.5 229.5 419 228.5 417.6 226.5ZM314.2 226.5 315.5 225.6 317.5 226.1 318.4 227.5 318.4 228.5 317.8 229.5 316.5 230.2 315.5 230.2 314.5 229.6 313.8 228.5ZM187.6 247.5 192.5 246.6 193.5 246.8 194.5 247.9 194.9 249.5 194.3 250.5 187.5 253.6 178.5 256.2 173.5 256.7 170.9 255.5 170.8 254.5 171.6 253.5 174.5 251.2 185.3 248.5ZM427.7 270.5 429.5 269.9 430.9 270.5 432.5 272.4 435.5 272.3 437.5 272.7 440.5 273.8 443.5 275.5 445.3 277.5 442.3 279.5 446.7 282.5 447.5 284.5 447 285.5 444.5 286.8 440.5 287.3 437.5 286.7 434.5 284.6 433.5 283.5 433 281.5 434.2 279.5 436.6 277.5 434.5 275.5 432.5 272.6 429.5 274.4 427.5 273.8 426.8 272.5 426.9 271.5ZM171.3 273.5 172.5 274.1 173.7 276.5 174.1 278.5 174.1 282.5 173.6 286.5 172.8 289.5 171.5 290.9 170.5 291 168.9 289.5 167.5 286.5 166.9 280.5 167.3 278.5 168.8 275.5 170.5 273.6ZM819.9 274.5 820.5 274 821.5 274.2 822.5 276.5 822.3 279.5 821.5 280.9 820.5 281.2 819.5 279.9 819 277.5 819.3 275.5ZM444.4 296.5 445.5 295.6 446.5 295.7 447.5 296.2 447.7 297.5 447.5 298.1 445.5 298.5 444.5 297.7ZM462.1 298.5 463.5 297.6 465.5 297.7 468.5 299.2 469.3 300.5 468.7 301.5 467.5 301.9 464.5 301.6 462.8 300.5 462.2 299.5ZM514.9 299.5 515.6 299.5 515.5 300.5ZM244.7 333.5 246.5 333.2 247 333.5 247 334.5 245.5 334.8 244.5 334.5ZM398 359.5 400.5 359 402.5 359.9 404 361.5 404.9 364.5 404.5 372.5 403.5 374.4 401.5 376 400.5 376.1 399.5 375.4 398.5 373.5 397.6 370.5 396.5 361.5 396.8 360.5ZM329.2 385.5 331.5 384.7 334.5 385 335.9 385.5 336.5 386.1 336.7 387.5 335.5 388.5 334.5 388.7 330.5 388.8 328.3 387.5 328.1 386.5ZM185.3 398.5 186.7 398.5 187 399.5 186.5 400.2 185.5 400.1 185.1 399.5ZM153.9 409.5 155.5 408.8 158.5 409.1 160.5 410.5 161.2 411.5 161.2 413.5 158.9 417.5 158.9 421.5 159.5 426.5 162.5 428.5 163.3 430.5 163.1 432.5 161.5 434.8 160.5 435.1 159.4 434.5 158.1 432.5 157.5 430 154.5 429.9 153.5 429.4 152.1 427.5 151.3 418.5 153.5 415.5 152.6 411.5ZM474.1 412.5 476.5 413.5 476.8 414.5 475.5 415.1 474.5 415 473.3 413.5 473.5 412.8ZM805.8 412.5 806.5 412.2 808.5 412.6 809.4 413.5 809.5 414.5 809 415.5 806.5 416.6 804.5 416.4 804 415.5 804.1 414.5 804.6 413.5ZM326 413.5 328.5 413 332.5 414 335.5 415.5 336.2 416.5 335.9 417.5 334.3 418.5 332.5 419 328.5 418.9 324.5 418 321.8 416.5 321.6 415.5 322.5 414.8ZM403.1 417.5 404.5 416.8 405.5 416.9 406.4 418.5 405.9 425.5 405 427.5 401.5 431.9 399.5 433.3 398.5 433.2 397.6 431.5 397.6 427.5 398 425.5 399.8 421.5 401.5 419.1ZM136.9 420.5 139.5 419.9 141.5 420.6 142.5 421.5 143 422.5 143.3 424.5 142.5 426.8 140.5 427.6 138.5 427.6 136.5 426.7 135.5 425.7 134.9 424.5 135 422.5 135.6 421.5ZM163.8 443.5 164.5 442.7 165.5 442.5 169 443.5 170 444.5 170.2 445.5 170.5 449.4 172.5 449.2 175.5 449.6 177.2 450.5 178 451.5 178.6 453.5 178.3 456.5 177.5 458 174.5 460.5 173.5 460.5 171.4 456.5 170.5 449.5 168.5 448.8 164.5 446.2 163.5 444.7ZM510.7 471.5 512.5 471.4 513.5 471.9 514.1 473.5 513.4 474.5 511.5 475.2 509.4 474.5 509 473.5 509.4 472.5ZM453.3 472.5 454.5 472.8 454.9 475.5 454.2 478.5 453.5 479.4 452.5 479.7 451.5 478.5 451.4 476.5 452.3 473.5ZM492.3 474.5 496.8 475.5 498.2 476.5 498.6 477.5 498.3 479.5 495.5 483.1 493.5 484.1 486.5 486.4 483.5 485.8 481.3 484.5 480.6 483.5 481.1 482.5 488.5 476.2ZM341.6 475.5 344.5 474.7 350.5 474.6 354.5 475.2 356.5 476.3 358.3 479.5 358.5 482.5 357.9 485.5 355.5 489.3 354.5 489.9 352.5 489.5 348.3 485.5 338.5 482.3 336.5 481.1 335.7 479.5 336 478.5 337.5 477.2ZM178.4 477.5 179.5 476.8 180.5 477.4 181.3 479.5 180.8 483.5 179.5 484.9 178.5 484.5 177.7 482.5 177.7 479.5ZM240.5 477.5 242.5 477.5 243.7 478.5 244 479.5 243.8 480.5 242.5 481.8 240.5 481.7 239.3 480.5 239 479.5 239.3 478.5ZM761.8 493.5 763.5 493 765.3 493.5 766.4 494.5 767.1 496.5 765.7 499.5 764.5 500.7 762.5 501.7 761.5 501.4 760.7 500.5 759.7 496.5 760.4 494.5ZM201.1 497.5 202.5 496.5 203.5 496.9 204.5 498.4 204.5 501.3 203.5 502.8 202.5 502.9 201.1 501.5 200.7 499.5ZM439.3 502.5 439.7 502.5 440.3 503.5 440.4 504.5 439.5 506.4 438.5 506.6 437.6 505.5 437.5 504.5 437.9 503.5ZM527.5 503.5 529.5 503.2 530.5 503.5 530.8 504.5 530 506.5 528.5 508.2 525.5 510.2 522.5 511.2 520.5 511.3 518.6 510.5 518.6 509.5 519.3 508.5 522.5 505.7ZM495.4 505.5 499.5 505.1 501.5 506 503.4 507.5 504.9 509.5 507.5 510.6 508.5 511.5 509.9 514.5 509.9 516.5 508.9 520.5 506.1 523.5 506.6 525.5 506.2 526.5 502.5 528.8 497.5 528.8 495.5 527.9 494.5 526.5 494.4 525.5 494.8 524.5 498.5 522.8 501.4 520.5 499.5 518.2 495.5 516.9 493.5 513.5 490.9 511.5 491.2 509.5 492.5 507.5 493.5 506.3ZM738.3 506.5 740.5 506.4 742.7 507.5 743.6 508.5 744.4 510.5 744 512.5 743.5 512.9 741.5 513.2 739.5 512.7 738.5 512.1 737.2 510.5 736.3 508.5 736.5 507.5ZM184.4 508.5 187.5 509.1 190.3 511.5 190.5 512.5 187.4 516.5 185.2 518.5 182.5 519.4 178.5 519.1 176.5 518.1 175.1 515.5 175.8 512.5 178.5 510.3ZM364.9 514.5 366.5 513.7 367.5 514 368.4 515.5 368 516.5 366.5 517.3 365.5 517.1 364.9 516.5 364.6 515.5ZM438.1 517.5 439.5 516.8 441.5 517.2 442.5 518.5 442.2 519.5 440.5 520.3 439.5 520.2 438.2 519.5 437.8 518.5ZM190 532.5 190.5 531.7 191.5 531.6 192.7 533.5 193.4 536.5 193 543.5 192.5 545.1 191.5 546.6 190.5 546.3 190.1 545.5 188.8 539.5 188.8 536.5ZM274.3 534.5 276.5 534 279.5 533.9 280.7 534.5 281.2 535.5 279.9 537.5 276.5 540.5 269.5 542.3 266.5 542.1 265.3 541.5 265.1 540.5 265.4 539.5 267.1 537.5ZM499.8 557.5 501.5 557.3 502.5 557.8 503.4 561.5 504.5 561.9 505.5 561.6 506.5 560.5 508.1 559.5 509.5 559.2 510.3 559.5 511.6 563.5 512.5 564.3 515.5 565.5 516.3 566.5 516.5 568.5 515.5 570.6 514.5 571.6 512.5 572 506.5 571.8 501.5 571.1 496.5 571.9 494.2 571.5 492.1 568.5 491.8 566.5 492.5 565.3 495.5 562.1 497.5 561.2 498.2 560.5 498.8 558.5ZM400.7 563.5 401.5 562.8 403.5 563.2 404.8 564.5 404.7 565.5 403.5 566.4 402.5 566 401 564.5ZM413.3 564.5 414.5 563.7 415.5 563.7 416.5 564.4 419.5 570.9 421 569.5 423 568.5 424.5 568.2 426.5 568.8 427.5 570 427.9 571.5 427.5 573.5 427 574.5 425.5 575.3 422.5 575.3 421.5 575.1 418.5 573.2 415.5 574.1 414.5 573.8 412.5 571.5 411.3 568.5 411.9 566.5ZM428.7 577.5 429.5 577.1 431.5 577.1 433.5 578.1 434.1 579.5 434.1 580.5 433.8 581.5 432.5 582.9 431.5 583.3 429.5 583.1 427.3 581.5 427 579.5 427.5 578.4ZM360.8 579.5 362.5 579.1 364.5 579.5 365.9 580.5 366.9 582.5 366.8 584.5 366 586.5 364.5 588.4 363.5 588.8 360.5 587.4 358.7 585.5 358.3 584.5 358.6 581.5 359.5 580.3ZM404.5 579.5 406.5 579 408.5 579.2 410.5 580.3 411.7 581.5 414.8 586.5 416.1 589.5 416.5 591.5 415.5 592.5 414.5 592.6 411.5 591.4 408.5 589.3 404.4 583.5 403.8 580.5ZM780.1 622.5 781.5 622.6 783.5 624 784.5 625.5 785.2 627.5 785.1 629.5 784.6 630.5 783.5 632.2 782.5 632.8 780.5 632.6 778.5 631.9 776.9 630.5 776.6 629.5 776.9 626.5 777.5 624.8 778.5 623.4ZM542.3 624.5 543.5 624.4 544.5 625.4 544.9 626.5 544.5 627.7 543.5 627.9 541.8 626.5 541.5 625.5ZM458.2 653.5 459.5 653.4 461.5 653.9 463.5 655.3 465.5 657.5 466.9 660.5 466.8 661.5 465.5 663.3 462.5 663.3 460.8 662.5 459.5 661.1 457.9 658.5 456.9 655.5 457 654.5ZM806.7 659.5 807.5 658.8 808.5 658.6 809.5 659.2 810.5 660.5 811.3 662.5 811.2 672.5 810.5 674.8 809.5 676 808.5 676.1 807.5 675.3 805.9 672.5 804.6 668.5 805.1 662.5ZM440.1 676.5 441.5 676.2 442.8 678.5 442.7 680.5 441.5 682.2 440.5 682.1 439.1 680.5 438.9 678.5ZM403.2 698.5 404.5 697.7 406.5 698.1 408.2 699.5 408.6 700.5 408.8 702.5 408.3 704.5 407 706.5 405.5 707.3 404.5 707 403.5 706.2 402 703.5 402.2 700.5ZM458 698.5 461.5 698.4 464.5 699.7 465.8 701.5 465.9 702.5 464.9 704.5 462.5 705.9 459.5 706.2 456.5 705.2 454.5 703.7 453.9 702.5 454.6 700.5 456.5 698.9ZM328.7 710.5 329.5 710.2 330.2 710.5 330.5 711.5 329.5 712.1 328.5 711.8 328.2 711.5Z"/>
<path fill="#4a9a9b" fill-rule="evenodd" d="M314.5 186.5 316.5 185.8 317.2 186.5 317.3 187.5 315.9 192.5 314 196.5 309.5 202.6 306.5 205.1 304.5 205.4 304 204.5 304.2 202.5 306.1 196.5 309.8 191.5ZM393.5 190.5 395.5 189.8 397.5 190.6 398.3 192.5 397.5 194.4 395.5 195 393.5 194.2 392.7 192.5 392.8 191.5ZM321.9 200.5 323.5 200 324.5 200.4 324.6 202.5 322.5 204.2 320.5 204.3 320.9 201.5ZM188.4 208.5 189.5 208.8 190.2 209.5 191 211.5 190.5 213.5 189.5 214.7 188.5 215.1 186.5 214.4 185.8 213.5 185.5 211.5 186.5 209.3ZM343.4 212.5 344.4 214.5 344.7 216.5 344.5 217.8 343.5 219.1 342.5 218.6 341.4 216.5 341.5 215 342.5 212.7ZM342.3 224.5 343.5 223.7 344.5 224.1 345.3 225.5 345.2 226.5 344.5 227.3 343.5 227.7 342.5 227.2 341.9 226.5 341.8 225.5ZM314.7 226.5 315.5 225.9 316.5 225.9 317.4 226.5 318 227.5 318 228.5 317.5 229.2 316.5 229.9 315.5 229.9 314.5 229.2 314.1 227.5ZM418.1 226.5 418.5 225.5 420.5 226.5 421.4 227.5 421.5 228.9 420.5 229.1 419.5 228.6ZM187.6 248.5 189.5 248.3 192.2 249.5 191.6 250.5 187.5 253 179.5 255.6 174.5 256.3 172 255.5 171.8 254.5 172.5 253.5 174.5 251.9ZM428.2 270.5 429.5 270.2 431.4 271.5 431.6 272.5 430.9 273.5 429.5 274.1 428.5 274.1 427.6 273.5 427.1 272.5 427.2 271.5ZM434.3 273.5 435.5 273 436.5 273 440.5 274.2 442.7 275.5 443.5 276.5 443.2 277.5 441.5 278.1 439.5 278.1 435.5 275.7 434.6 274.5ZM169.5 275.5 170.5 274.6 171.5 274.6 172.6 275.5 173.6 278.5 173.6 284.5 172.5 288.5 171.5 289.7 170.5 289.8 169.5 288.9 167.9 285.5 167.6 279.5ZM820.5 275.5 821.5 276.1 821.6 277.5 821.5 278.3 820.5 278.9 820 277.5ZM436.3 279.5 438.5 279.3 441.5 280.2 445 282.5 445.6 283.5 445.5 284.5 444.9 285.5 442.5 286.5 439.5 286.5 437.5 285.9 434.5 283.7 433.8 282.5 433.8 281.5 434.4 280.5ZM463 298.5 464.5 298 466.5 298.5 468.1 299.5 468.4 300.5 467.5 301.2 466.5 301.3 464.5 301.1 463.5 300.5 462.9 299.5ZM398 360.5 399.5 359.8 401.5 360 403.1 361.5 404 363.5 404.4 367.5 404 372.5 403.4 373.5 401.5 375.1 400.5 375.1 399.5 374.3 398 370.5 397.4 362.5 397.4 361.5ZM330.2 386.5 331.5 385.8 332.5 385.8 335 386.5 334.7 387.5 332.5 387.9 330.5 387.5ZM155.2 409.5 156.5 409.2 158.5 409.6 159.9 410.5 160.8 412.5 160.5 413.6 159.5 414.9 156.6 416.5 157.9 419.5 158.6 426.5 158.1 428.5 155.5 429.2 153.5 428.5 152.8 427.5 152 423.5 152.5 418.5 153.5 417.5 155.9 416.5 154.5 415.2 153.2 412.5 153.8 410.5ZM324.1 414.5 326.5 413.7 329.5 413.7 333.5 414.9 334.5 415.5 335.3 416.5 334.9 417.5 332.5 418.6 326.5 418.3 324.3 417.5 322.8 416.5 322.6 415.5ZM404.3 417.5 405.5 417.9 406.1 419.5 406 422.5 405.4 425.5 403.8 428.5 401.5 431.3 400.5 432.2 399.2 432.5 398.5 432.2 398.1 431.5 397.9 429.5 398.1 426.5 398.8 424.5 401.5 419.7 403.5 417.8ZM136.4 421.5 138.5 420.6 140.5 420.8 141.5 421.5 142.5 423.5 142.1 425.5 141.5 426.3 140.5 426.8 138.5 427 136.5 425.9 135.6 424.5 135.5 423.5ZM158.7 428.5 160.5 428.1 161.5 428.4 162.5 429.5 162.9 430.5 162.7 432.5 161.5 434.3 160.5 434.5 159 433.5 158.2 430.5ZM172.2 450.5 173.5 450 175.5 450.1 177.5 451.6 178.1 453.5 178.1 455.5 177.5 456.9 176.5 458 174.5 458.6 173.5 458.1 172.2 456.5 171.6 453.5 171.8 451.5ZM510.3 472.5 511.5 472 512.5 472.3 513 473.5 511.6 474.5 510.5 474.3 509.9 473.5ZM342.5 475.5 345.5 475 350.5 475 354.5 475.7 356.1 476.5 357.5 478.5 358.2 481.5 357.9 484.5 356.5 487.4 354.5 489 353.5 489 351.5 487.8 349.4 485.5 344.3 483.5 338.5 481.9 336.6 480.5 336.3 479.5 336.6 478.5 337.5 477.7ZM491.5 475.5 494.5 475.7 496.2 476.5 497 477.5 497 479.5 495.6 481.5 493.5 483.1 488.5 485 485.5 485.3 483.5 484.5 482.7 483.5 482.8 482.5 483.5 481.5 487.5 477.7ZM178.3 478.5 179.5 477.5 180.5 478.3 180.9 479.5 180.8 482.5 180.5 483.5 179.5 484.5 178.5 484 177.9 482.5 177.8 480.5ZM239.9 478.5 241.5 477.8 242.5 478.1 243.4 479.5 243.1 480.5 241.5 481.3 240.5 481 239.6 479.5ZM762.4 494.5 764 494.5 764.9 495.5 764.7 498.5 763.5 499.6 762.5 499.4 761.4 496.5 761.5 495.5ZM202 497.5 202.5 497.2 203.5 497.6 204.2 499.5 203.8 501.5 202.5 502.2 201.5 501.3 201.1 499.5 201.2 498.5ZM526.1 504.5 528.5 504 529.7 504.5 529.8 505.5 528.4 507.5 525.5 509.4 522.5 510.4 520.5 510.2 520 509.5 521.3 507.5 523.5 505.6ZM495.2 506.5 498.5 506.2 500.5 506.9 501.5 507.7 502.7 509.5 503.4 512.5 498.5 515.4 497.5 515.7 496.2 515.5 492.6 510.5 493 508.5 493.7 507.5ZM737.8 507.5 739.5 507 741.6 507.5 743.4 509.5 743.5 511.5 742.5 512.3 741.5 512.4 739.5 511.8 737.5 509.5 737.2 508.5ZM181.9 509.5 184.5 508.7 186.5 509 188.3 510.5 188.9 512.5 186.7 516.5 184.5 518.4 181.5 519.1 178.5 518.7 176.6 517.5 175.9 516.5 175.9 513.5 176.5 512.4 178.5 510.8ZM503.6 512.5 505.5 511.7 507.5 511.9 509.1 514.5 509.2 516.5 508.5 519.4 507.5 520.8 506.5 521.3 505.5 521.3 504.5 520.7 503.2 518.5ZM365.3 514.5 366.5 514 367.5 514.3 368.1 515.5 367.7 516.5 366.5 517.1 365.5 516.8 364.9 515.5ZM439.3 517.5 440.5 517.4 441.5 518.1 441.8 518.5 441.3 519.5 440.5 519.8 439.1 519.5 438.5 518.5ZM500.3 523.5 501.5 523.3 502.5 523.6 504.2 525.5 504 526.5 503 527.5 501.5 528.2 499.5 528.3 496.9 527.5 496.1 526.5 496.2 525.5ZM191.3 532.5 192.7 534.5 193.3 538.5 192.7 543.5 191.5 545.6 190.5 545.3 190.1 544.5 189 538.5 189.2 536.5 190 533.5 190.5 532.6ZM273.4 535.5 275.5 534.8 277.5 534.7 279.3 535.5 279.3 536.5 277.8 538.5 275.5 540 269.5 541.6 267.5 541.4 266.5 540.6 266.5 539.5 268.3 537.5ZM500 563.5 501.5 563.2 505.5 563.6 508.5 563.2 514.1 566.5 515 567.5 515.1 568.5 514.5 569.6 513.4 570.5 509.5 571.1 500.5 570.1 496.5 570.1 494.5 568.7 493.9 567.5 494.1 566.5 495.5 564.9ZM413.6 565.5 414.5 564.9 415.5 564.8 416.5 565.7 417.4 567.5 417.8 570.5 417.5 571.5 416.5 572.7 415.5 573 414.5 572.7 413.3 571.5 412.2 569.5 412.4 567.5ZM422.8 569.5 424.5 569.1 425.5 569.3 426.5 570.3 426.6 572.5 425.5 573.8 423.5 574.1 422.5 573.9 421.5 573 421.2 571.5 421.6 570.5ZM430 578.5 431.5 578.4 432.5 579 432.9 580.5 432.4 581.5 430.5 582 429.2 581.5 428.5 580.7 428.5 579.5ZM360.1 580.5 361.5 579.8 363.5 579.7 364.5 580 366 581.5 366.3 584.5 364.5 587.5 363.5 588 362.5 587.9 360.5 586.9 359.2 585.5 358.8 584.5 358.7 582.5ZM404.9 580.5 406.5 579.9 407.5 579.9 410.1 581.5 413.7 586.5 414.7 589.5 414.5 590.7 413.5 590.8 411.5 590.2 408.5 588 405.2 583.5 404.6 581.5ZM778.9 624.5 780.5 623.6 781.5 623.8 783.6 625.5 784.3 628.5 783.5 630.5 782.5 631.4 781.5 631.7 779.5 631.4 778.2 630.5 777.6 629.5 777.8 626.5ZM458.3 654.5 459.5 654.2 461.5 654.7 463.9 656.5 465.8 659.5 466 660.5 465.5 662 464.5 662.7 463.5 662.8 462.3 662.5 460.5 661.2 459.2 659.5 457.9 656.5 457.8 655.5ZM806.9 660.5 808.5 659.6 809.5 660.2 810.4 661.5 811 663.5 810.8 672.5 809.5 675 808.5 675.2 807.5 674.4 806.4 672.5 805.3 668.5 805.8 662.5ZM439.6 677.5 440.5 676.6 441.5 676.6 442.2 677.5 442.6 679.5 441.5 681.7 440.5 681.7 439.5 680.5 439.2 678.5ZM404 698.5 405.5 698.2 406.5 698.7 407.5 699.6 408.3 701.5 407.8 704.5 406.5 706.2 405.5 706.7 404.5 706.5 403.5 705.7 402.4 703.5 402.6 700.5ZM456.3 699.5 459.5 698.7 462.5 699 464.7 700.5 465.3 701.5 465.1 703.5 464.2 704.5 462.5 705.4 459.5 705.7 457.5 705.3 455.5 704.1 454.4 702.5 455.1 700.5Z"/>
<path fill="#4aa572" fill-rule="evenodd" d="M314.1 187.5 315.5 186.7 316.6 187.5 316.1 190.5 314.1 195.5 309.5 201.9 306.5 204.3 305.2 204.5 304.6 203.5 304.7 202.5 306 197.5 307.1 195.5 310.1 191.5ZM394.3 190.5 395.5 190.2 396.5 190.4 397.6 191.5 397.6 193.5 396.5 194.5 394.5 194.4 393.5 193.5 393.1 192.5 393.3 191.5ZM186.8 209.5 188.5 208.9 189.5 209.3 190.4 210.5 190.6 211.5 190.2 213.5 188.5 214.8 187.5 214.7 186.5 213.9 185.9 212.5 186.1 210.5ZM342.9 224.5 343.5 224.2 344.5 224.7 345 225.5 344.5 226.9 343.5 227.3 342.2 226.5 342.1 225.5ZM315.2 226.5 316.5 226.3 317.7 227.5 317.7 228.5 316.5 229.6 315.5 229.6 314.4 228.5 314.4 227.5ZM418.7 226.5 419.5 226.3 420.5 227 420.9 227.5 420.9 228.5 420.5 228.7 419.5 228.1ZM186.3 249.5 189.3 249.5 189.8 250.5 188.8 251.5 186.5 252.8 178.5 255.5 174.5 255.8 173.3 255.5 172.7 254.5 173.5 253.3 175.5 252 182.5 250.1ZM427.5 271.5 428.5 270.6 429.5 270.5 431 271.5 431.2 272.5 430.3 273.5 428.5 273.8 427.4 272.5ZM435.4 274.5 436.5 273.5 438.5 273.9 441.5 275.3 442.5 276.5 441.5 277.2 439.5 277.2 436.5 275.7ZM170.9 275.5 171.5 275.5 172.9 277.5 173.4 281.5 172.5 287 171.5 288.5 170.5 288.7 169.5 287.7 168.6 285.5 168 280.5 168.4 278.5 169.4 276.5ZM436 280.5 438.5 280.2 441.5 281.1 443.7 282.5 444.2 283.5 444.1 284.5 442.9 285.5 441.5 285.8 439.5 285.8 437.5 285.1 435.3 283.5 434.7 282.5 434.8 281.5ZM463.6 299.5 464.5 298.6 465.5 298.7 467.2 299.5 467.2 300.5 465.5 300.8 464.5 300.5ZM399.6 360.5 401.5 360.8 402.5 361.7 403.3 363.5 404 366.5 403.5 372.2 402.7 373.5 401.5 374.3 400.5 374.3 399.5 373.4 398.1 369.5 398.2 362.5 398.5 361.3ZM154.5 410.5 156.5 409.7 158.5 410 160.1 411.5 159.9 413.5 158.5 414.8 157.5 415.2 155.5 414.9 154.5 414 153.8 412.5 153.9 411.5ZM325.1 414.5 327.5 413.9 329.5 414 333.5 415.4 334.5 416.5 334 417.5 332.5 418.2 330.5 418.4 326.5 418 323.6 416.5 323.5 415.5ZM403.2 418.5 404.5 418.1 405.5 419 405.8 421.5 405.3 424.5 404.1 427.5 402.6 429.5 400.5 431.6 399.5 431.9 398.5 430.8 398.3 429.5 398.8 425.5 400.6 421.5ZM153.5 419.5 154.5 418.8 155.5 418.8 156.5 419.3 157.6 421.5 158.1 424.5 157.9 426.5 157.4 427.5 155.5 428.6 154.5 428.4 153.5 427.6 152.6 425.5 152.5 422.5ZM137.4 421.5 139.5 421.2 141.5 422.5 141.7 424.5 141.1 425.5 139.5 426.3 138.5 426.3 136.9 425.5 136.1 423.5 136.4 422.5ZM159 429.5 159.5 428.9 160.5 428.6 162 429.5 162.6 431.5 161.5 433.8 160.5 434.1 159.5 433.6 158.8 432.5 158.6 430.5ZM172.7 451.5 174.5 450.6 175.5 450.7 176.8 451.5 177.4 452.5 177.7 454.5 177.5 455.7 176.5 457.1 174.5 457.6 173 456.5 172.2 454.5ZM343.8 475.5 351.5 475.4 354.5 476.1 356.5 477.5 357.5 479.5 357.9 482.5 357.2 485.5 355.5 487.9 353.5 488.3 348.5 484.6 339.5 481.8 337.2 480.5 336.8 479.5 337.1 478.5 338.3 477.5 341.5 476ZM490.7 476.5 493.5 476.2 495.5 477.3 496 478.5 495.3 480.5 493.5 482.2 489.5 484 486.5 484.5 484.5 483.9 483.9 482.5 485.2 480.5 487.5 478.3ZM178.9 478.5 179.5 478.1 180 478.5 180.7 480.5 180.5 482.7 179.5 484.1 178.5 483.5 178 481.5 178.2 479.5ZM240.8 478.5 241.5 478.3 242.5 478.9 242.8 479.5 242.1 480.5 241.5 480.7 240.5 480.2 240.2 479.5ZM201.9 498.5 202.5 498 203.5 498.5 203.7 499.5 203.5 500.9 202.5 501.5 201.6 499.5ZM524.8 505.5 527.5 504.8 528.8 505.5 528.4 506.5 527.5 507.5 526 508.5 523.5 509.5 521.5 509.5 521.4 508.5 522.1 507.5ZM495.3 507.5 497.5 507.2 499.5 507.7 501.2 509.5 501.5 510.5 501.1 511.5 499.5 512.6 496.5 512.9 493.9 510.5 493.8 509.5 494.2 508.5ZM738.2 508.5 739.5 507.8 741.5 508.2 742.6 509.5 742.5 511 741.5 511.6 739.5 510.9 738.3 509.5ZM182.8 509.5 185.5 509 186.8 509.5 187.8 510.5 188 512.5 186.8 515.5 185.1 517.5 182.5 518.7 179.5 518.6 177.5 517.8 176.4 516.5 176.1 515.5 176.4 513.5 177 512.5 178.5 511.2ZM504.8 513.5 505.5 512.8 506.5 512.5 507.5 512.9 508.7 515.5 508.2 518.5 507.5 519.7 506.5 520.3 505.5 520.1 504.2 518.5 504.1 515.5ZM365.8 514.5 366.5 514.2 367.5 514.7 367.8 515.5 367.2 516.5 366.5 516.8 365.5 516.3 365.2 515.5ZM439.5 518.5 440.8 518.5 440.5 518.8ZM498.5 525.5 500.5 524.7 501.5 524.7 502.5 525.5 502.5 526.5 501.1 527.5 499.3 527.5 497.9 526.5ZM190.6 533.5 191.7 533.5 192.5 535.1 193 537.5 192.6 542.5 191.5 544.8 190.5 544.4 190.2 543.5 189.3 538.5 189.7 535.5ZM275.3 535.5 276.8 535.5 278 536.5 277.7 537.5 276.5 538.6 270.5 540.9 268.3 540.5 267.9 539.5 268.4 538.5 269.5 537.7ZM501.1 564.5 508.5 564.5 511.8 566.5 512.8 567.5 513 568.5 511.5 569.9 509.5 570.2 505.5 570.1 500.5 568.9 499.3 568.5 498.3 567.5 498.2 566.5 498.9 565.5ZM413.9 566.5 414.5 566 415.5 566 416.7 567.5 417.1 569.5 416.9 570.5 415.5 571.9 414.5 571.6 413 569.5 413.2 567.5ZM423.3 570.5 424.9 570.5 425.4 571.5 424.5 572.7 423.1 572.5 422.7 571.5ZM360.9 580.5 363.5 580.1 365.5 581.4 366 582.5 366 584.5 365.6 585.5 364.5 586.9 363.5 587.4 361.5 587.1 359.7 585.5 359.2 584.5 359.1 582.5 359.7 581.5ZM406 581.5 406.5 581.1 407.5 581.1 409.5 582.5 412.6 586.5 412.9 587.5 412.5 588.8 410.5 588.5 407.5 585.8 406.1 583.5ZM779.4 625.5 780.5 624.9 781.5 625.1 783 626.5 783.3 628.5 782.5 630 781.5 630.7 779.5 630.4 778.6 629.5 778.4 627.5ZM459 655.5 460.5 655.1 461.5 655.4 463.5 656.9 465 659.5 465.1 660.5 464.8 661.5 463.5 662 462.5 661.8 460.8 660.5 459 657.5ZM807 661.5 808.5 660.5 809.8 661.5 810.5 663.5 810.5 671.5 809.5 674.1 808.5 674.4 806.8 672.5 806 669.5 806.2 663.5ZM440 677.5 440.5 677 441.5 677 441.9 677.5 442.3 679.5 441.5 681.2 440.5 681.3 439.9 680.5 439.5 678.5ZM403.5 699.5 404.5 698.7 405.5 698.7 406.8 699.5 407.8 701.5 407.3 704.5 406.5 705.6 405.5 706.2 404.5 706 403.9 705.5 402.7 703.5 402.7 701.5ZM457.1 699.5 460.5 699 463.5 699.9 464.9 701.5 465 702.5 464.6 703.5 463.5 704.6 461.5 705.3 458.5 705.2 456.5 704.4 455.3 703.5 454.8 702.5 454.9 701.5 455.6 700.5Z"/>
<path fill="#4cb349" fill-rule="evenodd" d="M313.5 188.5 315.5 187.6 315.9 188.5 315.1 192.5 313.7 195.5 311.8 198.5 308.5 202.4 306.5 203.6 305.5 203.6 305.1 202.5 305.3 200.5 306.8 196.5 310.5 191.5ZM393.8 191.5 395.5 190.6 396.5 191 397.4 192.5 397.1 193.5 395.5 194.2 394.5 193.9 393.6 192.5ZM187.4 209.5 188.5 209.2 189.5 209.8 190.3 211.5 189.8 213.5 188.5 214.4 187.5 214.3 186.6 213.5 186.2 212.5 186.4 210.5ZM342.4 225.5 343.5 224.6 344.6 225.5 344.5 226.5 343.5 227 342.6 226.5ZM314.7 227.5 315.5 226.6 316.5 226.6 317.4 227.5 317.3 228.5 316.5 229.3 315.5 229.3 314.7 228.5ZM183 250.5 186.5 250.2 187.9 250.5 187.6 251.5 186 252.5 179.5 254.9 175.5 255.4 174.5 255.2 173.6 254.5 174.1 253.5 175.6 252.5ZM427.8 271.5 428.5 270.9 429.5 270.8 430.6 271.5 430.8 272.5 429.5 273.6 428.5 273.5 427.7 272.5ZM436.7 274.5 438.9 274.5 441 275.5 441.2 276.5 439.4 276.5 437.4 275.5ZM170.3 276.5 171.5 276.3 172.4 277.5 173.1 280.5 172.5 285.5 171.5 287.4 170.5 287.6 169.1 285.5 168.4 281.5 168.9 278.5ZM436.2 281.5 438.5 281 440.8 281.5 442.3 282.5 442.9 283.5 442.5 284.5 440.5 285.1 438.5 284.8 436.5 283.5 435.9 282.5ZM464.9 299.5 465.8 299.5ZM399.6 361.5 401.1 361.5 402.2 362.5 403.5 366.5 403.3 371.5 402.5 373 401.5 373.6 400.5 373.6 399.5 372.6 398.5 369.5 398.4 367.5 399 362.5ZM155.3 410.5 156.5 410.1 158.6 410.5 159.6 411.5 159.7 412.5 159.3 413.5 157.5 414.5 155.5 414.2 154.3 412.5 154.4 411.5ZM326.3 414.5 328.5 414.3 330.5 414.6 332.8 415.5 333.7 416.5 333.1 417.5 331.5 418 326.5 417.6 324.4 416.5 324.3 415.5ZM402.5 419.5 403.5 418.8 404.5 418.7 405.2 419.5 405.4 421.5 405.1 424.5 404.3 426.5 402.5 429.2 400.5 431.1 399.5 431.2 398.7 429.5 399 425.5 400.3 422.5ZM154 420.5 154.5 420.1 155.5 420 156.5 420.7 157.5 423.5 157.2 426.5 156.5 427.5 155.5 427.9 154.2 427.5 153.1 425.5 153 422.5ZM137.1 422.5 138.5 421.8 140.5 422.3 141.1 423.5 140.9 424.5 139.5 425.7 137.9 425.5 136.9 424.5 136.7 423.5ZM159.5 429.5 160.5 429.1 161.5 429.5 162.1 430.5 162 432.5 161.5 433.3 160.5 433.7 159.5 433.1 158.9 431.5ZM174 451.5 175.8 451.5 176.5 452.1 177.1 453.5 177 455.5 176.5 456.3 175.5 456.9 174.5 456.8 173.1 455.5 172.8 453.5 173.1 452.5ZM347.6 475.5 353.5 476.1 355.5 477 356.5 478.1 357.4 480.5 357.6 482.5 356.9 485.5 355.5 487.3 354.5 487.8 353.5 487.8 349.2 484.5 339.5 481.5 337.7 480.5 337.2 479.5 337.6 478.5 338.8 477.5 341.5 476.3 343.5 475.7ZM489.9 477.5 491.5 476.9 493.5 477 494.5 477.6 495 478.5 494.9 479.5 493.3 481.5 490.5 483.1 487.5 483.8 485.5 483.5 484.9 482.5 485.9 480.5 487.5 478.9ZM178.5 479.5 179.5 478.7 180.5 480.5 180.3 482.5 179.5 483.7 178.3 482.5ZM202.4 499.5 202.5 499.2 202.7 499.5 202.5 500ZM524.1 506.5 526.5 505.6 527.4 506.5 526.5 507.5 524.5 508.5 522.9 508.5 523.1 507.5ZM183.5 509.5 185.5 509.3 187.3 510.5 187.4 512.5 185.6 516.5 183.5 518 181.5 518.5 179.5 518.3 177.8 517.5 176.5 515.5 176.8 513.5 177.5 512.5 179.5 511.1ZM495.4 509.5 496.5 508.6 497.5 508.6 499.1 509.5 499.1 510.5 496.5 510.7ZM739.3 509.5 739.5 509 740.5 508.7 741.6 509.5 741.5 510.3 740.5 510.5ZM506 513.5 506.5 513.3 507.5 513.8 508.2 515.5 507.6 518.5 506.5 519.4 505.5 519.1 504.7 517.5 505 514.5ZM366.4 514.5 367.6 515.5 366.5 516.6 365.4 515.5ZM190.5 534.5 191.5 534 192.7 537.5 192.5 541.3 191.5 544 190.5 543.5 189.6 539.5 189.8 536.5ZM274.5 536.5 276.1 536.5 276.3 537.5 274.8 538.5 271.5 539.8 270.5 540 269.4 539.5 269.8 538.5 271.5 537.5ZM501.8 565.5 506.5 565.1 508.5 565.4 510.3 566.5 511.1 567.5 511.2 568.5 509.5 569.4 507.5 569.5 502.9 568.5 501 567.5 500.5 566.5ZM414.2 567.5 415.5 567.2 416.2 568.5 416.2 569.5 415.5 570.6 414.5 570.5 413.9 569.5 413.8 568.5ZM361.9 580.5 363.5 580.4 364.5 580.9 365.6 582.5 365.8 583.5 365.1 585.5 363.5 586.9 361.5 586.6 360.1 585.5 359.5 584.5 359.6 582.5 360.1 581.5ZM407.4 583.5 408.5 583.4 410.1 585.5 409.5 586 408.5 585.3ZM780.2 626.5 781.5 626.5 782.1 627.5 782 628.5 781.5 629.3 780.5 629.6 779.4 628.5 779.5 627.3ZM460 656.5 461.5 656.3 463.1 657.5 464.1 659.5 464 660.5 463.5 661 462.5 660.9 460.8 659.5 459.9 657.5ZM808.1 661.5 808.5 661.3 809.5 662.1 810.3 665.5 810.1 671.5 809.5 673.1 808.5 673.6 807.5 672.9 806.8 671.5 806.3 667.5 806.7 663.5 807.5 661.8ZM440.3 677.5 441.5 677.4 442 678.5 442.1 679.5 441.5 680.8 440.5 680.8 439.8 679.5ZM404.1 699.5 405.5 699.1 406.1 699.5 407.4 701.5 407.3 703.5 406.9 704.5 405.5 705.7 404.4 705.5 403 703.5 403 701.5ZM458.1 699.5 460.5 699.3 463.5 700.3 464.5 701.5 464.6 702.5 464.1 703.5 462.5 704.7 460.5 705.1 458.5 705 456.5 704.1 455.1 702.5 455.3 701.5 456.5 700.1Z"/>
<path fill="#83c54e" fill-rule="evenodd" d="M314.5 188.5 315.4 189.5 315.3 190.5 314.4 193.5 312.9 196.5 309.5 200.9 307.5 202.6 306.5 202.9 305.8 202.5 305.6 201.5 305.9 199.5 307.1 196.5 311.5 190.7ZM394.4 191.5 395.5 191.1 396.5 191.5 396.9 192.5 396.5 193.4 395.5 193.7 394.5 193.3 394.1 192.5ZM186.8 210.5 187.5 209.8 188.5 209.6 189.5 210.3 190 211.5 189.5 213.5 188.5 214.1 187 213.5 186.5 212.5ZM342.9 225.5 343.5 225 344.2 225.5 343.9 226.5 343.1 226.5ZM315 227.5 315.5 226.9 316.5 226.9 317 227.5 317 228.5 316.5 229 315.5 229 315 228.5ZM180.2 251.5 184.5 250.9 186.1 251.5 184.7 252.5 179.5 254.5 176.5 254.9 174.7 254.5 175 253.5 175.5 253.2ZM428.2 271.5 429.5 271.1 430.1 271.5 430.4 272.5 429.5 273.3 428.5 273.2 427.9 272.5ZM170.1 277.5 170.5 277.1 171.5 277.2 172.3 278.5 172.7 280.5 172.3 284.5 171.5 286.3 170.5 286.5 169.5 284.9 168.9 281.5 169 279.5ZM437.4 282.5 438.5 281.9 439.5 282 440.7 282.5 441.2 283.5 439.5 284.1 438 283.5ZM400.4 362.5 401.5 362.9 401.9 363.5 403.3 367.5 402.8 371.5 401.5 373 400.5 372.9 399.5 371.8 398.8 369.5 398.9 366.5 399.5 364ZM155 411.5 156.5 410.5 157.5 410.5 159 411.5 159.2 412.5 158.5 413.5 156.5 414 155.5 413.5 154.9 412.5ZM325.1 415.5 326.5 414.8 328.5 414.6 331.9 415.5 333 416.5 331.5 417.6 327.5 417.6 325.1 416.5ZM403.2 419.5 404.5 419.3 405 420.5 404.8 424.5 402.5 428.8 400.5 430.6 399.5 430.5 398.9 428.5 399.3 425.5 401.2 421.5ZM154.1 421.5 154.5 421.1 155.5 421 156.5 422 156.9 423.5 157 425.5 156.6 426.5 155.5 427.2 154.5 427 153.5 425.5 153.3 423.5ZM138.3 422.5 139.5 422.5 140.3 423.5 139.5 424.9 138.5 425 137.7 424.5 137.4 423.5ZM159.3 430.5 160.5 429.5 161.5 430 162 431.5 161.5 432.8 160.5 433.3 159.5 432.6ZM174 452.5 175.5 452.2 176.5 453.3 176.5 455 175.5 456.1 174.5 456 173.5 454.7 173.5 453.5ZM341.5 476.5 344.5 475.8 348.5 475.7 351.5 476 354.5 476.8 356.4 478.5 357.2 480.5 357.2 483.5 356.5 485.6 355.5 486.9 354.5 487.4 353.5 487.3 349.5 484.3 340.5 481.6 338.2 480.5 337.6 479.5 338 478.5 339.2 477.5ZM489.1 478.5 490.5 477.8 492.5 477.5 493.9 478.5 494 479.5 492.5 481.3 490.5 482.5 488.5 483.1 486.5 482.9 486 482.5 486 481.5 486.6 480.5ZM179.2 479.5 179.5 479.3 180.1 480.5 180.2 481.5 179.5 483.2 178.7 482.5 178.4 481.5 178.5 480.3ZM182 510.5 184.5 509.5 185.5 509.6 186.8 510.5 187.1 511.5 185.8 515.5 184.5 517 182.5 518 180.5 518.1 178.5 517.5 177.3 516.5 176.9 515.5 177.2 513.5 178.5 512.1ZM505.9 514.5 506.5 514.2 507.7 515.5 507.5 517.5 506.5 518.5 505.5 517.9 505.2 516.5ZM365.9 515.5 366.5 514.9 367.1 515.5 366.5 516.1ZM190.4 535.5 191.5 534.8 192.4 537.5 192.3 540.5 191.5 543.1 190.5 542.5 190 540.5 189.9 537.5ZM503.6 566.5 505.5 565.9 507.5 565.9 508.8 566.5 509.5 567.5 508.8 568.5 506.5 568.7 503.8 567.5ZM360.6 581.5 362.5 580.7 363.5 580.8 364.7 581.5 365.5 583.5 364.5 585.8 363.5 586.4 362.5 586.6 360.5 585.5 359.7 583.5ZM461.4 658.5 461.5 657.8 462.5 658.3 462.5 659.4ZM808 662.5 808.5 662.2 809.5 663.2 809.9 665.5 809.6 671.5 808.5 672.8 807.3 671.5 806.8 668.5 807 664.5 807.5 662.9ZM440.1 678.5 440.5 677.8 441.5 677.9 441.8 679.5 441.5 680.2 440.5 680.3ZM403.7 700.5 404.5 699.6 405.5 699.6 406.5 700.4 407 701.5 406.9 703.5 405.5 705.3 404.5 705.1 403.3 703.5 403.3 701.5ZM456.5 700.5 458.5 699.6 461.5 699.7 463.5 700.7 464.1 701.5 464.2 702.5 463.7 703.5 462.5 704.4 460.5 704.9 458.5 704.7 456.5 703.8 455.5 702.5 455.6 701.5Z"/>
<path fill="#c0d855" fill-rule="evenodd" d="M313.5 189.5 314.5 189.3 314.9 190.5 313.1 195.5 309.5 200.4 307.5 202 306.5 202.1 306.1 201.5 306.2 199.5 307.4 196.5 310.5 192.2ZM394.9 192.5 395.5 191.8 396.1 192.5 395.5 193ZM187.2 210.5 188.5 210 189.5 210.9 189.7 212.5 188.5 213.8 187.5 213.6 186.8 212.5 186.7 211.5ZM315.3 227.5 316.5 227.3 316.7 228.5 315.5 228.7ZM178.2 252.5 182.5 251.7 183.3 252.5 179.5 254 177.5 254.3 176.5 254 176.2 253.5ZM428.5 271.5 429.5 271.3 430 272.5 429.5 272.9 428.5 272.8 428.2 272.5ZM170.1 278.5 170.5 278 171.5 278.2 172.2 280.5 171.8 284.5 171.5 285.1 170.5 285.3 169.7 283.5 169.3 281.5 169.5 279.5ZM400.3 364.5 400.5 364.1 401.5 364.2 402.5 365.9 402.9 367.5 402.7 370.5 401.5 372.4 400.5 372.3 399.9 371.5 399.1 369.5 399.3 366.5ZM155.8 411.5 157.5 411.1 158.3 411.5 158.6 412.5 157.5 413.4 156.5 413.4 155.5 412.5ZM325.9 415.5 327.5 415 329.5 415.1 331 415.5 332.1 416.5 330.5 417.4 328.5 417.4 325.8 416.5ZM402.4 420.5 403.5 419.7 404.5 420.1 404.9 421.5 404.7 423.5 403.1 427.5 401.5 429.4 400.5 430.1 399.5 429.5 399.4 426.5 400.3 423.5ZM154.2 422.5 154.5 422.1 155.5 422 156.4 423.5 156.3 425.5 155.5 426.5 154.5 426.2 154.1 425.5 153.9 423.5ZM159.7 430.5 160.5 429.9 161.5 430.8 161.5 432.1 160.5 432.9 159.5 431.8ZM174.4 453.5 175.5 453.3 175.5 454.9 174.5 454.7ZM342.2 476.5 345.5 475.9 349.5 476 354.5 477.1 356 478.5 356.9 480.5 357 483.5 356.2 485.5 354.5 487 353.5 486.9 349.5 484 340.5 481.4 338.7 480.5 338 479.5 338.3 478.5 339.6 477.5ZM490.4 478.5 492.6 478.5 493 479.5 492.4 480.5 489.5 482.2 487.5 482.4 486.9 481.5 487.3 480.5ZM179 480.5 179.5 479.9 179.9 481.5 179.5 482.7 178.8 481.5ZM182.7 510.5 184.5 509.8 186.4 510.5 186.6 511.5 185.3 515.5 184.5 516.6 182.5 517.7 180.5 517.8 178.5 517.1 177.3 515.5 177.6 513.5 179.5 511.9ZM506.3 515.5 506.5 515.2 506.8 515.5 507 516.5 506.5 517.4 506 516.5ZM190.4 536.5 191.5 535.6 192.1 537.5 192.2 539.5 191.5 542.2 190.5 541.5 190.3 540.5ZM361.1 581.5 362.5 581 363.5 581.1 365 582.5 365 584.5 363.5 586.1 361.5 585.9 360.2 584.5 360.3 582.5ZM808.1 663.5 808.5 663.2 809.4 664.5 809.6 666.5 809.3 670.5 808.5 671.9 807.5 670.6 807.2 668.5 807.4 664.5ZM440.4 678.5 441.4 678.5 441.5 679.6 440.5 679.7ZM404.1 700.5 405.5 700.1 406.6 701.5 406.6 703.5 405.5 704.8 404.5 704.7 403.6 703.5 403.5 702.1ZM456.9 700.5 459.5 699.7 461.5 699.9 463.5 701.2 463.9 702.5 463.3 703.5 461.5 704.4 458.5 704.5 456.5 703.5 455.8 702.5 456 701.5Z"/>
<path fill="#f8e95c" fill-rule="evenodd" d="M312.7 190.5 313.5 190 314.3 190.5 314.1 192.5 313.3 194.5 310.5 198.8 307.5 201.5 306.5 200.9 306.4 200.5 307.2 197.5 309.5 193.8ZM187.9 210.5 188.7 210.5 189.4 211.5 189.3 212.5 188.5 213.4 187.5 213.1 187.1 212.5 187.1 211.5ZM428.8 272.5 429.5 272.1 429.6 272.5ZM170.3 279.5 170.5 279.1 171.5 279.5 171.8 281.5 171.5 283.6 170.5 283.8 170.1 282.5ZM400.4 365.5 401.5 365.4 402.6 367.5 402.5 369.9 401.5 371.7 400.5 371.6 399.5 369.5 399.5 367.3ZM156.4 412.5 157.5 412.1 157.6 412.5ZM327 415.5 329.5 415.4 331.1 416.5 329.5 417 327.5 416.8 326.7 416.5ZM403.1 420.5 403.5 420.2 404.5 421.2 404.2 424.5 402.5 427.9 400.5 429.6 399.6 428.5 399.8 425.5 401.2 422.5ZM154.8 423.5 155.6 423.5 155.5 425.2 154.5 424.7ZM160.3 430.5 160.7 430.5 161.2 431.5 160.5 432.5 159.9 431.5ZM342.9 476.5 345.5 476.1 349.5 476.2 354.5 477.5 356.3 479.5 356.8 481.5 356.7 483.5 355.9 485.5 354.5 486.6 353.5 486.5 349.5 483.6 339.1 480.5 338.4 479.5 338.7 478.5 340.5 477.3ZM490.1 479.5 491.5 479.5 491.1 480.5 490.5 480.9 489.5 481.5 488.3 481.5 488.4 480.5ZM179.4 481.5 179.5 481.2ZM183.4 510.5 185.5 510.3 186.1 511.5 184.5 516 183.5 516.9 181.5 517.6 179.5 517.3 178.5 516.7 177.7 515.5 178 513.5 179.5 512.2ZM191.4 536.5 191.9 538.5 191.5 541.2 190.5 540.1 190.4 538.5 190.5 537.3ZM361.8 581.5 363.5 581.4 364.6 582.5 364.6 584.5 363.5 585.7 362.5 585.9 361.5 585.5 360.6 584.5 360.4 583.5 360.6 582.5ZM808.5 664.5 809.1 666.5 808.5 670.4 807.7 667.5ZM457.4 700.5 459.5 700 461.5 700.2 463.4 701.5 463.5 702.5 462.9 703.5 461.5 704.2 458.5 704.2 456.9 703.5 456.2 702.5 456.3 701.5ZM404 701.5 404.5 700.6 405.5 700.5 406.2 701.5 406.4 702.5 405.5 704.3 404.5 704.2 404 703.5Z"/>
<path fill="#f8c04c" fill-rule="evenodd" d="M312 191.5 313.5 190.7 313.9 191.5 312.5 195.5 309.5 199.5 307.5 200.8 307 199.5 307.5 197.5 309.3 194.5ZM187.4 211.5 188.5 210.9 188.9 211.5 188.5 212.9 187.5 212.5ZM400.4 366.5 401.5 366.4 402 367.5 402.1 369.5 401.5 370.9 400.5 370.8 399.9 369.5 400 367.5ZM328.2 416.5 329.6 416.5ZM402.3 421.5 403.5 420.8 404.1 421.5 404 424.5 402.5 427.5 401.5 428.6 400.5 429 399.8 427.5 400.1 425.5 400.9 423.5ZM160.4 431.5 160.5 431.2 160.5 431.7ZM343.9 476.5 349.5 476.4 352.5 477 354.5 477.8 356 479.5 356.6 481.5 356.5 483.5 355.6 485.5 354.5 486.2 353.5 486.1 349.5 483.3 340.5 480.9 339.5 480.5 338.7 479.5 339 478.5 340.4 477.5ZM184.5 510.5 185.5 511.5 184.4 515.5 183.5 516.5 181.5 517.3 178.8 516.5 178.1 515.5 178 514.5 178.5 513.4 179.5 512.6ZM191.1 538.5 191.5 537.7 191.5 539.8ZM361 582.5 362.5 581.6 363.5 581.8 364.5 583.2 364.3 584.5 363.5 585.3 362.7 585.5 361.5 585.1 360.7 583.5ZM458 700.5 459.5 700.2 461.5 700.4 463 701.5 463.2 702.5 462.4 703.5 461.5 703.9 458.5 704 457.3 703.5 456.5 702.5 456.7 701.5ZM404.4 701.5 405.5 701.2 405.7 701.5 406 702.5 405.5 703.7 404.4 703.5Z"/>
<path fill="#f79a3c" fill-rule="evenodd" d="M311.3 192.5 312.5 191.5 313.3 192.5 312.5 194.9 309.5 199 308.5 199.9 307.5 199.8 307.5 198.5 308.3 196.5ZM400.3 368.5 400.5 367.5 401.5 367.5 401.5 369.8 400.5 369.7ZM403.1 421.5 403.5 421.4 403.9 422.5 403.5 425.2 401.5 428.2 400.5 428.4 400.2 426.5 400.7 424.5 401.5 422.8 402.5 421.7ZM345.7 476.5 351.5 477 354.9 478.5 355.7 479.5 356.3 481.5 356.2 483.5 355.5 485.1 354.5 485.8 353.5 485.8 349.5 483 340.5 480.7 339.1 479.5 339.4 478.5 340.8 477.5ZM184.5 511.5 184.3 514.5 183.9 515.5 182.9 516.5 180.5 516.9 179.4 516.5 178.5 515.5 178.4 514.5 179.5 513ZM361.4 582.5 362.5 582 363.8 582.5 364.2 583.5 363.5 584.9 362.5 585.2 361.4 584.5 361.1 583.5ZM458.8 700.5 461.5 700.7 462.6 701.5 462.8 702.5 461.9 703.5 460.5 704 457.8 703.5 456.8 702.5 457 701.5ZM405.1 702.5 405.5 702.5Z"/>
<path fill="#f46f2c" fill-rule="evenodd" d="M312.2 192.5 312.7 192.5 312.7 193.5 311.9 195.5 310.5 197.5 308.5 199.2 308.1 198.5 308.7 196.5 310.5 193.8ZM402.2 422.5 402.5 422.2 403.5 422.2 403.5 424.5 402.5 426.6 401.5 427.7 400.6 427.5 400.6 425.5ZM341.2 477.5 343.5 476.9 347.5 476.7 350.5 477 353.5 477.9 354.5 478.5 355.9 480.5 356.1 482.5 355.6 484.5 354.5 485.4 353.5 485.4 349.5 482.7 340.4 480.5 339.4 479.5 339.7 478.5ZM179.5 513.5 182.5 512.7 183.6 513.5 183.5 515.5 181.9 516.5 180.3 516.5 179 515.5 178.8 514.5ZM362.1 582.5 363.5 582.7 363.8 583.5 363.4 584.5 362.5 584.8 361.5 583.8ZM457.4 701.5 458.5 700.8 460.5 700.7 462.2 701.5 462.5 702.5 461.5 703.4 460.5 703.7 458.5 703.6 457.2 702.5Z"/>
<path fill="#eb5529" fill-rule="evenodd" d="M311.4 193.5 311.8 194.5 311.5 195.5 309.5 197.9 308.9 197.5 309.5 195.6ZM401.9 423.5 402.5 422.7 403.2 423.5 402.8 425.5 401.5 427.1 401 426.5 401 425.5ZM341.7 477.5 344.5 476.9 347.5 476.8 350.5 477.2 353.5 478.2 354.5 478.9 355.6 480.5 355.9 482.5 355.5 484 354.5 485 353.5 485 349.5 482.5 340.9 480.5 339.7 479.5 340 478.5ZM180.3 513.5 181.5 513.2 182.8 513.5 183.2 514.5 182.8 515.5 181.5 516.2 179.5 515.5 179.3 514.5ZM362.1 583.5 362.5 583 363.3 583.5 362.5 584.1ZM457.8 701.5 459.5 700.9 460.5 700.9 461.8 701.5 462.1 702.5 460.6 703.5 459.1 703.5 457.5 702.5Z"/>
<path fill="#e03d28" fill-rule="evenodd" d="M310.3 195.5 310.7 195.5 310.5 195.9ZM402.4 423.5 402.5 425.2 401.5 426.2 401.5 424.8ZM342.2 477.5 344.5 477 348.5 477.1 353.5 478.5 355.3 480.5 355.6 481.5 355.4 483.5 354.5 484.6 353.5 484.7 349.5 482.2 341.4 480.5 340 479.5 340.3 478.5ZM180 514.5 181.5 513.8 182.6 514.5 181.5 515.7 180.4 515.5ZM458.2 701.5 460.5 701.2 461.3 701.5 461.7 702.5 460.5 703.2 459.5 703.3 457.9 702.5Z"/>
<path fill="#d4202a" fill-rule="evenodd" d="M342.7 477.5 345.5 477.1 348.5 477.3 352.8 478.5 354.3 479.5 355 480.5 355.4 482.5 355 483.5 354.5 484.2 353.5 484.3 349.5 481.9 342.5 480.6 340.4 479.5 340.7 478.5ZM458.9 701.5 460.7 701.5 461.1 702.5 459.5 703 458.5 702.6Z"/>
<path fill="#bf1c26" fill-rule="evenodd" d="M343.4 477.5 348.7 477.5 353.5 479.2 354.5 480.2 355 481.5 354.6 483.5 353.5 483.9 349.5 481.6 342.7 480.5 340.7 479.5 341 478.5ZM459.2 702.5 459.5 702 460.5 702.5Z"/>
<path fill="#ab1a21" fill-rule="evenodd" d="M344.5 477.5 348.5 477.7 353.3 479.5 354.5 480.9 354.5 482.9 353.5 483.4 349.5 481.2 343.5 480.5 341.1 479.5 341.5 478.4Z"/>
<path fill="#8e151b" fill-rule="evenodd" d="M341.8 478.5 345.5 477.6 350.4 478.5 353.8 480.5 354.2 481.5 354 482.5 353.5 482.8 349.5 480.9 342.5 480 341.5 479.5Z"/>
</g>
<g clip-path="url(#mc)">
<path class="st" d="M188.1 215.1 200.3 218.4 212.4 221.7 224.6 224.8 236.8 227.7 249.1 230.6 261.4 233.2 273.7 235.8 286 238.2 298.4 240.5 310.8 242.7 323.2 244.7 335.6 246.6 348.1 248.3 360.5 249.9 373 251.4 385.5 252.7 398 253.9 410.6 255 423.1 255.9 435.7 256.7 448.2 257.3 460.8 257.8 473.4 258.2 485.9 258.4 498.5 258.5 511.1 258.5 523.7 258.3 536.2 258 M262.4 233.5 252 281.7 252.1 286 251.8 289.9 M225.3 283.9 234.1 286 243 287.9 251.8 289.9 M242.9 324.9 234.6 363.8 M136.9 339 149.6 342.6 162.3 346.2 175.1 349.6 187.9 352.9 200.7 356.1 213.6 359.1 226.5 362 239.4 364.8 252.3 367.4 265.3 369.9 278.3 372.3 291.3 374.5 304.3 376.6 317.4 378.6 M193.9 354.4 180.3 409.5 243.6 500.6 M275.9 371.9 259.1 464.9 256.5 479.8 M259.1 464.9 273.6 467.4 288.1 469.8 302.6 471.9 317.1 474 331.7 475.9 346.2 477.6 360.8 479.2 375.4 480.6 390.1 481.8 404.7 482.9 419.3 483.9 434 484.7 448.6 485.3 463.3 485.8 478 486.1 492.7 486.3 507.3 486.3 522 486.1 536.7 485.8 551.3 485.4 M317.4 378.6 314.7 397.3 314.7 397.3 327.4 399.1 340.2 400.7 352.9 402.3 365.7 403.6 378.5 404.9 391.3 406.1 404.1 407.1 416.9 408 429.7 408.7 442.5 409.4 441.7 428.3 441.7 428.3 455.6 428.8 469.5 429.2 483.5 429.5 497.4 429.6 511.4 429.5 525.3 429.4 539.2 429 M324.1 332.1 317.4 378.6 M325.6 322.3 324.1 332.1 M325.6 322.3 337.2 323.9 348.9 325.4 360.5 326.8 372.2 328.1 383.9 329.3 395.6 330.4 407.4 331.3 419.1 332.2 M424.2 256 414 407.8 M420.3 314.3 432.6 315.1 445 315.7 457.4 316.2 469.8 316.6 482.2 316.9 494.6 317 507 317 519.4 316.9 M416.5 370 429.3 370.8 442.1 371.5 454.9 372 467.8 372.4 480.6 372.7 493.4 372.8 M343 401.1 320.7 582.9 M441.7 428.3 439.1 484.9 M424.8 484.2 424.3 493.6 M423.7 493.6 435.2 494.2 446.8 494.7 458.3 495.1 469.9 495.4 M469.9 495.4 469.1 532.1 M423.7 493.6 418.6 578.8 M418.6 578.8 404.3 578 389.9 576.9 375.6 575.8 361.3 574.5 M195.9 538.8 234.3 542.8 232.1 546.9 288.1 578.6 288.1 578.6 303.5 580.7 318.9 582.7 334.3 584.5 335.3 576 335.3 576 348.8 577.5 362.3 578.8 M521.6 363.2 533.6 362.9 545.6 362.5 557.6 362 569.5 361.4 581.5 360.7 593.5 359.9 M532.3 418.2 543.9 417.9 555.5 417.5 567.1 416.9 578.7 416.3 590.3 415.5 592.2 416 595 419 M550 445.7 551.3 485.4 551.7 494.8 M551.7 494.8 565.3 494.2 578.8 493.5 592.4 492.7 606 491.7 619.5 490.6 M563.4 560.7 578.6 560 593.8 559.1 609 558 M562.9 550.3 564.2 579.7 M619.7 519.1 633.6 517.9 647.5 516.5 661.4 514.9 675.2 513.3 689.1 511.5 702.9 509.6 716.7 507.5 730.5 505.3 M630.1 489.7 640.7 488.6 651.3 487.5 650.7 484.7 650.7 485.1 664 483.6 677.2 481.9 690.4 480.2 703.6 478.3 716.8 476.2 716.9 476.8 726.9 475.2 736.9 473.5 746.8 471.7 M652.1 516 653.8 561.6 654.1 575 658.5 606.2 M692.1 511.1 704.3 550.2 M670 590.5 684.1 588.8 698.2 587 712.2 585 M602.9 378.2 616.1 377 629.3 375.7 642.4 374.3 M647.8 387.8 653 433.1 M685.8 384 692.9 432.6 M652.4 387.3 663.5 385.9 674.6 384.4 685.7 382.9 685.8 384 685.8 383.6 695.4 382.2 704.9 380.7 M744.7 368.6 752.9 410.6 M752.9 410.6 766.4 407.9 779.8 405 793.2 402 806.6 398.9 820 395.7 M754.1 361.1 755.1 366.1 755.1 366.1 767.3 363.6 779.4 361 791.5 358.2 803.5 355.3 815.6 352.3 M810 295 820.4 292.2 830.8 289.4 841.1 286.4 851.4 283.4"/>
<path class="ln" d="M145.7 186.9 149.6 191.2 148 194.4 152.7 196.7 154.3 200.6 157.4 202.2 158.2 206.9 162.9 208.4 161.3 211.6 166 215.5 171.5 219.4 176.2 223.3 178.5 225.3 180.4 223.3 179.3 218.6 180.8 214.7 178.5 210.8 176.2 206.9 172.2 203.8 169.9 199.8 170.7 194.4 168.3 189.7 167.6 186.9 M162.9 208.4 165.7 206.9 167.6 205 M173.8 186.9 176.2 192.8 178.5 197.5 180.8 195.9 183.2 194.4 184.8 190.5 185.5 193.6 181.6 199.1 184.8 202.2 189.4 201.4 187.1 205.3 188.7 208.4 191 212.3 192.6 216.2 193.3 220.9 192.6 225.6 191.8 230.3 193.3 235 191 239.7 189.4 244.4 188.7 249.1 187.1 251.4 M178.5 200.6 180.8 205.3 179.3 210 182.4 213.1 180.8 217.8 184.8 220.2 M164.4 220.9 169.1 223.3 175.4 225.9 181.6 228.8 185.5 231.1 187.1 235 184.8 238.9 M164.4 220.9 163.3 227.2 164.8 231.9 165.2 239.7 164.8 247.5 163.7 249.8 167.6 251.4 164.8 252.2 165.7 254.5 162.9 258.4 161.6 262.8 164.4 261.9 M161.6 262.8 159 272.5 155.1 285 149.6 299.1 147.2 305 M189.4 218.6 187.1 221.7 190.2 224.1 187.9 227.2 191 229.5 188.7 231.9 191.8 234.2 189.1 236.6 192.2 238.9 188.2 241.2 190.7 243.6 186.3 245.9 188.7 247.5 M175.4 200.6 177.7 205.3 176.2 208.4 180.1 211.6 178.5 215.5 182.4 217 180.8 220.2 184.8 221.7 183.2 224.8 186.3 225.9 M472.7 186.9 475.1 191.2 474.3 200.6 477.4 206.9 481.3 208.4 482.9 204.5 488.3 206.1 490.7 211.6 493 214.7 492.2 218.6 496.2 223.3 499.3 227.2 501.6 231.9 498.5 235 494.6 235.3 492.6 230.3 490.7 222.5 488.3 217.8 487.6 211.6 484.4 209.2 480.5 210 476.6 205.3 475.8 197.5 477.4 191.2 476.6 186.9 M490.7 186.9 494.6 191.2 498.5 195.9 500.8 202.2 504 203 503.2 199.1 506.3 198.3 508.7 202.2 508.2 208.4 510.2 210.8 513.3 206.9 515.7 205.3 518.8 210 521.2 215.5 520.4 222.5 521.2 227.2 517.2 228 516.9 231.6 514.1 231.6 512.6 225.6 513.3 218.6 515.7 215.5 516.5 210.8 514.1 208.4 512.6 212.3 509.4 210.8 510.7 203.8 513.3 199.8 511.8 192.8 509.4 186.9 M534.1 258.1 536 253.8 534.8 249.8 536 245.9 538.3 246.7 539.1 244.1 541.5 245.2 543.8 242.5 546.2 245.2 548.5 244.4 549.3 248.3 551.3 250.6 549.8 252.5 550.8 254.5 547.7 255.3 545.4 258.1 543.8 255.6 542.2 258.4 540.4 257.2 537.6 260.3 534.8 259.7 534.1 258.1 M542.6 260 545.4 263.1 553.2 264.7 557.1 266.2 559.4 263.1 557.9 259.2 561 261.6 565.7 264.7 569.6 265.5 570.4 267.8 573.5 270.9 576.6 268.6 582.9 273.3 589.9 270.9 592.2 270.2 596 271.7 M557.9 258.4 561 263.1 565.7 267 569.6 266.2 566.5 263.1 561.8 260.8 557.9 258.4 M596 280.3 589.9 285 582.9 292.8 577.4 299.8 575.1 305 M577.4 300.9 584.4 298.3 592.2 295.2 596 294.4 M707.7 186.9 711.6 191.2 710.1 194.1 719.4 194.7 721 190.5 722.6 186.9 M728 186.9 730.1 191.2 730.7 186.9 M614 229.5 617.9 227.2 621.8 229.5 623.8 235 623.3 242.8 619.4 245.2 616.3 242 612.4 243.6 610.8 238.1 612.4 233.4 614 229.5 M596 270.9 602.2 271.4 607.7 272.5 611.6 267.8 612.4 263.9 616.3 261.6 621 256.1 624.9 252.2 631.9 253.8 638.2 254.5 646 253.4 649.9 258.4 653 264.7 656.9 268.6 663.2 267 668.2 266.2 667.9 272.5 672.6 277.2 672.6 283.4 676.5 286.6 675.7 292.8 M596 279.5 602.2 277.2 607.7 272.8 M613.2 274.8 617.1 271.7 621.8 268.6 621 270.6 616.3 274.1 613.2 274.8 M655.4 271.7 657.7 270.6 659.3 271.7 656.9 272.8 655.4 271.7 M616.3 261.6 619.4 260 622.6 255.3 626.5 253 628.8 254.5 624.1 256.9 621 260.8 617.9 263.1 614.8 265.5 M596 299.8 602.2 299.8 610.1 294.4 616.3 291.2 621 286.6 624.9 282.7 629.6 280.3 633.5 281.9 629.6 285 626.5 288.9 624.9 293.6 627.2 292.8 631.9 291.2 636.6 294.4 641.3 297.5 647.6 296.7 649.9 297.5 655.4 293.6 663.2 291.2 669.4 289.4 670.2 293.6 675.7 292.8 M596 292.8 598.3 294.4 596.8 296.7 M645.2 312.3 646.8 309.2 649.9 310.8 651.5 308.4 653.8 310 650.7 314.7 647.6 318.6 644.4 324.1 642.1 328.8 639 333.4 635.8 336.6 635.1 333.4 637.4 328.8 640.5 324.1 M635.8 336.6 641.3 330.3 645.2 324.1 648.3 318.6 649.1 318.6 646 325.6 642.9 333.4 641.3 341.2 640.5 350.6 639.4 358.4 640.5 366.2 642.1 374.1 644.4 380.3 647.6 385.8 649.9 389.4 653.8 389.4 657.7 386.6 661.6 380.3 664 372.5 664.4 364.7 662.4 358.4 659.3 352.2 657.7 345.9 656.9 339.7 658.5 331.9 660.1 325.6 663.2 321.7 665.5 318.6 666.3 324.1 667.9 327.2 669.1 323.3 668.7 319.4 671 316.2 673.3 313.9 671.8 310.8 674.1 308.4 678 306.9 M650.7 310 654.6 306.9 660.1 304.5 664.8 303 671 302.2 675.7 303.8 678 306.1 M664.8 310 666 309.2 666.3 311.6 665.1 312.3 664.8 310 M660.1 321.7 661.6 322.5 660.8 324.1 M678 306.9 683.5 308.4 689.8 311.6 694.4 314.7 697.2 318.6 698.3 324.1 698.3 330.3 696 335 692.9 338.9 692.6 345.2 696 345.9 699.1 342 702.2 337.3 705.4 335.8 708.5 337.3 711.6 342.8 714 349.1 715.5 353.8 M676.5 292.8 681.2 295.9 685.1 295.2 696 295.6 705.4 295.3 714.8 295.6 728 295.6 732.7 299.8 737.4 304.5 742.1 310.8 745.2 313.9 742.1 315.5 742.9 310 739.8 313.1 742.9 320.2 737.4 318.6 733.5 316.2 729.6 320.6 728.8 315.5 725.7 313.9 722.6 310 717.9 310.8 M681.9 299.1 686.6 300.6 692.9 300.3 699.1 301.4 705.4 299.8 711.6 299.1 715.5 300.6 716.3 305.3 711.6 304.5 705.4 303.4 697.6 302.2 689.8 302.2 685.1 301.4 681.9 299.1 M677.2 293.6 680.4 297.5 683.5 299.1 685.8 298.3 683.5 296.7 M675.7 285 676.5 288.1 674.9 292.8 670.2 292.8 669.4 289.4 M717.9 310.8 720.2 311.6 723.3 313.9 725.4 318.6 723.3 324.1 722.2 331.9 724.1 340.5 722.9 346.7 719.4 350.6 715.5 353.8 M715.5 353.8 715.5 360 712.4 361.6 710.8 364.7 712.4 367.8 716.3 367 717.6 364.7 714.8 362.3 715.5 360 M710.8 367.8 708.5 372.5 706.2 377.2 704.3 380.6 M706.2 377.2 709.3 374.1 717.1 372.5 721 369.4 725.7 366.2 729.6 361.6 733.5 358.4 741.3 357.2 748.3 356.9 744.4 355.3 747.6 353 752.2 350.6 756 349.4 M704.3 380.6 708.5 381.9 712.4 383.1 716.3 384.7 721 383.4 727.2 381.1 733.5 378 739.8 374.1 746 369.4 752.2 363.9 756 360.8 M756 333.4 752.2 336.6 749.9 341.2 752.2 343.6 756 342.8 M877.9 186.9 872.4 190.5 867.7 194.4 864.6 200.6 860.7 206.9 859.1 213.9 856 219.4 852.9 218.1 856 219.7 855.2 227.2 852.1 235 849 242.8 845.1 248.3 M890.4 186.9 884.1 192.8 877.9 199.8 871.6 207.7 866.2 215.5 862.2 222.5 859.1 230.3 856 237.3 851.3 244.4 847.4 247.5 845.1 248.3 M919.5 186.9 918.7 191.2 915.6 194.4 912.4 200.6 908.5 203 901.5 203 897.6 206.1 892.9 209.2 897.6 207.7 903.1 206.9 907.8 206.1 910.1 210.8 915.6 206.1 919.5 204.5 M919.5 199.8 920.6 204.5 918.7 210 919 214.7 917.1 218.6 921.8 218.6 924.2 223.3 928.1 226.4 931.2 229.5 935.9 231.1 942.1 230.3 940.6 232.7 945.2 233.4 951.5 232.7 957.8 231.6 964 229.5 967.1 225.9 969.5 228.8 973.4 225.6 976.5 228 980.4 225.6 M931.5 215.5 933.5 214.4 935.1 217.8 939 220.2 945.2 218.6 951.5 217 957.8 214.7 961.7 214.4 960.1 218.6 957.8 222.5 958.5 226.4 953.8 225.9 949.9 224.1 945.2 225.9 939 225.3 934.3 223.3 931.2 223.3 930.4 218.6 931.5 215.5 M973.4 197.5 977.3 197.2 979.6 199.8 980.4 208.4 981.2 216.2 984.3 214.7 985.9 220.9 981.2 225.9 976.5 224.1 973.4 221.7 971 217.8 971.5 208.4 972.6 200.6 973.4 197.5 M980.4 225.6 982 230.3 978.1 231.9 973.4 236.6 967.1 244.4 960.9 250.6 954.6 256.9 949.2 258.4 948.4 263.1 945.2 269.4 942.9 277.2 939 283.4 935.9 285 931.2 281.9 926.5 278.8 924.2 274.1 925.7 267.8 928.1 261.6 932.8 253.8 937.4 249.1 942.1 245.2 948.4 242.8 951.5 241.2 943.7 245.2 944.5 249.8 940.6 246.7 934.3 248.3 932.8 245.2 935.1 239.7 936.7 237.3 933.5 238.1 931.2 242.8 926.5 249.1 921.8 253.8 915.6 259.2 910.9 261.6 907.8 263.1 903.1 262.3 M922.6 275.6 924.9 267.8 928.1 262.3 M903.1 262.3 907.8 261.6 910.9 264.7 909.3 269.4 914 268.6 910.9 272.5 906.2 274.8 903.1 278.8 898.4 280.3 894.5 285 890.6 283.4 889 289.7 884.3 292.8 881.2 296.7 877.3 299.8 874.9 305 M148 305 144.1 311.2 139.4 317.5 136.3 323.8 136 330 134.8 336.2 136.3 340.2 135.1 347.2 132.4 355 128.5 361.2 125.4 367.5 126.2 373.8 129.3 380 128.5 387.8 126.9 395.6 130.1 401.9 132.4 408.1 134 413.6 132.4 415.9 136.3 419.8 139.4 423 M179.3 405.8 181.6 405 181.3 408.9 179.3 410.9 178.2 408.9 179.3 405.8 M130.1 405 133.2 409.7 134 414.4 132.4 416.2 136.3 419.1 139.4 423 137.1 428.4 137.1 433.1 139.4 436.2 143.3 440.2 143.3 444.1 139.4 446.4 139.4 451.9 142.6 456.6 144.9 462.8 148 469.1 149.6 475.3 152.7 478.4 151.9 483.1 150.4 488.6 152.7 490.9 158.2 493.3 164.4 495.6 168.3 498.8 170.7 502.7 174.6 505 179.3 507.3 180.8 511.2 184.8 512.8 187.9 516.7 191 520.6 193.8 525 M288 381.4 291.2 380.3 292.7 383.8 294.3 386.9 296.9 386.1 298.2 390 300.5 393.9 301.6 396.2 299 397.8 297.4 400.2 294.8 400.2 292.7 397 291.2 393.1 289.6 389.2 288 386.1 288 381.4 M646.3 385 648.7 388.9 652.6 389.7 657.2 387.3 661.2 385 M756 331.9 760.7 328 766.9 324.8 774.8 322.5 784.1 322.5 787.2 318.6 791.2 314.7 795.1 312.3 798.2 308.4 795.8 313.9 792.7 316.2 796.6 318.6 797.4 324.8 793.5 329.5 788.8 332.7 784.1 335 779.4 336.6 773.2 335.8 766.9 338.1 760.7 341.2 756 344.4 M756 349.1 763 347.5 763.8 349.1 760.7 354.5 756.8 360 756 360.8 M823.2 397.5 824.8 401.4 829.4 403 835.7 402.2 838 405 M838.8 375.6 843.5 377.2 845.8 381.9 845.1 388.1 842.7 394.4 840.4 400.6 838 405 M838.8 365.5 838 370.9 838.8 376.4 840.4 372.5 841.2 368.6 839.6 365.5 M839.6 374.4 845.1 372.5 851.3 369.4 857.6 365.5 863.8 361.2 868.8 356.6 865.4 357.7 863.8 356.1 861.5 358.4 856 361.2 849.8 363.9 844.3 367 841.2 369.4 839.6 371.7 839.6 374.4 M861.5 358.4 865.4 358.8 867.7 357.2 M841.2 368.6 846.6 364.7 852.9 360 859.1 355.3 865.4 352.2 870.8 349.1 M872.4 319.7 876.3 322.5 873.2 327.2 872.4 330.3 876.3 331.9 879.4 335 881 338.9 885.7 339.7 889.6 337.3 890.4 334.2 888 331.6 884.9 331.1 888.8 331.9 890.7 335 890.1 338.9 885.7 340.9 881 342 879.4 345.2 876.3 346.7 874.8 344.4 873.2 346.7 870.8 349.1 M881 345.2 884.1 344.4 884.9 346.7 881.8 347.2 881 345.2 M889.6 344.1 892.7 343.6 891.9 345.6 890.1 345.6 889.6 344.1 M872.4 319.7 873.2 313.1 874.8 306.9 875.5 301.4 879.4 299.8 881 296.7 885.7 294.4 887.2 290.5 890.4 288.9 891.9 285.8 896.6 285 M831.3 385 828.2 389.7 825.1 393.6 824.3 396.7 826.6 399.8 831.3 402.2 836 406.1 837.6 402.2 839.1 399.1 842.2 394.4 843.8 389.7 843.5 385 M821.2 393.6 823.5 399.1 826.6 403.8 829.8 407.7 832.9 410 836 413.9 836.8 418.6 835.2 424.1 832.9 428.8 831.3 433.4 830.5 438.9 829.8 443.6 829 442.8 829.4 436.6 829.8 430.3 832.1 425.6 833.7 420.9 M831.6 452.2 836 458.4 839.9 464.7 843.8 470.2 845.1 475.6 842.2 480.3 837.6 485 833.7 488.9 829.8 492.8 823.5 496.7 818.8 500.6 815.7 505 M817.2 400.6 814.1 405.3 816.5 408.4 813.3 411.6 815.7 415.5 812.6 418.6 814.9 421.7 811.8 424.8 817.2 426.4 814.1 429.5 818.8 431.9 814.9 435 821.2 436.6 817.2 439.7 821.9 442 818.8 445.2 825.1 446.7 M833.5 485 828.8 489.7 824.1 492.8 819.4 496.7 816.3 502.2 814 506.9 813.2 510.8 808.5 511.9 803.8 513.9 800.7 518.6 797.6 524.1 796 528.8 792.9 531.9 789.8 536.6 786.6 539.7 782.7 543.6 778.8 546.7 776.5 550.6 774.1 555.3 772.6 560 771 566.2 769.4 572.5 770.2 578.8 771.8 585 774.1 591.2 777.2 597.5 781.2 605 M771.6 585 775.1 592 778.6 599.1 783 607.9 787.4 615.8 791.8 622.8 795.3 628.9 799.7 636 804.1 643 807.6 649.2 809.4 655.3 810.3 662.3 811.1 669.4 810.3 676.4 808.5 683.4 805 688.7 799.7 693.1 794.4 695.7 787.4 698.9 M787.4 615.8 790.9 617.5 793.6 621.9 792.7 625.4 790 620.2 787.4 615.8 M808.5 683.4 801.5 685.2 796.2 686.1 793.6 680.8 790 675.5 785.6 672.9 781.3 672 777.7 666.7 775.1 662.3 771.6 657.9 766.3 651.8 761.9 646.5 759.3 643 757.5 636 758.4 628.9 757.5 620.2 754.9 616.6 750.5 614 746.1 611.4 742.6 607 738.2 602.6 731.2 599.9 725.9 601.7 723.2 604.3 720.6 608.7 715.3 611.4 710.1 610.5 706.5 606.1 703 602.6 698.6 601.2 696 601.2 M759.3 636.9 762.8 636 764.6 639.5 762.8 643.9 760.2 641.2 759.3 636.9 M771.6 654.4 774.2 657.1 775.1 662.3 772.5 660.6 771.6 654.4 M791.8 645.6 796.2 645.6 798.3 649.2 797.1 654.4 793.6 655.3 790.6 651.8 791.8 645.6 M826.5 649.4 832.9 650.4 838.3 646.1 844.7 644 848 640.8 853.3 639.7 858.7 641.9 861.9 644 860.9 650.4 857.6 653.7 860.2 658 M846.9 673 850.1 677.3 853.3 682.7 857.6 687 861.9 692.3 863.6 697.7 861.9 702 858.7 699.9 855.5 694.5 851.2 690.2 846.9 688 843.7 685.9 846.9 680.5 846.9 673 M867.3 667.6 868.4 663.3 871.6 662.3 877 664.8 881.3 667.6 882.3 673 880.2 675.2 883.4 676.2 M871.6 677.3 874.8 683.7 881.3 689.1 887.7 694.5 894.2 697.7 900.6 696.6 M890.9 674.1 895.2 677.3 899.5 681.6 897.4 683.3 M902.7 692.3 907 697.7 911.3 702 914.6 705.2 M914.6 679.4 916.1 680.5 915.6 682.7 914.3 682 914.6 679.4 M924.2 703.1 930.7 702.6 933.9 704.2 931.7 708.4 928.5 713.8 929.6 709.5 926.4 707.4 924.2 703.1 M964 714.9 967.2 709.5 972.6 708.4 977.9 709.5 981.2 711.7 980.1 714.9 M849 661.2 852.3 665.5 851.2 668.7 M858.7 675.2 864.1 672.6 M931.7 695.6 934.5 695.1 M536 644.8 541.3 640.8 546.5 636.4 550.1 632.9 553.6 629.4 551.8 625 554.5 624.1 555.3 626.7 560.6 625 565.9 623.2 569.4 619.7 573.8 621.5 578.2 620.6 583.5 622.3 588.7 624.1 594 625 597.5 622.3 602.8 620.6 606.3 623.2 609.8 625 613.3 628.5 616.9 631.1 620.4 632.9 623.9 631.1 627.4 628.5 631.8 627.6 634.4 624.1 638 625.9 641.5 627.6 645.9 632 650.3 629.4 648.5 625.9 643.2 625 639.7 622.3 638 618.8 641.5 615.3 645 611.8 641.5 610 645 606.5 650.3 605.6 657.3 606.5 662.6 605.6 663.4 597.7 666.1 598.6 667 604.8 674.9 602.1 678.4 598.6 681.9 599.5 687.2 599.5 692.4 598.6 699.5 600.4 704.7 603.9 710 609.2 716 611.4 M623 609.2 627.4 606.9 632.7 608.3 635.3 610.9 631.8 613.6 626.5 613.2 623 610.9 623 609.2 M650.6 611.4 652 614.4 651.1 617.9 M568.5 619.7 569.7 621.5 568.5 623.2 M586.1 617.9 588.7 618.8 587.9 620.6 586.1 619.7 586.1 617.9 M590.5 620.6 593.1 620.9 592.6 622.7 590.5 622.3 590.5 620.6 M597.5 621.5 601 619.7 603.7 622.3 601.9 625 598.4 624.1 597.5 621.5 M556 621.2 551.8 624.8 550 629.2 553.5 625.6 554.4 630 549.1 633.6 544.7 637.1 539.5 640.6 534.2 644.1 530.7 643.2 528.9 646.7 525.4 645.9 523.7 650.3 520.1 649.4 518.4 653.8 514.9 654.6 513.1 659 509.6 660.8 511.3 664.3 507.8 666.1 509.6 670.5 505.2 671.3 509.6 673.1 508.7 677.5 511.3 681 514 688 515.7 695.1 514.9 702.1 512.2 709.1 509.6 715.3 M508.7 677.5 509.9 684.5 512.8 691.6 514.9 696.8 513.1 705.6 510.5 712.7 M506.1 715.3 505.2 710.9 507.8 708.3 511.3 707.4 M178.3 505 186.5 514.4 191.2 521.4 194.7 530.8 195.8 540.2 198.2 551.9 201.7 563.6 205.2 575.3 206.4 584.7 209.9 596.4 216.9 605.8 224 615.1 228.7 622.2 229.8 626.9 226.3 632.7 222.8 635.1 212.2 635.1 218.1 640.9 224 648 231 657.3 236.9 659.7 239.2 657.3 241.5 664.4 247.4 670.2 252.1 678.4 254.4 686.6 253.3 694.8 249.7 699.5 252.1 706.5 259.1 711.2 266.1 714.7 M228.7 558.9 226.3 568.3 227.5 580 228.7 591.7 233.3 601.1 239.2 610.5 242.7 617.5 246.2 622.2 249.7 629.2 250.9 638.6 254.4 645.6 259.1 655 261.5 660.8 266.1 666.7 269.7 676.1 272 687.8 274.4 699.5 275.5 708.9 277.9 714.7 M228.7 558.9 234.5 563.6 240.4 567.1 246.2 571.8 253.3 575.3 254.4 584.7 256.8 596.4 259.1 605.8 262.6 615.1 263.8 622.2 268.5 629.2 274.4 637.4 280.2 643.3 286.1 645.6 287.2 655 293.1 662 299 667.9 304.8 673.7 307.2 679.6 302.5 685.5 303.6 691.3 310.7 696 317.7 703 322.4 708.9 324.7 714.7 M257.9 616.3 262.6 614.7 263.8 619.8 260.3 624.5 256.8 622.2 257.9 616.3 M240.8 606.9 243.9 605.8 246.2 611.6 246.9 617.5 243.9 615.1 241.5 610.5 240.8 606.9 M207.6 624.5 210.4 623.4 211.1 628 208 629.2 207.6 624.5 M161.2 597.6 163 597.6 163 602.3 161.2 602.3 161.2 597.6 M224 632.7 227.5 633.9 229.1 639.8 225.8 639.8 224 636.2"/>
<path class="lb" d="M187.1 216.2 184.8 222.5 188.7 225.6 186.3 230.3 191 231.9 189.4 236.6 192.6 238.1 187.1 239.7 189.4 242 183.2 242.8 185.5 245.2 179.3 245.2 183.2 247.5 180.1 249.8 184.8 249.8 188.7 248.3 M537.2 248.3 539.1 251.4 537.9 253.8 540.4 254.5 541.5 250.6 543.8 252.2 543 255 546.2 253.8 547.2 250.6 545.4 248.3 543.8 246.7 541.5 247.8 539.9 247.5 M712.4 382.7 714.8 381.9 715.5 384.2 713.2 384.7 712.4 382.7 M829.4 289.4 827.9 294.4 830.2 300.6 831 305 832.2 305 832.6 297.5 830.7 289.4 M919.5 199.8 920.2 204.5 M980.4 208.4 982.8 210 981.2 213.1 983.5 215.5 980.9 217.8 984.3 220.2 982 223.3 M957.8 191.2 956.2 195.9 955.4 200.6 957.4 199.8 957.8 195.9 959.3 192 M909.3 263.1 910.9 266.2 908.5 268.6 911.7 270.2 907.8 272.5 905.4 276.4 902.3 277.2 899.9 281.1 896 281.9 892.9 286.6 889.8 286.6 887.4 291.2 883.5 294.4 879.6 298.3 M136.3 419.1 139.4 416.7 142.6 417.5 141 420.6 138.7 422.2 141 425.3 142.6 429.2 144.1 430 M150.4 499.2 153.5 500.3 155.8 502.7 158.2 501.9 160.5 502.7 164.4 503.1 M160.5 516.7 162.1 517.5 M261.3 487.8 259 482.3 256.6 479.2 254.3 483.1 252.7 478.4 251.9 473 250.7 480 247.2 480 244.4 481.2 M514.1 547 516.5 543.9 518.8 546.2 521.2 542.3 521.9 545.5 M784.1 321.7 787.2 317.8 791.2 313.9 795.1 311.6 797.9 308.4 M827.9 289.7 830.2 294.4 831 300.6 832.6 305.3 M870.8 341.2 872.4 345.2 874.8 345.9 873.2 342.8 870.8 341.2 M819.6 399.1 814.9 403 812.6 406.9 814.1 410 811 413.1 807.1 414.7 804.8 418.6 804 423.3 805.5 426.4 810.2 424.1 814.1 426.4 817.2 422.5 815.7 428.8 812.6 431.9 811 435 816.5 431.9 820.4 435 823.5 431.9 821.2 438.1 817.2 441.2 814.1 445.2 818.8 443.6 822.7 445.2 825.8 441.2 823.5 447.5 821.2 449.1 826.6 449.1 829.8 450.6 831.6 452.2 M821.9 461.6 826.6 463.1 832.9 462.3 837.6 464.7 836 467.8 829.8 466.2 825.1 467.8 823.5 464.7 M821.2 478.8 825.8 477.2 829.8 474.8 828.2 480.3 823.5 482.7 828.2 485 832.9 485 834.4 487.3 829.8 488.9 825.1 487.3 821.2 485 M818.8 494.4 823.5 492.8 828.2 492 831.3 491.2 M831.6 452.2 833.7 458.4 836 463.1 838.3 467.8 839.9 472.5 839.1 478.8 836 483.4 M744.4 528 747.6 525.9 749.1 528 746 528.8 M775.7 546.7 778 545.2 779.6 547.5 777.2 549.1 M796 524.8 797.6 526.4 796 528.8 M713.2 587.3 715.5 589.4 716.3 587.3 M787.4 698.9 791.8 695.7 795.3 695.4 790.9 698.4 786.5 699.6 M856.6 642.9 859.8 645.1 858.7 649.4 M854.4 688 858.7 692.3 861.9 697.7 860.9 700.9 857.6 695.6 M946.8 705.2 954.3 705.2 M825 667.6 826.3 668.7 M638 612.7 641.5 610.9 644.1 613.6 641.5 617.1 643.2 611.8 M174.3 524.9 176.6 527.3 177.1 529.6 M261 662 263.3 664.4 264.3 667.9 261.9 666.7 M249.7 699.5 253.3 703 256.8 706.5 259.1 710.1"/>
<path class="st" d="M161.6 262.8 166 264.7 170.7 265.9 174.6 269.4 176.2 274.8 176.6 278.8 178.8 280.8 184.8 280 190.7 280.6 194.1 283.4 200.4 283.8 205.4 285.3 209.8 283.9 217.6 283.8 225.4 285 M250.7 289.4 253.5 292.8 255.5 297.5 252.7 305 M273.8 236.6 272.7 247.5 270.7 253.8 272.7 258.4 272.2 266.2 276 270.2 M276 269.8 279.1 276.1 283 283.1 287.7 284.7 285.4 290.9 283 297.2 280.7 301.9 282.2 305 286.9 305.8 289.3 303.4 291.6 309.7 293.2 317.5 297.1 322.2 298.7 329.2 304.1 328.4 308.8 329.2 313.5 328.4 318.2 330 320.5 326.9 322.9 331.6 324.8 328.4 M510.5 258.1 511.5 266.2 511.8 274.1 512.9 280.3 514.9 285 516 292.8 515.7 300.6 516 305 M596 299.8 600.7 301.4 605.4 304.5 614.8 306.9 624.1 310 631.9 312.3 635.1 315.5 637.4 321.7 640.5 324.1 642.9 318.6 645.2 312.3 M596 371.7 600.7 375.6 605.4 379.5 609.3 385 610.1 389.7 607.7 394.4 602.2 396.7 598.3 400.6 599.1 405 M856 277.2 858.3 274.1 860.7 269.4 862.2 263.1 861 256.9 861.5 250.6 863.8 242.8 865.4 233.4 867.2 229.5 870.8 232.7 874.8 231.1 878.7 227.2 885.7 229.5 888.8 235 893.5 247.5 896.6 253.8 899.8 256.9 902.9 261.6 906 263.1 M856 277.2 859.1 286.6 863.8 300.6 865.4 305 M851.6 278.8 853.7 285 852.9 291.2 849.8 295.9 849 300.6 849.8 305 M856 277.2 851.6 278.8 851.6 283.1 831 289.4 807.6 295.2 802.9 299.8 800.5 305 M251.9 305 247.2 311.2 241 317.5 241 320.6 244.4 323.8 M245.4 481.2 245.7 489.4 244.1 495.6 243.3 498.8 244.9 505 247.2 511.2 248.8 515.9 244.9 519.1 241.8 522.2 240.7 525 M516 305 518 309.7 519.6 314.4 519.3 318.3 515.7 323 518 326.1 521.2 329.2 521.6 362.8 M519.6 363.6 521.2 367.5 521.6 372.2 519.6 378.4 521.2 381.6 M493 373 496.2 375.3 500.1 377.3 503.2 376.1 509.4 375.6 514.1 377.7 518.8 380.8 521.2 382.3 523.5 387.8 526.6 394.1 528.2 400.3 530.5 406.6 531.3 414.4 533.7 418.3 536 425 M575.5 305 575.4 312 570.4 315.2 568.5 320.6 570.7 324.5 570.7 330.8 571.2 337 575.8 341.7 581.3 344.1 586 348.8 591.5 351.9 593 356.6 593.8 360.5 596 363.6 M522.4 385 527.3 394.8 530.3 404.5 532.2 414.3 535.1 422.1 539 428 544.9 431.9 543 436.8 546.9 441.6 550.4 445.2 M469.1 532.2 473.5 535.3 477.4 534.5 481.3 538.4 487.6 540 493.8 541.6 498.5 540.8 501.6 545.5 505.5 543.9 509.4 546.2 514.1 547 517.2 544.7 521.2 543.1 525.8 547.8 531.3 546.2 537.6 544.7 543.8 543.9 548.5 546.2 553.2 548.6 557.1 550.2 562.6 550.2 M551.9 494.7 556.3 515 555.5 550.2 M562.6 550.2 564.1 560 564.4 579.8 568.8 585 M610.4 385 609.6 391.2 606.5 395.9 599.4 399.1 598.7 403 601 406.1 599.4 412.3 595.5 415.5 594.8 419.4 594.4 425.6 597.1 431.1 601.8 435.8 605.7 438.9 608 444.4 611.2 445.2 615.8 446.7 615.1 452.2 613.5 456.9 617.4 461.6 622.1 464.7 626 467.8 628.3 474.1 630.7 478.8 634.1 480 M634.1 480 635.4 476.4 639.3 474.8 643.2 477.2 644.8 471.7 648.7 468.6 647.1 464.7 649.4 460 651.8 462.3 655.7 460 660.4 460.8 663.5 461.6 666.6 457.7 669.8 459.2 673.7 453.8 677.6 456.1 682.2 452.2 684.6 446.7 686.9 441.2 690.8 439.7 694 436.6 692.9 432.7 697.9 431.9 701 436.6 705.7 436.6 710.4 438.9 715.1 437.3 718.2 438.9 722.9 435.8 726.8 439.7 730.7 439.7 732.2 435 733 429.5 736 428 M652.6 431.9 653.3 438.1 654.1 444.4 652.6 450.6 649.4 455.3 648.7 460 649.4 460 M619 491.2 621.3 494.4 617.4 500.3 626.8 499.8 M634.1 480 634.6 486.6 630.7 488.9 629.1 494.4 627.6 500.6 626.8 505 M726.8 439.7 729.1 445.9 733 450.6 736 453.8 M736 460 730.7 464.7 726 472.5 716.6 476.4 M622.5 515.9 618.6 521.8 614.7 527.7 610.8 535.5 607.9 545.2 609.8 553 608.8 558.9 611.8 566.7 613.7 572.6 610.8 580 M760 453.4 753.4 457.3 747.5 459.3 741.6 459.3 738.7 455.4 732.9 449.5 728 441.7 732.9 437.8 731.9 430 M738.7 455.4 731.9 463.2 726 471 718.2 476.5 M747.5 472 747.1 476.9 739.7 482.7 731.9 487.6 726 494.5 716.2 501.3 712.3 505.2 712 508.1 M760 497.4 745.5 500.3 731.9 505.2 728 510.1 731.9 514 737.7 515.9 743.6 523.8 749.5 527.7 755.3 533.5 760 537.4 M707.9 555 709.4 562.8 710.4 570.6 709.4 580 M798.2 308.4 801.3 302.2 804.4 297.5 807.6 295.6 M760.7 341.6 762.2 347.5 M815.4 352.5 820.1 354.5 823.2 359.7 827.1 361.6 838.8 365.5 M827.1 361.6 825.5 367.8 824 372.5 826.3 377.2 829.4 380.3 833.3 384.2 831 388.1 827.1 392.8 824.8 392.8 823.2 397.5 M827.9 289.7 829.4 295.9 831.8 302.2 832.6 310 834.9 314.7 838 321.7 840.4 330.3 841.9 344.4 844.3 358.4 841.2 363.1 838.8 365.5 M840.4 330.6 849.8 328 865.4 324.1 872.4 319.7 874.8 322.5 M841.9 344.4 852.9 341.6 865.4 338.1 866.9 338.1 867.2 349.8 M852.1 285 853.7 291.2 849.8 296.7 848.2 303.8 849 316.2 849.8 328 M858.3 285 865.4 302.2 871.6 316.2 872.4 319.7 M748.5 385 750.1 392.8 749.3 400.6 746.9 408.4 743.8 416.2 739.1 420.9 736.8 425.6 736 429.5 M768 408.4 769.6 416.2 773.5 411.6 778.2 407.7 782.9 408.4 786 405.3 789.9 404.5 793.8 408.4 795.4 411.6 798.5 413.1 803.2 415.5 807.1 413.9 806.3 418.6 804.8 423.3 M786 405.3 786 409.2 784.4 416.2 781.3 422.5 776.6 430.3 769.6 430.3 768 438.1 765.7 444.4 763.3 449.1 764.9 451.4 761 454.5 754.8 457.7 748.5 458.4 745.4 460 740.7 457.7 736 454.5 M736 473.8 831.3 455 M747.7 472.2 747.2 477.2 743 480 739.1 482.7 736 486.6 M736 501.4 745.4 499.1 761.8 497.5 767.2 501.4 782.9 499.8 789.1 503 791.5 505 M821.2 396.7 826.6 418.1 836 416.2 M727.2 506.1 740.5 499.8 761.6 497.2 766.3 501.9 783.5 499.4 803.8 513.6 M727.2 506.1 728 510.8 734.3 514.7 738.2 518.6 741.3 522.5 746 526.4 749.9 529.5 753.8 533.4 758.5 537.3 762.4 541.2 765.5 545.9 769.4 549.8 771 553.8 774.1 554.5 M705.7 554.5 709.3 561.6 707.7 569.4 710.1 578.8 711.6 585 714.8 589.7 M714.8 589.7 760.1 586.2 760.8 589.4 762.4 588.1 762.4 581.6 770.2 581.1 M806.7 650 808.5 658.8 809.4 667.6 808.5 676.4 M563.8 559.9 564.1 576.6 568.5 585.4 572.9 596 572 606.5 570.3 615.3 569.4 619.7 M607.2 545 609.8 553.8 608.9 559.9 612.5 567.9 614.2 572.2 610.7 577.5 607.2 582.8 606.3 588.9 603.7 592.5 604.6 596.9 635.3 594.2 636.2 601.2 638 606.5 639.7 610.9 M670.5 591.1 674 597.7 674.9 601.2 M703 545 707.4 553.8 710 562.6 709.1 571.4 710.9 581.9 713.5 588.1 716 589.8 M376 594 381.3 599.3 386.5 605.4 389.2 611.6 390.1 617.7 393.6 623.9 398.9 628.3 405.9 632.7 412.9 637.1 417.3 633.6 419.9 627.4 422.6 622.7 428.7 620.4 434 622.1 442.8 622.7 446.3 626.5 451.6 632.7 456 639.7 458.6 645.9 462.1 652 467.4 658.2 472.7 663.4 475.3 667.8 474.8 672.2 478 677.5 481.5 686.3 488.5 690.7 497.3 695.1 506.1 696 511.3 698.6 514.9 696.8 M243.9 505 247.4 510.9 248.6 515.5 242.7 521.4 238 528.4 236.1 536.6 238.5 541.3 233.3 542.5 M368.1 585.9 374 592.9 376.1 594.1"/>
</g>
<rect x="115.6" y="186.4" width="870.9" height="529.9" fill="none" stroke="#111" stroke-width="1.15"/>
<path d="M98.5 272.6 H115.6 M986.5 234 H1004 M98.5 372 H115.6 M986.5 336.6 H1004 M98.5 470.6 H115.6 M986.5 437.8 H1004 M98.5 569.2 H115.6 M986.5 538.7 H1004 M98.5 668.7 H115.6 M986.5 640.2 H1004 M287.4 716.3 V732.5 M465 716.3 V732.5 M641.7 716.3 V732.5 M821.9 716.3 V732.5 M235.5 169.5 V186.4 M417.6 169.5 V186.4 M595 169.5 V186.4 M777.8 169.5 V186.4 M977 169.5 V186.4" stroke="#000" stroke-width="1" fill="none"/>
<text x="20.3" y="282.4" font-size="28.2">45°N</text>
<text x="20.3" y="381.8" font-size="28.2">40°N</text>
<text x="20.3" y="480.4" font-size="28.2">35°N</text>
<text x="20.3" y="579" font-size="28.2">30°N</text>
<text x="20.3" y="678.5" font-size="28.2">25°N</text>
<text x="286.4" y="761.6" font-size="28.2" text-anchor="middle">110°W</text>
<text x="463.2" y="761.6" font-size="28.2" text-anchor="middle">100°W</text>
<text x="641" y="761.6" font-size="28.2" text-anchor="middle">90°W</text>
<text x="821.9" y="761.6" font-size="28.2" text-anchor="middle">80°W</text>
<text x="240.2" y="141.4" font-size="36.4" textLength="171" lengthAdjust="spacingAndGlyphs">2025-11-27</text>
<text x="422.4" y="141.4" font-size="36.4">12</text>
<text x="466.8" y="141.4" font-size="36.4" textLength="75.7" lengthAdjust="spacingAndGlyphs">UTC</text>
<text x="549" y="141.4" font-size="36.4">NO</text>
<text x="603.3" y="148" font-size="21.5">2</text>
<text x="622.5" y="141.4" font-size="36.4">Forecast</text>
<text x="756.6" y="141.4" font-size="36.4" textLength="106.2" lengthAdjust="spacingAndGlyphs">(ppbV)</text>
<rect x="195.3" y="800" width="32.4" height="43.299999999999955" fill="#ffffff"/><rect x="227.7" y="800" width="32.4" height="43.299999999999955" fill="#dff3fc"/><rect x="260" y="800" width="32.4" height="43.299999999999955" fill="#bfe6f8"/><rect x="292.4" y="800" width="32.4" height="43.299999999999955" fill="#9dd9f6"/><rect x="324.7" y="800" width="32.4" height="43.299999999999955" fill="#82c0e8"/><rect x="357.1" y="800" width="32.4" height="43.299999999999955" fill="#6aaade"/><rect x="389.4" y="800" width="32.4" height="43.299999999999955" fill="#4a8bc9"/><rect x="421.8" y="800" width="32.4" height="43.299999999999955" fill="#4a9a9b"/><rect x="454.1" y="800" width="32.4" height="43.299999999999955" fill="#4aa572"/><rect x="486.5" y="800" width="32.4" height="43.299999999999955" fill="#4cb349"/><rect x="518.8" y="800" width="32.4" height="43.299999999999955" fill="#83c54e"/><rect x="551.2" y="800" width="32.4" height="43.299999999999955" fill="#c0d855"/><rect x="583.5" y="800" width="32.4" height="43.299999999999955" fill="#f8e95c"/><rect x="615.9" y="800" width="32.4" height="43.299999999999955" fill="#f8c04c"/><rect x="648.2" y="800" width="32.4" height="43.299999999999955" fill="#f79a3c"/><rect x="680.5" y="800" width="32.4" height="43.299999999999955" fill="#f46f2c"/><rect x="712.9" y="800" width="32.4" height="43.299999999999955" fill="#eb5529"/><rect x="745.2" y="800" width="32.4" height="43.299999999999955" fill="#e03d28"/><rect x="777.6" y="800" width="32.4" height="43.299999999999955" fill="#d4202a"/><rect x="810" y="800" width="32.4" height="43.299999999999955" fill="#bf1c26"/><rect x="842.3" y="800" width="32.4" height="43.299999999999955" fill="#ab1a21"/><rect x="874.7" y="800" width="32.4" height="43.299999999999955" fill="#8e151b"/>
<path d="M227.7 800 V843.3 M260 800 V843.3 M292.4 800 V843.3 M324.7 800 V843.3 M357.1 800 V843.3 M389.4 800 V843.3 M421.8 800 V843.3 M454.1 800 V843.3 M486.5 800 V843.3 M518.8 800 V843.3 M551.2 800 V843.3 M583.5 800 V843.3 M615.9 800 V843.3 M648.2 800 V843.3 M680.5 800 V843.3 M712.9 800 V843.3 M745.2 800 V843.3 M777.6 800 V843.3 M810 800 V843.3 M842.3 800 V843.3 M874.7 800 V843.3" stroke="#1a1a1a" stroke-width="0.6" fill="none"/>
<rect x="195.3" y="800" width="711.7" height="43.299999999999955" fill="none" stroke="#666" stroke-width="0.8"/>
<text x="227.7" y="869.5" font-size="18.6" text-anchor="middle">0</text><text x="260" y="869.5" font-size="18.6" text-anchor="middle">2</text><text x="292.4" y="869.5" font-size="18.6" text-anchor="middle">4</text><text x="324.7" y="869.5" font-size="18.6" text-anchor="middle">6</text><text x="357.1" y="869.5" font-size="18.6" text-anchor="middle">8</text><text x="389.4" y="869.5" font-size="18.6" text-anchor="middle">10</text><text x="421.8" y="869.5" font-size="18.6" text-anchor="middle">12</text><text x="454.1" y="869.5" font-size="18.6" text-anchor="middle">14</text><text x="486.5" y="869.5" font-size="18.6" text-anchor="middle">16</text><text x="518.8" y="869.5" font-size="18.6" text-anchor="middle">18</text><text x="551.2" y="869.5" font-size="18.6" text-anchor="middle">20</text><text x="583.5" y="869.5" font-size="18.6" text-anchor="middle">22</text><text x="615.9" y="869.5" font-size="18.6" text-anchor="middle">24</text><text x="648.2" y="869.5" font-size="18.6" text-anchor="middle">26</text><text x="680.5" y="869.5" font-size="18.6" text-anchor="middle">28</text><text x="712.9" y="869.5" font-size="18.6" text-anchor="middle">30</text><text x="745.2" y="869.5" font-size="18.6" text-anchor="middle">32</text><text x="777.6" y="869.5" font-size="18.6" text-anchor="middle">34</text><text x="810" y="869.5" font-size="18.6" text-anchor="middle">36</text><text x="842.3" y="869.5" font-size="18.6" text-anchor="middle">38</text><text x="874.7" y="869.5" font-size="18.6" text-anchor="middle">40</text>
<g id="logo">
<text x="900" y="954" font-size="43" font-weight="bold" fill="#0a6a42" style="fill:#0a6a42" textLength="36.5" lengthAdjust="spacingAndGlyphs">M</text>
<text x="934" y="954" font-size="26.3" font-weight="bold" style="fill:#0a6a42" textLength="63.5" lengthAdjust="spacingAndGlyphs">ASON</text>
<text class="sans" x="938.5" y="933" font-size="11" textLength="60.5" lengthAdjust="spacing">GEORGE</text>
<text class="sans" x="901" y="964.6" font-size="7.6" textLength="97" lengthAdjust="spacing">UNIVERSITY</text>
<path d="M924.3 918.5 C929 909 938 904 950 900.3 C947 906 944 909 941 911 C934 912 928 915 924.3 918.5Z" fill="#fbbc2b"/>
<path d="M922.5 923.5 C927.5 915.5 936 912.5 944.3 911.3 L942.5 915.8 C935 916.3 928 919 922.5 923.5Z" fill="#0a6a42"/>
<path d="M921.3 927 C926 920.3 933 917.6 942 916.6 L940.8 920.3 C933.5 921 927 923 921.3 927Z" fill="#0a6a42"/>
</g>
</svg>
</body></html>
